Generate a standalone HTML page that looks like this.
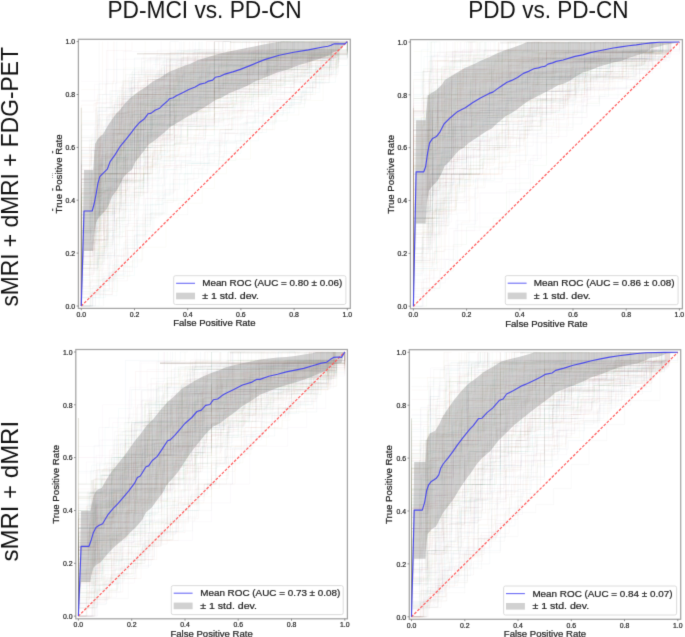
<!DOCTYPE html>
<html><head><meta charset="utf-8"><style>
html,body{margin:0;padding:0;background:#fff;width:685px;height:637px;overflow:hidden;font-family:"Liberation Sans", sans-serif;}
svg{display:block;}
</style></head><body>
<svg width="685" height="637" viewBox="0 0 685 637" font-family='"Liberation Sans", sans-serif'>
<defs><filter id="blur" x="0" y="0" width="1" height="1" filterUnits="objectBoundingBox" color-interpolation-filters="sRGB"><feConvolveMatrix order="3" kernelMatrix="0.0113 0.0838 0.0113 0.0838 0.6193 0.0838 0.0113 0.0838 0.0113" edgeMode="duplicate" preserveAlpha="false"/></filter></defs>
<g filter="url(#blur)"><rect x="0" y="0" width="685" height="637" fill="#fff"/>
<clipPath id="clipTL"><rect x="78.4" y="39.3" width="271.9" height="269.1"/></clipPath>
<g clip-path="url(#clipTL)">
<g fill="none" stroke="#3a739b" stroke-opacity="0.055" stroke-width="0.7"><path d="M81.3 137.7H98.0H114.6V101.7H131.2V77.7H147.8H164.5V65.6H181.1H197.7V53.6H214.3V41.6H230.9"/><path d="M81.3 269.9H98.0V257.9H114.6V209.9H131.2H147.8V185.8H164.5V137.7H181.1V125.7H197.7H214.3V101.7H230.9V89.7H247.6H264.2H280.8V77.7H297.4V65.6H314.1H330.7V53.6"/><path d="M81.3 239.9H90.5V213.5H99.7V200.2H108.9V173.8H118.0H127.2H136.4V134.1H145.5H154.7H163.9H173.1V120.9H182.2V107.7H191.4H200.6V94.5H209.7H218.9H228.1V81.3H237.3H246.4H255.6H264.8V68.0H273.9H283.1H292.3V54.8H301.4H310.6H319.8H329.0H338.1V41.6"/><path d="M81.3 231.6H89.4H97.5V223.4H105.5V215.1H113.6V182.1H121.6H129.7V165.5H137.8H145.8V132.5H153.9H161.9H170.0V124.2H178.1H186.1H194.2V116.0H202.2H210.3V91.2H218.4V82.9H226.4H234.5H242.5H250.6H258.6V66.4H266.7H274.8H282.8H290.9V58.1H298.9H307.0H315.1H323.1H331.2V49.9H339.2"/><path d="M81.3 306.0V217.9H92.0H102.6V140.8H113.3H123.9H134.5V129.7H145.2V107.7H155.8H166.5V85.7H177.1H187.7V74.7H198.4V63.6H209.0H219.6H230.3H240.9H251.6V52.6H262.2H272.8V41.6H283.5H294.1H304.7"/><path d="M81.3 223.9H91.6H101.8V187.5H112.0V178.4H122.3V169.2H132.5V114.5H142.7H153.0H163.2H173.4V105.4H183.6H193.9V96.3H204.1V87.2H214.3H224.6H234.8H245.0V69.0H255.2H265.5H275.7H285.9H296.2V50.7H306.4H316.6H326.8H337.1H347.3V41.6"/><path d="M81.3 180.1H98.0V154.9H114.6V104.6H131.2H147.8V79.4H164.5V54.2H181.1H197.7H214.3H230.9H247.6H264.2V41.6"/><path d="M81.3 292.8H97.0V253.1H112.6V226.7H128.3V187.0H143.9V173.8H159.6V160.6H175.2H190.9V120.9H206.5H222.1V107.7H237.8H253.4V94.5H269.1H284.7V81.3H300.4H316.0V68.0H331.7V54.8H347.3V41.6"/><path d="M81.3 306.0V214.0H90.2H99.1V191.0H107.9V168.1H116.8V145.1H125.7H134.5V122.1H143.4V110.6H152.3H161.1H170.0V99.1H178.9V76.1H187.7H196.6H205.5H214.3V64.6H223.2H232.1H240.9V53.1H249.8H258.6H267.5H276.4H285.2H294.1V41.6"/><path d="M81.3 233.1H91.6V196.6H101.8V160.1H112.0V151.0H122.3H132.5V114.5H142.7V105.4H153.0H163.2H173.4V78.1H183.6V69.0H193.9H204.1H214.3V59.8H224.6H234.8H245.0H255.2H265.5H275.7V50.7H285.9H296.2H306.4H316.6V41.6"/><path d="M81.3 306.0V214.8H89.7H98.0H106.3V178.4H114.6H122.9V169.2H131.2V141.9H139.5H147.8H156.1V123.7H164.5V114.5H172.8V105.4H181.1H189.4V96.3H197.7V59.8H206.0H214.3H222.6H230.9H239.3H247.6H255.9H264.2H272.5H280.8H289.1H297.4V50.7H305.7H314.1H322.4H330.7H339.0V41.6"/><path d="M81.3 206.9H94.6H107.9V198.6H121.2V165.5H134.5V140.8H147.8V124.2H161.1H174.4V99.4H187.7H201.0V74.7H214.3H227.6H240.9H254.2H267.5V66.4H280.8H294.1H307.4V58.1H320.7V49.9H334.0"/><path d="M81.3 152.9H89.7V139.0H98.0V111.2H106.3V69.4H114.6H122.9H131.2H139.5H147.8H156.1V55.5H164.5H172.8H181.1V41.6"/><path d="M81.3 306.0V140.8H90.2H99.1V107.7H107.9H116.8H125.7V91.2H134.5V58.1H143.4H152.3H161.1H170.0V41.6H178.9"/><path d="M81.3 306.0V194.1H89.4V173.8H97.5V163.6H105.5V153.5H113.6V133.1H121.6V112.8H129.7V102.6H137.8H145.8H153.9V92.4H161.9H170.0H178.1V82.3H186.1H194.2H202.2V72.1H210.3H218.4H226.4V61.9H234.5H242.5H250.6H258.6H266.7V41.6"/><path d="M81.3 203.2H95.3V129.7H109.3V115.0H123.3H137.3V100.4H151.3H165.3V85.7H179.3V71.0H193.3H207.3H221.3V56.3H235.3H249.3H263.3H277.3V41.6H291.3"/><path d="M81.3 264.3H89.2H97.0V208.6H104.8H112.6V180.8H120.5H128.3V166.8H136.1V152.9H143.9V139.0H151.7V125.1H159.6H167.4H175.2V111.2H183.0H190.9H198.7V97.3H206.5H214.3H222.1V83.3H230.0H237.8H245.6H253.4H261.3H269.1V69.4H276.9H284.7H292.5H300.4H308.2V55.5H316.0H323.8H331.7V41.6"/><path d="M81.3 226.7H90.2H99.1H107.9V200.2H116.8V160.6H125.7H134.5H143.4V147.4H152.3V134.1H161.1H170.0V120.9H178.9H187.7H196.6V107.7H205.5H214.3H223.2V94.5H232.1H240.9V81.3H249.8H258.6H267.5H276.4H285.2H294.1V68.0H303.0H311.8V54.8H320.7H329.6H338.4"/><path d="M81.3 208.1H92.0V188.5H102.6V149.3H113.3H123.9V129.7H134.5H145.2V119.9H155.8V80.8H166.5H177.1V71.0H187.7H198.4H209.0H219.6H230.3H240.9V61.2H251.6V51.4H262.2H272.8H283.5H294.1V41.6H304.7"/><path d="M81.3 306.0V162.8H96.1H110.9V96.7H125.7H140.4H155.2V74.7H170.0V52.6H184.8H199.6H214.3V41.6"/><path d="M81.3 306.0V125.1H90.2H99.1V83.3H107.9H116.8V41.6"/><path d="M81.3 306.0V164.4H92.4H103.5V126.6H114.6V117.1H125.7V88.8H136.8H147.8V79.4H158.9V69.9H170.0H181.1V51.0H192.2H203.2H214.3H225.4V41.6"/><path d="M81.3 268.2H98.0V255.6H114.6V205.3H131.2V192.7H147.8V154.9H164.5V142.3H181.1V129.7H197.7V104.6H214.3H230.9V92.0H247.6H264.2V79.4H280.8V66.8H297.4H314.1H330.7V54.2"/><path d="M81.3 136.0H94.0H106.7V117.1H119.3V98.3H132.0V79.4H144.7V60.5H157.3H170.0H182.7H195.3V41.6"/><path d="M81.3 264.3H89.2H97.0H104.8V236.4H112.6V208.6H120.5V180.8H128.3H136.1H143.9V152.9H151.7H159.6H167.4V125.1H175.2H183.0V97.3H190.9H198.7H206.5H214.3H222.1H230.0H237.8H245.6H253.4V83.3H261.3H269.1H276.9H284.7V69.4H292.5H300.4H308.2H316.0H323.8V55.5H331.7H339.5"/><path d="M81.3 306.0H95.3V290.4H109.3V274.9H123.3V267.1H137.3V220.5H151.3V212.7H165.3V189.4H179.3V173.8H193.3H207.3V142.7H221.3H235.3V134.9H249.3V127.1H263.3V103.8H277.3H291.3H305.3V88.3H319.3V72.7H333.3V57.2"/></g>
<g fill="none" stroke="#cc792f" stroke-opacity="0.055" stroke-width="0.7"><path d="M81.3 268.2H90.2H99.1V230.5H107.9H116.8V180.1H125.7H134.5H143.4V167.5H152.3V142.3H161.1H170.0V129.7H178.9H187.7H196.6V117.1H205.5H214.3V104.6H223.2H232.1V92.0H240.9H249.8H258.6V79.4H267.5H276.4H285.2V66.8H294.1H303.0H311.8H320.7V54.2H329.6H338.4"/><path d="M81.3 248.5H93.4H105.5V191.0H117.6V179.5H129.7V156.6H141.8H153.9V122.1H166.0V110.6H178.1H190.1H202.2V99.1H214.3V87.6H226.4H238.5H250.6H262.7V76.1H274.8V64.6H286.9H298.9H311.0V53.1H323.1H335.2"/><path d="M81.3 89.7H92.0H102.6V41.6"/><path d="M81.3 156.6H96.1V99.1H110.9H125.7H140.4V76.1H155.2H170.0V53.1H184.8V41.6"/><path d="M81.3 160.6H89.2H97.0V107.7H104.8H112.6V81.3H120.5H128.3H136.1H143.9H151.7H159.6V54.8H167.4H175.2V41.6"/><path d="M81.3 173.8H89.4V144.4H97.5V115.0H105.5H113.6H121.6V85.7H129.7H137.8H145.8V71.0H153.9H161.9H170.0V56.3H178.1H186.1H194.2H202.2H210.3H218.4V41.6"/><path d="M81.3 226.7H95.3V173.8H109.3H123.3V160.6H137.3V120.9H151.3V107.7H165.3H179.3V94.5H193.3V81.3H207.3H221.3H235.3H249.3V68.0H263.3H277.3H291.3V54.8H305.3H319.3V41.6"/><path d="M81.3 239.9H90.5V213.5H99.7V173.8H108.9H118.0V134.1H127.2H136.4H145.5V94.5H154.7H163.9H173.1V81.3H182.2H191.4H200.6H209.7H218.9H228.1V68.0H237.3H246.4H255.6V54.8H264.8H273.9H283.1H292.3V41.6"/><path d="M81.3 243.8H94.6H107.9V181.6H121.2V150.5H134.5H147.8V134.9H161.1V119.4H174.4V103.8H187.7H201.0H214.3V72.7H227.6H240.9H254.2H267.5V57.2H280.8H294.1H307.4H320.7H334.0V41.6"/><path d="M81.3 249.3H91.2H101.0V211.6H110.9V173.8H120.8H130.6H140.4H150.3V154.9H160.2V136.0H170.0H179.9V117.1H189.7V98.3H199.6H209.4H219.2V79.4H229.1H239.0H248.8H258.6V60.5H268.5H278.4H288.2H298.1H307.9H317.8H327.6V41.6H337.5"/><path d="M81.3 169.2H99.1V114.5H116.8V105.4H134.5H152.3H170.0V78.1H187.7H205.5V59.8H223.2H240.9V50.7H258.6H276.4V41.6"/><path d="M81.3 293.4H90.2H99.1V268.2H107.9H116.8V255.6H125.7V230.5H134.5V192.7H143.4H152.3V167.5H161.1H170.0V154.9H178.9V142.3H187.7H196.6V129.7H205.5H214.3H223.2H232.1V117.1H240.9V92.0H249.8H258.6H267.5H276.4H285.2H294.1V79.4H303.0H311.8H320.7H329.6V66.8H338.4V54.2"/><path d="M81.3 261.9H92.9H104.5V173.8H116.0V159.1H127.6H139.2V144.4H150.7V129.7H162.3V115.0H173.9H185.4H197.0H208.5V100.4H220.1V85.7H231.7V71.0H243.2H254.8H266.4H277.9V56.3H289.5H301.0H312.6H324.2H335.7"/><path d="M81.3 274.9H91.2V267.1H101.0V220.5H110.9H120.8H130.6V197.1H140.4V173.8H150.3V166.0H160.2H170.0V150.5H179.9V134.9H189.7H199.6V119.4H209.4H219.2H229.1V103.8H239.0H248.8V96.0H258.6H268.5V88.3H278.4V80.5H288.2H298.1V72.7H307.9H317.8V57.2H327.6H337.5V49.4"/><path d="M81.3 192.7H94.6H107.9V154.9H121.2V117.1H134.5H147.8V98.3H161.1H174.4V79.4H187.7H201.0V60.5H214.3H227.6H240.9H254.2H267.5H280.8V41.6"/><path d="M81.3 154.9H90.8H100.3V117.1H109.8H119.3H128.8V98.3H138.3H147.8V79.4H157.3H166.8H176.3V60.5H185.8H195.3H204.8H214.3V41.6"/><path d="M81.3 306.0V255.6H92.4H103.5V205.3H114.6V192.7H125.7V180.1H136.8V142.3H147.8H158.9V129.7H170.0H181.1H192.2H203.2V104.6H214.3H225.4H236.5V66.8H247.6H258.6H269.7H280.8H291.9H303.0V54.2H314.1H325.1H336.2"/><path d="M81.3 154.9H92.0H102.6V142.3H113.3V104.6H123.9V92.0H134.5V79.4H145.2H155.8H166.5V66.8H177.1H187.7V54.2H198.4H209.0H219.6H230.3V41.6"/><path d="M81.3 306.0V274.0H92.4H103.5H114.6V249.9H125.7V225.9H136.8V169.8H147.8V137.7H158.9H170.0H181.1H192.2H203.2V129.7H214.3V113.7H225.4H236.5H247.6V89.7H258.6H269.7V81.7H280.8H291.9H303.0V65.6H314.1H325.1H336.2V57.6"/><path d="M81.3 197.1H100.3V166.0H119.3V103.8H138.3V88.3H157.3H176.3V72.7H195.3V57.2H214.3H233.3H252.3H271.3V41.6"/><path d="M81.3 306.0V179.5H97.0V156.6H112.6V133.6H128.3V110.6H143.9V76.1H159.6H175.2H190.9H206.5H222.1V64.6H237.8H253.4V53.1H269.1V41.6H284.7"/><path d="M81.3 156.6H90.8H100.3V133.6H109.8H119.3V87.6H128.8H138.3H147.8V76.1H157.3H166.8V53.1H176.3H185.8H195.3H204.8H214.3H223.8V41.6"/><path d="M81.3 288.4H92.0H102.6H113.3V270.7H123.9V253.1H134.5V235.5H145.2V217.9H155.8V200.2H166.5H177.1V165.0H187.7H198.4H209.0H219.6V129.7H230.3H240.9H251.6H262.2H272.8V94.5H283.5H294.1H304.7H315.4V76.9H326.0H336.7V59.2H347.3V41.6"/><path d="M81.3 279.6H90.2H99.1V270.7H107.9V253.1H116.8V217.9H125.7V191.4H134.5H143.4V173.8H152.3V165.0H161.1V156.2H170.0H178.9V147.4H187.7V138.5H196.6H205.5V129.7H214.3H223.2H232.1V112.1H240.9H249.8H258.6V85.7H267.5H276.4V76.9H285.2H294.1H303.0H311.8H320.7V68.0H329.6H338.4V59.2"/><path d="M81.3 306.0V188.5H92.4V173.8H103.5H114.6V129.7H125.7V115.0H136.8H147.8V100.4H158.9V85.7H170.0H181.1V71.0H192.2H203.2H214.3H225.4H236.5H247.6H258.6V41.6"/><path d="M81.3 306.0V105.1H89.4H97.5V94.5H105.5V83.9H113.6V41.6"/></g>
<g fill="none" stroke="#438e43" stroke-opacity="0.055" stroke-width="0.7"><path d="M81.3 306.0V291.3H90.2V276.6H99.1V247.2H107.9V232.6H116.8V217.9H125.7V188.5H134.5H143.4V173.8H152.3V159.1H161.1V144.4H170.0H178.9H187.7V129.7H196.6H205.5V115.0H214.3H223.2H232.1V100.4H240.9H249.8V85.7H258.6H267.5H276.4H285.2V71.0H294.1H303.0H311.8H320.7H329.6V56.3H338.4"/><path d="M81.3 236.4H92.9V208.6H104.5H116.0V180.8H127.6V125.1H139.2H150.7V111.2H162.3H173.9V83.3H185.4H197.0H208.5H220.1H231.7V69.4H243.2H254.8V55.5H266.4H277.9H289.5H301.0H312.6H324.2V41.6H335.7"/><path d="M81.3 200.2H93.4H105.5V173.8H117.6V134.1H129.7H141.8H153.9V107.7H166.0V94.5H178.1V81.3H190.1H202.2H214.3V68.0H226.4H238.5H250.6H262.7H274.8V54.8H286.9H298.9H311.0H323.1V41.6"/><path d="M81.3 306.0V261.9H92.4H103.5V203.2H114.6H125.7V159.1H136.8H147.8V129.7H158.9H170.0V115.0H181.1H192.2V100.4H203.2H214.3H225.4H236.5V85.7H247.6V71.0H258.6H269.7H280.8H291.9V56.3H303.0H314.1H325.1H336.2V41.6"/><path d="M81.3 230.5H92.4V192.7H103.5V167.5H114.6H125.7H136.8V117.1H147.8H158.9H170.0V104.6H181.1H192.2H203.2V92.0H214.3H225.4V66.8H236.5H247.6H258.6H269.7V54.2H280.8H291.9H303.0H314.1H325.1H336.2V41.6"/><path d="M81.3 253.1H92.9H104.5V213.5H116.0V187.0H127.6H139.2V147.4H150.7H162.3V134.1H173.9V120.9H185.4H197.0V107.7H208.5H220.1V94.5H231.7H243.2H254.8V81.3H266.4V68.0H277.9H289.5H301.0V54.8H312.6H324.2H335.7"/><path d="M81.3 230.5H89.4V211.6H97.5V192.7H105.5V154.9H113.6H121.6H129.7H137.8V117.1H145.8H153.9V98.3H161.9H170.0H178.1H186.1V79.4H194.2H202.2H210.3H218.4H226.4V60.5H234.5H242.5H250.6H258.6H266.7H274.8H282.8H290.9H298.9H307.0H315.1H323.1H331.2V41.6"/><path d="M81.3 280.4H91.6H101.8V246.3H112.0V237.8H122.3V195.1H132.5H142.7V178.1H153.0H163.2V161.0H173.4V143.9H183.6H193.9V135.4H204.1H214.3V118.4H224.6H234.8V101.3H245.0H255.2H265.5V75.7H275.7H285.9H296.2H306.4H316.6V67.2H326.8H337.1V50.1"/><path d="M81.3 306.0V188.5H91.6V139.5H101.8V119.9H112.0V100.4H122.3V80.8H132.5V71.0H142.7H153.0H163.2V61.2H173.4H183.6V51.4H193.9H204.1H214.3H224.6H234.8V41.6"/><path d="M81.3 263.7H92.0H102.6V242.5H113.3V232.0H123.9V200.2H134.5V157.9H145.2H155.8H166.5H177.1V136.8H187.7V126.2H198.4H209.0V105.1H219.6H230.3H240.9H251.6V83.9H262.2H272.8H283.5H294.1V73.3H304.7H315.4V62.8H326.0H336.7V52.2H347.3V41.6"/><path d="M81.3 261.9H90.2H99.1V239.9H107.9V195.8H116.8H125.7H134.5H143.4V162.8H152.3V151.8H161.1H170.0V140.8H178.9H187.7V118.7H196.6H205.5H214.3V107.7H223.2H232.1V96.7H240.9H249.8H258.6H267.5H276.4V85.7H285.2V74.7H294.1H303.0V63.6H311.8H320.7H329.6H338.4V52.6H347.3V41.6"/><path d="M81.3 306.0H89.9V292.8H98.5V279.6H107.1H115.7V266.3H124.2H132.8V226.7H141.4H150.0V213.5H158.6H167.1V200.2H175.7H184.3V173.8H192.9H201.5H210.0H218.6V160.6H227.2H235.8V147.4H244.4V134.1H252.9V120.9H261.5H270.1H278.7H287.2V107.7H295.8H304.4V94.5H313.0V81.3H321.6V68.0H330.1V54.8H338.7H347.3V41.6"/><path d="M81.3 197.1H100.3V158.2H119.3V150.5H138.3V103.8H157.3H176.3V88.3H195.3V72.7H214.3V57.2H233.3H252.3H271.3V49.4H290.3H309.3V41.6"/><path d="M81.3 221.9H100.3V173.8H119.3V149.8H138.3V125.7H157.3H176.3V101.7H195.3H214.3V77.7H233.3V65.6H252.3V53.6H271.3H290.3V41.6"/><path d="M81.3 190.3H96.1V107.7H110.9V91.2H125.7V74.7H140.4H155.2H170.0V58.1H184.8H199.6V41.6"/><path d="M81.3 223.4H89.4H97.5V206.9H105.5V190.3H113.6V157.3H121.6V140.8H129.7V124.2H137.8H145.8H153.9H161.9V91.2H170.0H178.1H186.1H194.2H202.2H210.3V74.7H218.4H226.4H234.5H242.5V58.1H250.6H258.6H266.7H274.8H282.8H290.9H298.9H307.0H315.1V41.6"/><path d="M81.3 258.8H94.6H107.9V202.1H121.2V183.2H134.5V173.8H147.8V145.5H161.1H174.4V136.0H187.7V126.6H201.0V98.3H214.3V88.8H227.6H240.9H254.2V79.4H267.5V51.0H280.8H294.1H307.4H320.7H334.0H347.3V41.6"/><path d="M81.3 214.8H92.0H102.6V187.5H113.3V169.2H123.9V123.7H134.5V114.5H145.2V105.4H155.8H166.5H177.1V96.3H187.7V87.2H198.4V78.1H209.0H219.6H230.3H240.9V69.0H251.6V59.8H262.2H272.8V50.7H283.5H294.1H304.7H315.4V41.6"/><path d="M81.3 306.0V242.5H95.3V179.1H109.3H123.3V147.4H137.3H151.3V115.6H165.3V105.1H179.3V94.5H193.3H207.3V73.3H221.3V62.8H235.3H249.3H263.3H277.3V52.2H291.3H305.3H319.3H333.3"/><path d="M81.3 231.6H100.3V190.3H119.3V182.1H138.3V140.8H157.3V116.0H176.3V107.7H195.3H214.3V74.7H233.3H252.3H271.3V66.4H290.3V58.1H309.3H328.3V49.9"/><path d="M81.3 185.8H94.0V169.8H106.7H119.3V129.7H132.0V121.7H144.7V105.7H157.3H170.0V81.7H182.7H195.3H208.0V65.6H220.7H233.3H246.0H258.6V57.6H271.3H284.0V49.6H296.6H309.3H322.0V41.6H334.6"/><path d="M81.3 306.0V203.2H97.0V173.8H112.6V159.1H128.3V129.7H143.9V100.4H159.6H175.2V85.7H190.9V71.0H206.5V56.3H222.1H237.8H253.4H269.1V41.6"/><path d="M81.3 206.9H91.2H101.0V173.8H110.9H120.8V140.8H130.6H140.4V124.2H150.3H160.2V107.7H170.0H179.9H189.7H199.6V91.2H209.4H219.2V74.7H229.1H239.0H248.8H258.6V58.1H268.5H278.4H288.2H298.1V41.6"/><path d="M81.3 306.0V184.8H93.4H105.5V129.7H117.6V96.7H129.7H141.8V85.7H153.9H166.0H178.1V63.6H190.1H202.2H214.3V41.6"/><path d="M81.3 239.9H89.2H97.0V190.3H104.8H112.6H120.5V165.5H128.3H136.1V157.3H143.9V132.5H151.7H159.6H167.4V124.2H175.2V116.0H183.0H190.9V107.7H198.7H206.5V82.9H214.3H222.1H230.0H237.8H245.6H253.4H261.3H269.1V66.4H276.9V58.1H284.7H292.5H300.4H308.2H316.0H323.8H331.7V49.9H339.5H347.3V41.6"/><path d="M81.3 217.9H98.0V165.0H114.6H131.2V94.5H147.8H164.5H181.1H197.7H214.3V59.2H230.9H247.6H264.2H280.8V41.6H297.4H314.1"/></g>
<g fill="none" stroke="#b13f40" stroke-opacity="0.055" stroke-width="0.7"><path d="M81.3 112.1H94.0V103.3H106.7V50.4H119.3H132.0V41.6"/><path d="M81.3 239.9H94.0H106.7V228.9H119.3V184.8H132.0V162.8H144.7H157.3V129.7H170.0V107.7H182.7H195.3H208.0H220.7H233.3V96.7H246.0V85.7H258.6V74.7H271.3H284.0V63.6H296.6H309.3H322.0V52.6H334.6"/><path d="M81.3 206.9H94.0V190.3H106.7V157.3H119.3V124.2H132.0V91.2H144.7H157.3H170.0V41.6"/><path d="M81.3 179.5H96.1V145.1H110.9V122.1H125.7H140.4V87.6H155.2H170.0V76.1H184.8V64.6H199.6H214.3V41.6H229.1"/><path d="M81.3 256.4H92.9V239.9H104.5V190.3H116.0H127.6V157.3H139.2H150.7V140.8H162.3H173.9V124.2H185.4H197.0V107.7H208.5V91.2H220.1H231.7H243.2V74.7H254.8H266.4V58.1H277.9H289.5H301.0H312.6H324.2H335.7V41.6"/><path d="M81.3 294.5H97.0H112.6V260.0H128.3V248.5H143.9V191.0H159.6H175.2V156.6H190.9V145.1H206.5H222.1V133.6H237.8V110.6H253.4H269.1V99.1H284.7V87.6H300.4H316.0V76.1H331.7V64.6"/><path d="M81.3 306.0V204.3H93.4V184.0H105.5V153.5H117.6V143.3H129.7V123.0H141.8V112.8H153.9V102.6H166.0V92.4H178.1H190.1V72.1H202.2V51.8H214.3H226.4H238.5H250.6H262.7V41.6"/><path d="M81.3 194.1H99.1V143.3H116.8V112.8H134.5H152.3V92.4H170.0V82.3H187.7H205.5V72.1H223.2H240.9V61.9H258.6H276.4V41.6"/><path d="M81.3 306.0V268.2H90.2V230.5H99.1V192.7H107.9H116.8V167.5H125.7V154.9H134.5H143.4V117.1H152.3H161.1H170.0H178.9V92.0H187.7H196.6H205.5H214.3H223.2H232.1H240.9H249.8V79.4H258.6V66.8H267.5H276.4H285.2V54.2H294.1H303.0H311.8H320.7H329.6H338.4H347.3V41.6"/><path d="M81.3 206.9H91.6V195.8H101.8V140.8H112.0H122.3V107.7H132.5H142.7V96.7H153.0H163.2V74.7H173.4H183.6H193.9V52.6H204.1H214.3H224.6H234.8H245.0H255.2V41.6"/><path d="M81.3 178.7H98.0V139.5H114.6H131.2V119.9H147.8V90.6H164.5V71.0H181.1V61.2H197.7H214.3H230.9V51.4H247.6H264.2H280.8V41.6"/><path d="M81.3 260.0H99.1V225.5H116.8V202.5H134.5V168.1H152.3V156.6H170.0V122.1H187.7H205.5H223.2V110.6H240.9V99.1H258.6V87.6H276.4H294.1V76.1H311.8H329.6V64.6"/><path d="M81.3 306.0V165.0H90.8V147.4H100.3V129.7H109.8H119.3V94.5H128.8H138.3H147.8V59.2H157.3H166.8H176.3H185.8H195.3H204.8H214.3V41.6"/><path d="M81.3 306.0V201.8H99.1V193.8H116.8V153.8H134.5V129.7H152.3V105.7H170.0V89.7H187.7H205.5V73.6H223.2V65.6H240.9H258.6V57.6H276.4H294.1H311.8V41.6"/><path d="M81.3 253.1H92.4V235.5H103.5V191.4H114.6V182.6H125.7V173.8H136.8V147.4H147.8V112.1H158.9H170.0H181.1H192.2V85.7H203.2H214.3H225.4H236.5H247.6V68.0H258.6V59.2H269.7H280.8H291.9H303.0H314.1V41.6"/><path d="M81.3 173.8H91.6H101.8V154.9H112.0V117.1H122.3H132.5V98.3H142.7H153.0V79.4H163.2H173.4H183.6H193.9V60.5H204.1H214.3H224.6H234.8H245.0H255.2V41.6"/><path d="M81.3 210.8H91.2V200.2H101.0V157.9H110.9V147.4H120.8H130.6V126.2H140.4V94.5H150.3H160.2H170.0H179.9H189.7V83.9H199.6H209.4V73.3H219.2V62.8H229.1H239.0H248.8H258.6H268.5V52.2H278.4H288.2H298.1H307.9H317.8H327.6H337.5V41.6"/><path d="M81.3 188.5H90.8H100.3V144.4H109.8V129.7H119.3V115.0H128.8V100.4H138.3V71.0H147.8H157.3H166.8H176.3H185.8H195.3V56.3H204.8H214.3H223.8H233.3V41.6"/><path d="M81.3 274.9H93.4V228.2H105.5V197.1H117.6H129.7V181.6H141.8V166.0H153.9V150.5H166.0V134.9H178.1V119.4H190.1H202.2H214.3V88.3H226.4V72.7H238.5H250.6H262.7H274.8H286.9H298.9H311.0V57.2H323.1H335.2V41.6"/><path d="M81.3 193.8H90.5V177.8H99.7V137.7H108.9V113.7H118.0H127.2V105.7H136.4V97.7H145.5V89.7H154.7H163.9V81.7H173.1H182.2V57.6H191.4H200.6H209.7H218.9H228.1V49.6H237.3H246.4V41.6"/><path d="M81.3 137.7H97.0V125.7H112.6V113.7H128.3V77.7H143.9V53.6H159.6H175.2H190.9H206.5V41.6H222.1"/><path d="M81.3 147.4H95.3H109.3H123.3V81.3H137.3H151.3H165.3H179.3H193.3V68.0H207.3H221.3V54.8H235.3H249.3V41.6"/><path d="M81.3 221.0H90.2H99.1V173.8H107.9H116.8H125.7H134.5V145.5H143.4V107.7H152.3H161.1H170.0H178.9H187.7V98.3H196.6H205.5V88.8H214.3H223.2V79.4H232.1H240.9H249.8V60.5H258.6H267.5H276.4H285.2V51.0H294.1H303.0H311.8H320.7H329.6H338.4"/><path d="M81.3 123.0H96.1V102.6H110.9H125.7V41.6"/><path d="M81.3 306.0V249.3H94.6V211.6H107.9H121.2V192.7H134.5H147.8V145.5H161.1H174.4V117.1H187.7V107.7H201.0H214.3V98.3H227.6V88.8H240.9H254.2V79.4H267.5V69.9H280.8V60.5H294.1H307.4H320.7H334.0V51.0H347.3V41.6"/><path d="M81.3 306.0V287.1H89.4V268.2H97.5V239.9H105.5H113.6V192.7H121.6V173.8H129.7H137.8H145.8V136.0H153.9H161.9H170.0H178.1V126.6H186.1H194.2H202.2V107.7H210.3H218.4H226.4V88.8H234.5H242.5H250.6H258.6V79.4H266.7H274.8V69.9H282.8H290.9H298.9H307.0V60.5H315.1H323.1H331.2V51.0H339.2"/></g>
<g fill="none" stroke="#8669a1" stroke-opacity="0.055" stroke-width="0.7"><path d="M81.3 149.3H95.3V110.1H109.3V90.6H123.3V51.4H137.3H151.3H165.3H179.3V41.6"/><path d="M81.3 256.4H92.9V239.9H104.5V190.3H116.0H127.6V173.8H139.2V140.8H150.7H162.3V124.2H173.9V91.2H185.4H197.0H208.5H220.1V74.7H231.7H243.2H254.8H266.4H277.9V58.1H289.5H301.0H312.6H324.2H335.7V41.6"/><path d="M81.3 129.7H90.2H99.1V94.5H107.9H116.8V59.2H125.7H134.5H143.4H152.3H161.1V41.6"/><path d="M81.3 257.0H90.2V227.7H99.1V178.7H107.9H116.8H125.7H134.5V139.5H143.4V119.9H152.3H161.1V110.1H170.0V100.4H178.9H187.7H196.6H205.5V90.6H214.3H223.2V71.0H232.1H240.9H249.8H258.6H267.5H276.4H285.2V61.2H294.1H303.0H311.8V51.4H320.7H329.6H338.4"/><path d="M81.3 228.2H98.0V212.7H114.6V181.6H131.2V150.5H147.8V134.9H164.5H181.1V103.8H197.7H214.3V88.3H230.9H247.6V72.7H264.2H280.8H297.4V57.2H314.1H330.7H347.3V41.6"/><path d="M81.3 184.8H89.9H98.5V151.8H107.1V107.7H115.7H124.2V96.7H132.8V85.7H141.4H150.0H158.6V74.7H167.1H175.7V63.6H184.3H192.9V52.6H201.5H210.0H218.6H227.2H235.8H244.4H252.9H261.5H270.1V41.6H278.7"/><path d="M81.3 306.0V243.8H98.0V189.4H114.6V173.8H131.2V150.5H147.8V134.9H164.5V96.0H181.1H197.7V80.5H214.3H230.9H247.6H264.2H280.8V57.2H297.4H314.1H330.7V49.4"/><path d="M81.3 306.0V158.2H94.6V127.1H107.9V119.4H121.2V88.3H134.5V72.7H147.8H161.1V64.9H174.4H187.7V49.4H201.0V41.6"/><path d="M81.3 248.2H97.0V215.1H112.6V157.3H128.3V140.8H143.9V124.2H159.6V116.0H175.2H190.9V99.4H206.5V74.7H222.1H237.8H253.4V58.1H269.1H284.7H300.4V49.9H316.0H331.7V41.6"/><path d="M81.3 217.9H92.4V203.2H103.5H114.6H125.7V159.1H136.8V129.7H147.8H158.9V115.0H170.0V100.4H181.1H192.2H203.2H214.3V85.7H225.4H236.5H247.6V71.0H258.6H269.7H280.8H291.9V56.3H303.0V41.6"/><path d="M81.3 182.6H92.0V165.0H102.6V147.4H113.3V129.7H123.9V112.1H134.5H145.2V94.5H155.8V76.9H166.5V59.2H177.1H187.7H198.4H209.0H219.6V41.6"/><path d="M81.3 306.0V212.7H94.0H106.7H119.3V166.0H132.0H144.7V150.5H157.3H170.0V119.4H182.7H195.3V88.3H208.0H220.7H233.3V72.7H246.0H258.6H271.3H284.0H296.6H309.3V57.2H322.0H334.6"/><path d="M81.3 182.6H90.8H100.3V165.0H109.8V147.4H119.3H128.8V129.7H138.3V94.5H147.8V76.9H157.3H166.8V59.2H176.3H185.8H195.3H204.8H214.3H223.8H233.3H242.8H252.3H261.8H271.3V41.6"/><path d="M81.3 306.0V208.6H92.4H103.5V194.7H114.6H125.7V139.0H136.8H147.8H158.9V125.1H170.0V111.2H181.1V97.3H192.2H203.2V83.3H214.3H225.4V69.4H236.5H247.6H258.6H269.7H280.8V55.5H291.9H303.0H314.1H325.1H336.2"/><path d="M81.3 217.9H90.5V184.8H99.7V151.8H108.9V140.8H118.0V129.7H127.2V96.7H136.4H145.5H154.7H163.9V85.7H173.1H182.2V74.7H191.4H200.6H209.7V63.6H218.9H228.1V52.6H237.3H246.4H255.6H264.8V41.6"/><path d="M81.3 165.0H92.4H103.5V129.7H114.6H125.7H136.8V94.5H147.8H158.9H170.0V76.9H181.1H192.2H203.2V59.2H214.3H225.4H236.5H247.6H258.6H269.7V41.6"/><path d="M81.3 157.9H97.0H112.6V105.1H128.3H143.9V83.9H159.6V62.8H175.2H190.9H206.5V52.2H222.1H237.8H253.4H269.1V41.6"/><path d="M81.3 306.0V237.0H91.2V202.5H101.0V156.6H110.9H120.8V145.1H130.6V133.6H140.4V110.6H150.3V99.1H160.2V87.6H170.0H179.9H189.7H199.6V76.1H209.4V64.6H219.2H229.1H239.0V53.1H248.8H258.6H268.5H278.4H288.2H298.1V41.6"/><path d="M81.3 225.5H89.9H98.5V202.5H107.1H115.7V179.5H124.2V145.1H132.8H141.4V122.1H150.0H158.6H167.1V87.6H175.7H184.3H192.9H201.5H210.0H218.6V76.1H227.2H235.8H244.4H252.9H261.5V64.6H270.1H278.7H287.2H295.8V53.1H304.4H313.0H321.6V41.6H330.1"/><path d="M81.3 306.0V221.4H94.6V189.7H107.9H121.2V157.9H134.5V136.8H147.8H161.1V115.6H174.4H187.7V94.5H201.0H214.3V83.9H227.6H240.9H254.2V73.3H267.5V62.8H280.8V52.2H294.1H307.4H320.7H334.0V41.6"/><path d="M81.3 230.5H95.3V217.9H109.3H123.3V142.3H137.3V129.7H151.3V117.1H165.3V104.6H179.3H193.3H207.3V92.0H221.3H235.3H249.3V66.8H263.3H277.3H291.3H305.3V54.2H319.3H333.3V41.6"/><path d="M81.3 195.8H97.0H112.6V140.8H128.3H143.9V129.7H159.6V118.7H175.2V85.7H190.9H206.5H222.1H237.8V74.7H253.4V63.6H269.1H284.7V52.6H300.4H316.0H331.7V41.6"/><path d="M81.3 256.4H94.6V239.9H107.9V223.4H121.2V173.8H134.5H147.8V140.8H161.1H174.4V124.2H187.7H201.0V107.7H214.3H227.6H240.9V91.2H254.2H267.5V74.7H280.8H294.1H307.4V58.1H320.7H334.0"/><path d="M81.3 230.5H96.1V217.9H110.9V180.1H125.7V167.5H140.4V117.1H155.2H170.0V104.6H184.8V66.8H199.6H214.3H229.1H243.9H258.6V54.2H273.4V41.6"/><path d="M81.3 306.0V255.2H89.2H97.0H104.8V245.0H112.6V234.8H120.5V224.6H128.3V214.5H136.1V204.3H143.9V173.8H151.7V163.6H159.6H167.4H175.2V143.3H183.0H190.9H198.7V133.1H206.5V123.0H214.3V112.8H222.1H230.0H237.8V102.6H245.6V92.4H253.4H261.3H269.1H276.9H284.7H292.5H300.4V72.1H308.2H316.0V61.9H323.8H331.7H339.5V51.8"/><path d="M81.3 173.8H89.9H98.5H107.1H115.7V145.5H124.2V136.0H132.8V126.6H141.4H150.0V107.7H158.6H167.1V88.8H175.7H184.3H192.9H201.5V69.9H210.0H218.6H227.2H235.8H244.4H252.9H261.5H270.1V60.5H278.7H287.2H295.8V51.0H304.4H313.0H321.6H330.1V41.6H338.7"/></g>
<g fill="none" stroke="#815e57" stroke-opacity="0.055" stroke-width="0.7"><path d="M81.3 306.0H91.6V294.5H101.8H112.0V271.5H122.3H132.5V260.0H142.7V214.0H153.0H163.2V202.5H173.4V179.5H183.6H193.9V168.1H204.1V156.6H214.3H224.6V133.6H234.8H245.0V122.1H255.2H265.5H275.7V110.6H285.9V99.1H296.2H306.4V87.6H316.6V76.1H326.8V64.6H337.1"/><path d="M81.3 306.0V212.7H90.8H100.3V181.6H109.8V173.8H119.3V142.7H128.8H138.3V127.1H147.8H157.3V103.8H166.8H176.3V96.0H185.8H195.3H204.8H214.3V88.3H223.8V80.5H233.3H242.8H252.3V72.7H261.8H271.3V57.2H280.8H290.3V49.4H299.8H309.3H318.8H328.3H337.8V41.6"/><path d="M81.3 306.0H92.9V293.4H104.5V280.8H116.0H127.6V230.5H139.2H150.7V192.7H162.3H173.9V167.5H185.4V154.9H197.0H208.5H220.1V129.7H231.7V117.1H243.2H254.8V104.6H266.4H277.9H289.5H301.0V92.0H312.6V79.4H324.2V66.8H335.7V54.2H347.3V41.6"/><path d="M81.3 191.0H90.2H99.1V168.1H107.9V133.6H116.8H125.7H134.5V110.6H143.4H152.3H161.1H170.0V76.1H178.9H187.7H196.6H205.5H214.3V64.6H223.2H232.1V53.1H240.9H249.8H258.6V41.6"/><path d="M81.3 242.5H96.1V232.0H110.9V168.5H125.7H140.4V147.4H155.2V126.2H170.0V115.6H184.8V105.1H199.6H214.3V94.5H229.1V83.9H243.9H258.6V73.3H273.4H288.2V62.8H303.0V52.2H317.8H332.5"/><path d="M81.3 272.9H94.6V239.9H107.9V206.9H121.2V190.3H134.5V157.3H147.8H161.1H174.4V140.8H187.7V124.2H201.0H214.3V107.7H227.6V91.2H240.9H254.2H267.5H280.8V74.7H294.1V58.1H307.4H320.7H334.0"/><path d="M81.3 173.8H92.0H102.6V158.2H113.3V150.5H123.9V119.4H134.5H145.2H155.8V88.3H166.5H177.1V72.7H187.7H198.4H209.0H219.6H230.3H240.9V64.9H251.6H262.2V57.2H272.8V49.4H283.5H294.1H304.7H315.4H326.0V41.6"/><path d="M81.3 228.2H92.4H103.5V181.6H114.6V173.8H125.7V134.9H136.8V119.4H147.8H158.9H170.0V111.6H181.1V103.8H192.2V88.3H203.2H214.3V80.5H225.4H236.5H247.6V64.9H258.6H269.7H280.8V57.2H291.9H303.0H314.1V49.4H325.1H336.2V41.6H347.3"/><path d="M81.3 140.8H89.9H98.5H107.1V116.0H115.7V82.9H124.2H132.8V74.7H141.4V58.1H150.0H158.6H167.1H175.7H184.3H192.9V41.6"/><path d="M81.3 306.0V161.0H100.3V135.4H119.3V109.8H138.3V92.8H157.3V50.1H176.3H195.3H214.3V41.6"/><path d="M81.3 182.6H91.2H101.0V156.2H110.9V129.7H120.8V120.9H130.6H140.4V103.3H150.3H160.2V85.7H170.0V59.2H179.9H189.7H199.6H209.4H219.2H229.1H239.0H248.8V50.4H258.6H268.5H278.4V41.6"/><path d="M81.3 306.0V217.9H90.5H99.7V165.0H108.9H118.0V147.4H127.2V129.7H136.4H145.5V112.1H154.7V94.5H163.9H173.1H182.2H191.4H200.6V76.9H209.7H218.9H228.1H237.3H246.4V59.2H255.6H264.8H273.9H283.1H292.3V41.6"/><path d="M81.3 306.0V166.0H91.2V150.5H101.0V134.9H110.9H120.8V103.8H130.6V88.3H140.4H150.3V57.2H160.2H170.0H179.9H189.7V41.6"/><path d="M81.3 264.3H96.1H110.9V236.4H125.7V194.7H140.4V166.8H155.2V139.0H170.0V125.1H184.8H199.6H214.3H229.1V111.2H243.9V97.3H258.6V83.3H273.4V69.4H288.2H303.0H317.8H332.5"/><path d="M81.3 250.3H94.6H107.9V208.6H121.2V180.8H134.5H147.8V139.0H161.1H174.4V125.1H187.7V111.2H201.0V97.3H214.3V83.3H227.6H240.9H254.2H267.5V69.4H280.8H294.1H307.4V55.5H320.7H334.0"/><path d="M81.3 200.2H89.7H98.0V173.8H106.3V147.4H114.6V134.1H122.9H131.2H139.5V120.9H147.8V94.5H156.1H164.5H172.8H181.1V81.3H189.4H197.7H206.0V68.0H214.3H222.6H230.9H239.3H247.6H255.9V54.8H264.2H272.5H280.8H289.1H297.4H305.7H314.1H322.4H330.7V41.6H339.0"/><path d="M81.3 228.9H91.2H101.0V206.9H110.9V162.8H120.8H130.6H140.4V118.7H150.3H160.2V96.7H170.0H179.9H189.7H199.6H209.4H219.2V74.7H229.1H239.0H248.8H258.6H268.5V63.6H278.4H288.2H298.1H307.9V52.6H317.8H327.6H337.5H347.3V41.6"/><path d="M81.3 257.0H94.6H107.9V188.5H121.2V178.7H134.5V168.9H147.8V159.1H161.1V139.5H174.4V110.1H187.7H201.0H214.3V80.8H227.6H240.9H254.2H267.5H280.8V71.0H294.1V61.2H307.4H320.7V51.4H334.0H347.3V41.6"/><path d="M81.3 306.0V230.5H90.5H99.7V211.6H108.9V192.7H118.0V183.2H127.2V164.4H136.4V136.0H145.5H154.7H163.9V107.7H173.1H182.2H191.4H200.6H209.7H218.9V88.8H228.1V79.4H237.3H246.4H255.6H264.8V69.9H273.9H283.1V60.5H292.3V51.0H301.4H310.6H319.8H329.0H338.1"/><path d="M81.3 306.0V210.8H100.3V179.1H119.3V168.5H138.3V94.5H157.3H176.3H195.3H214.3V73.3H233.3H252.3V62.8H271.3H290.3H309.3V41.6"/><path d="M81.3 306.0H90.5V281.2H99.7H108.9V272.9H118.0V256.4H127.2V223.4H136.4H145.5V198.6H154.7H163.9V165.5H173.1H182.2H191.4H200.6V149.0H209.7V140.8H218.9H228.1V124.2H237.3H246.4V116.0H255.6H264.8H273.9V99.4H283.1H292.3H301.4H310.6V82.9H319.8H329.0V74.7H338.1V58.1H347.3V41.6"/><path d="M81.3 147.4H89.4H97.5H105.5V134.1H113.6H121.6H129.7V107.7H137.8V81.3H145.8H153.9H161.9V68.0H170.0H178.1H186.1H194.2H202.2V54.8H210.3H218.4H226.4H234.5H242.5H250.6H258.6V41.6"/><path d="M81.3 215.1H89.4V198.6H97.5V182.1H105.5V157.3H113.6H121.6H129.7V140.8H137.8V116.0H145.8H153.9H161.9V99.4H170.0H178.1H186.1V91.2H194.2H202.2H210.3V82.9H218.4V66.4H226.4H234.5H242.5H250.6H258.6H266.7V49.9H274.8H282.8H290.9H298.9H307.0H315.1H323.1V41.6"/><path d="M81.3 179.1H96.1V147.4H110.9H125.7V115.6H140.4H155.2V105.1H170.0H184.8V83.9H199.6H214.3V62.8H229.1H243.9V52.2H258.6H273.4H288.2H303.0H317.8H332.5"/><path d="M81.3 211.6H91.2V192.7H101.0H110.9V154.9H120.8V136.0H130.6V117.1H140.4H150.3H160.2H170.0V79.4H179.9H189.7H199.6V60.5H209.4H219.2H229.1H239.0H248.8H258.6H268.5H278.4V41.6"/><path d="M81.3 244.3H90.5H99.7V209.1H108.9H118.0H127.2V173.8H136.4H145.5V156.2H154.7V147.4H163.9V129.7H173.1V120.9H182.2H191.4V112.1H200.6H209.7V103.3H218.9H228.1V94.5H237.3H246.4H255.6H264.8V85.7H273.9H283.1V76.9H292.3H301.4V68.0H310.6V59.2H319.8H329.0H338.1V50.4"/></g>
<g fill="none" stroke="#ba73a4" stroke-opacity="0.055" stroke-width="0.7"><path d="M81.3 202.5H99.1V156.6H116.8V133.6H134.5V110.6H152.3V64.6H170.0H187.7H205.5H223.2H240.9H258.6V53.1H276.4H294.1H311.8V41.6"/><path d="M81.3 204.3H99.1V184.0H116.8V143.3H134.5V123.0H152.3H170.0V102.6H187.7H205.5V72.1H223.2H240.9H258.6H276.4V61.9H294.1V41.6"/><path d="M81.3 257.9H91.2H101.0V193.8H110.9V185.8H120.8V177.8H130.6H140.4V153.8H150.3H160.2V129.7H170.0H179.9V113.7H189.7H199.6V105.7H209.4H219.2H229.1V89.7H239.0V81.7H248.8H258.6H268.5V65.6H278.4H288.2H298.1V57.6H307.9H317.8H327.6H337.5V49.6"/><path d="M81.3 283.0H92.0H102.6V248.5H113.3V214.0H123.9V179.5H134.5H145.2H155.8V145.1H166.5V122.1H177.1H187.7H198.4H209.0H219.6V110.6H230.3H240.9H251.6V99.1H262.2V87.6H272.8H283.5H294.1V76.1H304.7V64.6H315.4H326.0H336.7V53.1"/><path d="M81.3 254.8H94.0V246.3H106.7V186.6H119.3H132.0V135.4H144.7H157.3H170.0V118.4H182.7H195.3H208.0H220.7V84.2H233.3H246.0H258.6H271.3H284.0V67.2H296.6H309.3V58.7H322.0H334.6V50.1"/><path d="M81.3 169.2H89.7H98.0H106.3V132.8H114.6V123.7H122.9V96.3H131.2V87.2H139.5H147.8H156.1H164.5V69.0H172.8H181.1H189.4H197.7H206.0H214.3V59.8H222.6H230.9H239.3H247.6H255.9V50.7H264.2V41.6"/><path d="M81.3 150.5H94.6H107.9H121.2V103.8H134.5H147.8H161.1V88.3H174.4H187.7V72.7H201.0V57.2H214.3H227.6H240.9H254.2H267.5V41.6"/><path d="M81.3 200.2H89.7H98.0V173.8H106.3H114.6V147.4H122.9H131.2V138.5H139.5H147.8V112.1H156.1H164.5H172.8V94.5H181.1V68.0H189.4H197.7H206.0H214.3H222.6H230.9H239.3H247.6V59.2H255.9V50.4H264.2H272.5V41.6"/><path d="M81.3 285.7H94.6H107.9V255.2H121.2H134.5V184.0H147.8H161.1V173.8H174.4V143.3H187.7H201.0V123.0H214.3H227.6V102.6H240.9H254.2H267.5H280.8V92.4H294.1V82.3H307.4V72.1H320.7V61.9H334.0"/><path d="M81.3 166.0H91.6V150.5H101.8V103.8H112.0H122.3V88.3H132.5H142.7H153.0H163.2H173.4V72.7H183.6H193.9H204.1V57.2H214.3H224.6H234.8H245.0V41.6"/><path d="M81.3 178.7H92.0H102.6V139.5H113.3V110.1H123.9V90.6H134.5H145.2V80.8H155.8H166.5H177.1V61.2H187.7H198.4H209.0V41.6"/><path d="M81.3 282.0H92.4V269.9H103.5V221.9H114.6V209.9H125.7V197.8H136.8V185.8H147.8V137.7H158.9H170.0H181.1H192.2H203.2V125.7H214.3V113.7H225.4V89.7H236.5H247.6H258.6H269.7V77.7H280.8H291.9V65.6H303.0H314.1H325.1V53.6H336.2"/><path d="M81.3 169.8H96.1H110.9V161.8H125.7V153.8H140.4V113.7H155.2V105.7H170.0H184.8V65.6H199.6H214.3H229.1H243.9V57.6H258.6H273.4V49.6H288.2V41.6"/><path d="M81.3 211.6H95.3H109.3V154.9H123.3V136.0H137.3H151.3V117.1H165.3H179.3H193.3V79.4H207.3H221.3H235.3H249.3V60.5H263.3H277.3H291.3H305.3H319.3H333.3V41.6"/><path d="M81.3 306.0H92.4V292.1H103.5V278.2H114.6V236.4H125.7H136.8H147.8V180.8H158.9V166.8H170.0H181.1V152.9H192.2H203.2V139.0H214.3H225.4V125.1H236.5H247.6V111.2H258.6H269.7V97.3H280.8H291.9H303.0V83.3H314.1H325.1V69.4H336.2"/><path d="M81.3 306.0V173.8H89.9H98.5V166.0H107.1V150.5H115.7H124.2V119.4H132.8V103.8H141.4V96.0H150.0H158.6V80.5H167.1H175.7H184.3H192.9H201.5V72.7H210.0H218.6V57.2H227.2H235.8H244.4H252.9V49.4H261.5H270.1H278.7H287.2V41.6"/><path d="M81.3 209.1H89.4V191.4H97.5V182.6H105.5V138.5H113.6V129.7H121.6H129.7V112.1H137.8H145.8V94.5H153.9H161.9H170.0V85.7H178.1V68.0H186.1H194.2H202.2H210.3V59.2H218.4V50.4H226.4H234.5H242.5H250.6H258.6V41.6H266.7H274.8"/><path d="M81.3 306.0V235.5H95.3V200.2H109.3V182.6H123.3V147.4H137.3V129.7H151.3H165.3V112.1H179.3H193.3V94.5H207.3H221.3H235.3V76.9H249.3H263.3H277.3V59.2H291.3H305.3H319.3V41.6H333.3"/><path d="M81.3 306.0H95.3V289.5H109.3V256.4H123.3V248.2H137.3V198.6H151.3H165.3V165.5H179.3V157.3H193.3H207.3V140.8H221.3V132.5H235.3V116.0H249.3H263.3V107.7H277.3V99.4H291.3V82.9H305.3V74.7H319.3H333.3V58.1"/><path d="M81.3 275.5H89.7V265.3H98.0V255.2H106.3V224.6H114.6V173.8H122.9H131.2H139.5V133.1H147.8H156.1H164.5V112.8H172.8H181.1H189.4H197.7H206.0V102.6H214.3V92.4H222.6H230.9H239.3H247.6H255.9V82.3H264.2H272.5V72.1H280.8H289.1V61.9H297.4H305.7H314.1H322.4H330.7H339.0V51.8H347.3V41.6"/><path d="M81.3 81.3H98.0H114.6V41.6"/><path d="M81.3 249.9H91.6V241.9H101.8V193.8H112.0H122.3V161.8H132.5H142.7H153.0V145.8H163.2V121.7H173.4H183.6H193.9V113.7H204.1V105.7H214.3H224.6V97.7H234.8H245.0V81.7H255.2H265.5H275.7V65.6H285.9H296.2H306.4V57.6H316.6H326.8H337.1V49.6H347.3V41.6"/><path d="M81.3 261.9H92.4V235.5H103.5V217.9H114.6V200.2H125.7V182.6H136.8V165.0H147.8V147.4H158.9V138.5H170.0V103.3H181.1H192.2H203.2H214.3H225.4H236.5V85.7H247.6H258.6H269.7V68.0H280.8H291.9V59.2H303.0H314.1V50.4H325.1H336.2"/><path d="M81.3 101.3H94.6V84.2H107.9V41.6"/><path d="M81.3 192.7H91.2H101.0V154.9H110.9H120.8V117.1H130.6H140.4V98.3H150.3H160.2H170.0V60.5H179.9H189.7H199.6H209.4H219.2H229.1H239.0H248.8V41.6"/><path d="M81.3 206.9H92.9H104.5H116.0V173.8H127.6V157.3H139.2V140.8H150.7V124.2H162.3H173.9V107.7H185.4H197.0V91.2H208.5V74.7H220.1H231.7H243.2H254.8H266.4V58.1H277.9H289.5H301.0H312.6H324.2V41.6"/></g>
<g fill="none" stroke="#797979" stroke-opacity="0.055" stroke-width="0.7"><path d="M81.3 306.0V124.2H98.0H114.6H131.2V107.7H147.8V74.7H164.5H181.1V58.1H197.7H214.3H230.9V41.6"/><path d="M81.3 228.2H92.4V212.7H103.5V197.1H114.6V166.0H125.7V150.5H136.8H147.8V119.4H158.9V103.8H170.0H181.1V88.3H192.2H203.2H214.3H225.4V72.7H236.5H247.6H258.6H269.7V41.6"/><path d="M81.3 192.7H92.4H103.5V167.5H114.6V142.3H125.7V117.1H136.8V104.6H147.8H158.9H170.0V92.0H181.1H192.2H203.2V66.8H214.3V54.2H225.4H236.5H247.6H258.6H269.7H280.8H291.9H303.0V41.6"/><path d="M81.3 306.0V286.4H99.1V276.6H116.8V217.9H134.5V188.5H152.3V159.1H170.0V139.5H187.7H205.5V119.9H223.2H240.9V110.1H258.6V90.6H276.4V80.8H294.1H311.8V71.0H329.6V61.2"/><path d="M81.3 173.8H90.2H99.1V137.7H107.9H116.8V113.7H125.7V101.7H134.5H143.4V89.7H152.3H161.1V65.6H170.0H178.9H187.7H196.6H205.5V53.6H214.3H223.2H232.1H240.9H249.8H258.6V41.6H267.5H276.4"/><path d="M81.3 268.2H89.7V243.0H98.0V230.5H106.3H114.6V180.1H122.9H131.2H139.5H147.8V142.3H156.1H164.5V129.7H172.8H181.1H189.4H197.7H206.0V92.0H214.3H222.6H230.9H239.3V79.4H247.6H255.9H264.2H272.5H280.8H289.1H297.4V66.8H305.7H314.1H322.4H330.7V54.2H339.0H347.3V41.6"/><path d="M81.3 214.5H90.5V204.3H99.7V173.8H108.9V163.6H118.0V133.1H127.2V123.0H136.4H145.5V112.8H154.7V102.6H163.9V92.4H173.1H182.2H191.4V82.3H200.6H209.7H218.9H228.1V61.9H237.3V51.8H246.4H255.6H264.8H273.9H283.1H292.3H301.4H310.6V41.6H319.8"/><path d="M81.3 179.5H91.6V168.1H101.8V156.6H112.0V122.1H122.3V99.1H132.5V87.6H142.7H153.0H163.2V76.1H173.4H183.6V41.6"/><path d="M81.3 100.4H99.1V41.6"/><path d="M81.3 296.9H92.0V287.8H102.6V278.6H113.3H123.9V242.2H134.5H145.2V214.8H155.8H166.5H177.1H187.7V178.4H198.4V169.2H209.0V160.1H219.6V141.9H230.3H240.9V132.8H251.6H262.2V114.5H272.8H283.5V105.4H294.1V96.3H304.7V87.2H315.4V69.0H326.0H336.7V59.8"/><path d="M81.3 232.6H90.2V217.9H99.1V203.2H107.9V188.5H116.8V159.1H125.7H134.5V129.7H143.4H152.3V100.4H161.1H170.0H178.9H187.7V85.7H196.6H205.5H214.3H223.2V71.0H232.1H240.9H249.8H258.6H267.5H276.4V56.3H285.2H294.1H303.0H311.8H320.7H329.6H338.4H347.3V41.6"/><path d="M81.3 157.3H89.7H98.0V132.5H106.3V107.7H114.6H122.9V99.4H131.2V82.9H139.5V74.7H147.8H156.1H164.5V66.4H172.8H181.1V58.1H189.4H197.7V49.9H206.0H214.3H222.6V41.6H230.9"/><path d="M81.3 306.0V150.5H89.4H97.5V111.6H105.5H113.6H121.6V103.8H129.7V88.3H137.8V80.5H145.8V72.7H153.9H161.9H170.0V64.9H178.1H186.1H194.2V49.4H202.2H210.3H218.4V41.6"/><path d="M81.3 306.0V179.1H89.7V157.9H98.0V147.4H106.3H114.6V105.1H122.9V83.9H131.2H139.5H147.8H156.1V73.3H164.5H172.8V62.8H181.1H189.4H197.7V52.2H206.0H214.3H222.6V41.6H230.9"/><path d="M81.3 232.6H99.1V188.5H116.8V159.1H134.5V129.7H152.3V115.0H170.0V100.4H187.7V85.7H205.5H223.2H240.9H258.6V71.0H276.4H294.1H311.8V56.3H329.6"/><path d="M81.3 306.0V182.6H99.1V165.0H116.8V112.1H134.5V94.5H152.3V76.9H170.0V59.2H187.7H205.5H223.2H240.9H258.6H276.4V41.6"/><path d="M81.3 232.6H96.1V203.2H110.9V173.8H125.7V144.4H140.4H155.2V115.0H170.0H184.8V100.4H199.6V85.7H214.3V71.0H229.1H243.9H258.6H273.4V56.3H288.2H303.0H317.8V41.6H332.5"/><path d="M81.3 203.2H99.1V115.0H116.8H134.5V85.7H152.3H170.0V71.0H187.7V56.3H205.5H223.2V41.6H240.9"/><path d="M81.3 189.4H96.1V166.0H110.9V142.7H125.7V111.6H140.4V96.0H155.2H170.0V80.5H184.8V72.7H199.6H214.3H229.1V64.9H243.9V57.2H258.6V49.4H273.4H288.2H303.0H317.8H332.5V41.6"/><path d="M81.3 194.7H89.9H98.5V180.8H107.1H115.7H124.2V125.1H132.8H141.4H150.0V111.2H158.6H167.1V97.3H175.7H184.3H192.9H201.5V83.3H210.0H218.6H227.2H235.8V69.4H244.4H252.9H261.5V41.6H270.1"/><path d="M81.3 192.7H99.1V136.0H116.8V98.3H134.5H152.3V79.4H170.0V60.5H187.7H205.5H223.2H240.9H258.6H276.4V41.6"/><path d="M81.3 217.9H91.2V203.2H101.0V159.1H110.9H120.8V144.4H130.6H140.4V129.7H150.3V115.0H160.2H170.0V100.4H179.9V85.7H189.7H199.6V71.0H209.4H219.2H229.1H239.0H248.8H258.6H268.5V56.3H278.4H288.2H298.1H307.9H317.8H327.6V41.6"/><path d="M81.3 306.0V193.8H90.5H99.7V145.8H108.9H118.0V113.7H127.2V89.7H136.4H145.5H154.7H163.9H173.1H182.2V73.6H191.4H200.6H209.7H218.9V65.6H228.1H237.3V49.6H246.4V41.6"/><path d="M81.3 178.4H97.0H112.6V141.9H128.3V114.5H143.9V87.2H159.6H175.2H190.9V78.1H206.5V59.8H222.1H237.8H253.4V50.7H269.1V41.6H284.7"/><path d="M81.3 306.0H92.4H103.5V272.9H114.6V261.9H125.7V239.9H136.8V217.9H147.8H158.9V195.8H170.0V173.8H181.1V162.8H192.2H203.2H214.3V151.8H225.4H236.5V140.8H247.6V118.7H258.6V107.7H269.7H280.8H291.9V96.7H303.0V85.7H314.1V74.7H325.1H336.2V63.6"/><path d="M81.3 150.5H98.0V119.4H114.6H131.2V72.7H147.8H164.5H181.1H197.7V64.9H214.3V49.4H230.9V41.6"/></g>
<g fill="none" stroke="#a0a13c" stroke-opacity="0.055" stroke-width="0.7"><path d="M81.3 215.1H92.4H103.5V173.8H114.6H125.7V149.0H136.8V140.8H147.8V132.5H158.9V124.2H170.0V91.2H181.1H192.2H203.2H214.3H225.4V82.9H236.5H247.6V66.4H258.6H269.7H280.8H291.9V58.1H303.0H314.1H325.1V49.9H336.2H347.3V41.6"/><path d="M81.3 264.3H90.2V250.3H99.1V208.6H107.9V194.7H116.8H125.7V180.8H134.5H143.4V166.8H152.3V152.9H161.1V139.0H170.0V111.2H178.9H187.7H196.6H205.5V97.3H214.3H223.2V83.3H232.1H240.9H249.8H258.6H267.5H276.4V69.4H285.2H294.1H303.0H311.8V55.5H320.7H329.6H338.4V41.6"/><path d="M81.3 173.8H90.2V160.6H99.1H107.9H116.8V147.4H125.7V107.7H134.5V94.5H143.4H152.3H161.1V68.0H170.0H178.9H187.7H196.6H205.5V54.8H214.3H223.2H232.1H240.9V41.6"/><path d="M81.3 182.6H92.0H102.6V165.0H113.3V129.7H123.9V112.1H134.5V94.5H145.2V76.9H155.8H166.5H177.1H187.7V59.2H198.4H209.0H219.6H230.3V41.6"/><path d="M81.3 291.3H93.4H105.5H117.6V276.6H129.7V261.9H141.8V247.2H153.9H166.0V217.9H178.1V203.2H190.1H202.2V188.5H214.3V173.8H226.4V159.1H238.5H250.6V129.7H262.7H274.8V115.0H286.9H298.9V100.4H311.0H323.1V71.0H335.2V56.3"/><path d="M81.3 200.2H91.6H101.8V165.0H112.0H122.3V129.7H132.5H142.7V112.1H153.0H163.2H173.4V76.9H183.6H193.9H204.1H214.3H224.6V59.2H234.8H245.0H255.2H265.5H275.7V41.6"/><path d="M81.3 306.0V200.2H89.4H97.5V160.6H105.5H113.6H121.6V94.5H129.7H137.8H145.8H153.9H161.9H170.0V68.0H178.1H186.1H194.2H202.2H210.3H218.4H226.4H234.5H242.5V54.8H250.6H258.6H266.7H274.8H282.8V41.6H290.9"/><path d="M81.3 208.6H94.6V180.8H107.9V139.0H121.2H134.5V111.2H147.8V97.3H161.1H174.4V83.3H187.7H201.0H214.3H227.6V69.4H240.9V55.5H254.2H267.5V41.6"/><path d="M81.3 226.7H90.8H100.3V209.1H109.8V191.4H119.3V173.8H128.8V165.0H138.3V156.2H147.8V120.9H157.3H166.8H176.3V103.3H185.8H195.3H204.8V94.5H214.3H223.8H233.3V85.7H242.8H252.3H261.8V76.9H271.3V68.0H280.8H290.3H299.8H309.3V50.4H318.8H328.3H337.8"/><path d="M81.3 211.6H89.9V202.1H98.5V154.9H107.1V145.5H115.7V126.6H124.2H132.8V107.7H141.4H150.0V79.4H158.6H167.1V69.9H175.7H184.3H192.9H201.5H210.0V60.5H218.6H227.2V51.0H235.8H244.4H252.9H261.5H270.1H278.7V41.6"/><path d="M81.3 306.0V267.1H90.5V259.3H99.7V204.9H108.9H118.0V173.8H127.2V150.5H136.4H145.5H154.7H163.9V134.9H173.1V119.4H182.2H191.4V111.6H200.6H209.7H218.9V88.3H228.1H237.3V80.5H246.4H255.6H264.8V72.7H273.9V64.9H283.1H292.3H301.4H310.6V57.2H319.8H329.0V49.4H338.1H347.3V41.6"/><path d="M81.3 306.0V298.2H89.2V282.7H97.0V251.6H104.8V228.2H112.6V204.9H120.5V189.4H128.3H136.1V173.8H143.9V150.5H151.7H159.6H167.4H175.2V142.7H183.0V111.6H190.9H198.7H206.5H214.3H222.1V103.8H230.0H237.8V96.0H245.6H253.4H261.3V88.3H269.1V80.5H276.9H284.7H292.5V72.7H300.4H308.2H316.0V57.2H323.8H331.7H339.5V49.4"/><path d="M81.3 239.9H100.3V213.5H119.3V173.8H138.3H157.3V147.4H176.3V120.9H195.3H214.3V107.7H233.3V94.5H252.3H271.3V81.3H290.3V68.0H309.3V54.8H328.3H347.3V41.6"/><path d="M81.3 270.7H90.8H100.3V244.3H109.8H119.3V209.1H128.8H138.3V182.6H147.8V165.0H157.3H166.8V156.2H176.3H185.8V147.4H195.3V129.7H204.8H214.3V120.9H223.8V112.1H233.3H242.8V94.5H252.3H261.8H271.3V85.7H280.8V76.9H290.3H299.8H309.3H318.8V68.0H328.3H337.8V50.4"/><path d="M81.3 306.0V192.7H93.4V180.1H105.5V142.3H117.6V129.7H129.7H141.8V104.6H153.9H166.0V92.0H178.1V66.8H190.1H202.2H214.3H226.4V54.2H238.5H250.6H262.7H274.8H286.9V41.6"/><path d="M81.3 230.5H92.0H102.6V211.6H113.3V192.7H123.9V154.9H134.5H145.2V136.0H155.8V117.1H166.5H177.1V98.3H187.7H198.4H209.0H219.6H230.3V79.4H240.9H251.6H262.2V60.5H272.8H283.5H294.1H304.7H315.4H326.0H336.7"/><path d="M81.3 166.0H97.0H112.6V142.7H128.3V103.8H143.9V96.0H159.6V88.3H175.2V80.5H190.9V64.9H206.5H222.1V57.2H237.8H253.4H269.1H284.7V41.6H300.4H316.0"/><path d="M81.3 306.0V198.3H99.1V178.7H116.8V139.5H134.5V129.7H152.3V100.4H170.0H187.7V90.6H205.5V80.8H223.2V61.2H240.9H258.6H276.4H294.1V51.4H311.8V41.6H329.6"/><path d="M81.3 306.0V209.9H91.2H101.0V197.8H110.9V149.8H120.8H130.6V137.7H140.4V113.7H150.3V101.7H160.2H170.0H179.9H189.7V89.7H199.6H209.4H219.2V77.7H229.1H239.0V65.6H248.8H258.6H268.5H278.4V53.6H288.2H298.1H307.9H317.8H327.6H337.5V41.6"/><path d="M81.3 197.1H89.9H98.5V150.5H107.1H115.7H124.2V134.9H132.8V103.8H141.4H150.0H158.6H167.1H175.7V72.7H184.3H192.9H201.5H210.0H218.6H227.2V57.2H235.8H244.4H252.9H261.5H270.1H278.7H287.2H295.8H304.4V41.6H313.0"/><path d="M81.3 306.0V209.9H89.9V197.8H98.5V185.8H107.1V149.8H115.7H124.2H132.8V137.7H141.4V89.7H150.0H158.6H167.1H175.7H184.3H192.9V77.7H201.5V65.6H210.0H218.6H227.2H235.8H244.4H252.9H261.5V53.6H270.1V41.6"/><path d="M81.3 306.0V193.8H95.3V177.8H109.3V161.8H123.3V137.7H137.3V105.7H151.3V97.7H165.3V89.7H179.3V73.6H193.3V65.6H207.3V57.6H221.3H235.3H249.3V49.6H263.3V41.6"/><path d="M81.3 147.4H92.0V134.1H102.6V120.9H113.3V107.7H123.9V68.0H134.5H145.2V41.6"/><path d="M81.3 264.3H94.0V236.4H106.7V180.8H119.3H132.0V125.1H144.7H157.3H170.0H182.7V111.2H195.3H208.0V97.3H220.7H233.3V83.3H246.0H258.6H271.3V69.4H284.0H296.6H309.3V55.5H322.0H334.6"/><path d="M81.3 306.0V268.2H90.2V249.3H99.1V211.6H107.9H116.8V192.7H125.7V154.9H134.5V136.0H143.4H152.3H161.1H170.0V117.1H178.9H187.7H196.6H205.5H214.3V98.3H223.2H232.1H240.9H249.8V79.4H258.6V60.5H267.5H276.4H285.2H294.1H303.0H311.8H320.7H329.6H338.4V41.6"/><path d="M81.3 220.5H94.6H107.9V181.6H121.2V134.9H134.5H147.8V127.1H161.1V119.4H174.4V103.8H187.7V96.0H201.0H214.3V72.7H227.6H240.9H254.2V57.2H267.5H280.8H294.1H307.4V49.4H320.7H334.0V41.6"/></g>
<g fill="none" stroke="#35a2ad" stroke-opacity="0.055" stroke-width="0.7"><path d="M81.3 277.7H89.9V268.2H98.5V230.5H107.1H115.7V221.0H124.2V211.6H132.8V192.7H141.4V183.2H150.0V164.4H158.6V154.9H167.1V136.0H175.7V126.6H184.3H192.9H201.5H210.0H218.6V117.1H227.2V107.7H235.8V88.8H244.4H252.9H261.5H270.1V79.4H278.7H287.2H295.8H304.4V69.9H313.0H321.6V60.5H330.1H338.7V51.0"/><path d="M81.3 225.5H89.9V214.0H98.5V191.0H107.1V179.5H115.7V168.1H124.2V156.6H132.8H141.4H150.0V122.1H158.6V99.1H167.1H175.7H184.3H192.9V87.6H201.5H210.0H218.6V76.1H227.2V64.6H235.8H244.4H252.9H261.5V41.6"/><path d="M81.3 190.3H89.4V173.8H97.5V140.8H105.5H113.6V124.2H121.6V107.7H129.7V74.7H137.8H145.8H153.9H161.9H170.0H178.1H186.1H194.2H202.2V58.1H210.3H218.4H226.4H234.5H242.5V41.6H250.6"/><path d="M81.3 197.8H91.2V173.8H101.0H110.9V161.8H120.8V125.7H130.6V113.7H140.4V101.7H150.3H160.2H170.0V89.7H179.9V77.7H189.7H199.6H209.4H219.2V65.6H229.1H239.0H248.8H258.6H268.5H278.4V41.6"/><path d="M81.3 197.1H90.2H99.1V181.6H107.9H116.8V150.5H125.7H134.5H143.4V134.9H152.3V119.4H161.1H170.0V88.3H178.9H187.7H196.6H205.5H214.3H223.2H232.1V72.7H240.9H249.8H258.6H267.5V57.2H276.4H285.2H294.1V41.6"/><path d="M81.3 153.5H93.4V143.3H105.5V123.0H117.6V92.4H129.7V82.3H141.8V61.9H153.9H166.0H178.1V51.8H190.1H202.2V41.6"/><path d="M81.3 255.6H100.3H119.3V205.3H138.3H157.3V154.9H176.3H195.3V142.3H214.3V129.7H233.3V104.6H252.3V92.0H271.3H290.3H309.3V66.8H328.3"/><path d="M81.3 120.9H92.0H102.6V94.5H113.3H123.9H134.5V68.0H145.2H155.8V59.2H166.5H177.1V50.4H187.7H198.4V41.6"/><path d="M81.3 306.0V197.1H89.9V181.6H98.5V166.0H107.1V150.5H115.7V142.7H124.2H132.8V134.9H141.4V103.8H150.0H158.6H167.1V96.0H175.7H184.3V72.7H192.9H201.5H210.0H218.6V57.2H227.2H235.8H244.4H252.9H261.5H270.1H278.7V49.4H287.2V41.6"/><path d="M81.3 221.4H90.2V200.2H99.1H107.9V189.7H116.8V157.9H125.7V147.4H134.5H143.4H152.3V136.8H161.1V126.2H170.0V115.6H178.9V105.1H187.7H196.6H205.5H214.3V94.5H223.2V83.9H232.1H240.9V73.3H249.8H258.6H267.5V62.8H276.4H285.2H294.1H303.0V52.2H311.8H320.7H329.6H338.4"/><path d="M81.3 306.0H90.5V295.8H99.7V285.7H108.9V265.3H118.0H127.2V245.0H136.4V234.8H145.5V204.3H154.7H163.9V194.1H173.1V173.8H182.2H191.4V163.6H200.6H209.7V153.5H218.9V133.1H228.1H237.3H246.4V123.0H255.6V112.8H264.8H273.9V102.6H283.1H292.3H301.4V92.4H310.6H319.8V72.1H329.0H338.1V51.8"/><path d="M81.3 288.9H89.7H98.0V246.3H106.3V220.7H114.6V203.7H122.9H131.2H139.5V178.1H147.8V169.5H156.1V161.0H164.5H172.8V143.9H181.1V118.4H189.4H197.7H206.0V109.8H214.3V101.3H222.6H230.9H239.3H247.6H255.9V92.8H264.2H272.5V84.2H280.8H289.1V75.7H297.4H305.7V67.2H314.1H322.4V58.7H330.7H339.0V50.1"/><path d="M81.3 250.3H91.2V236.4H101.0V194.7H110.9H120.8V180.8H130.6H140.4V139.0H150.3V125.1H160.2H170.0V97.3H179.9H189.7H199.6H209.4H219.2H229.1H239.0V83.3H248.8H258.6V69.4H268.5V55.5H278.4H288.2H298.1H307.9H317.8H327.6H337.5H347.3V41.6"/><path d="M81.3 306.0H99.1V295.8H116.8V275.5H134.5V234.8H152.3V194.1H170.0V184.0H187.7V163.6H205.5H223.2V153.5H240.9V123.0H258.6H276.4V112.8H294.1V82.3H311.8H329.6V61.9"/><path d="M81.3 230.5H89.2V211.6H97.0V192.7H104.8V136.0H112.6V117.1H120.5H128.3H136.1H143.9H151.7V98.3H159.6H167.4V79.4H175.2H183.0H190.9H198.7H206.5H214.3V60.5H222.1H230.0H237.8H245.6H253.4H261.3H269.1H276.9V41.6"/><path d="M81.3 306.0H92.9V285.7H104.5V275.5H116.0V245.0H127.6H139.2V224.6H150.7V204.3H162.3V184.0H173.9H185.4V163.6H197.0H208.5V143.3H220.1H231.7H243.2V123.0H254.8V112.8H266.4H277.9H289.5V102.6H301.0V92.4H312.6V82.3H324.2H335.7V61.9"/><path d="M81.3 306.0V209.9H95.3V197.8H109.3V161.8H123.3V137.7H137.3H151.3V101.7H165.3H179.3V77.7H193.3H207.3V53.6H221.3H235.3H249.3H263.3H277.3H291.3H305.3H319.3V41.6"/><path d="M81.3 306.0H92.4V298.0H103.5V290.0H114.6V274.0H125.7V257.9H136.8V225.9H147.8V209.9H158.9V169.8H170.0H181.1V161.8H192.2H203.2V153.8H214.3V145.8H225.4V129.7H236.5H247.6H258.6V113.7H269.7V105.7H280.8H291.9V97.7H303.0V73.6H314.1H325.1H336.2V65.6H347.3V41.6"/><path d="M81.3 215.1H90.5H99.7V198.6H108.9V173.8H118.0V157.3H127.2V132.5H136.4V124.2H145.5H154.7V107.7H163.9H173.1V91.2H182.2V74.7H191.4H200.6H209.7V66.4H218.9H228.1H237.3H246.4H255.6V58.1H264.8H273.9V49.9H283.1H292.3V41.6"/><path d="M81.3 306.0V197.8H98.0V173.8H114.6V161.8H131.2V137.7H147.8V89.7H164.5H181.1H197.7V77.7H214.3V65.6H230.9H247.6V53.6H264.2H280.8V41.6"/><path d="M81.3 297.5H90.8H100.3V280.4H109.8V220.7H119.3H128.8H138.3V186.6H147.8V178.1H157.3H166.8V169.5H176.3V161.0H185.8H195.3V143.9H204.8V126.9H214.3H223.8V118.4H233.3H242.8V92.8H252.3H261.8H271.3H280.8H290.3V84.2H299.8H309.3V75.7H318.8V67.2H328.3H337.8V58.7"/><path d="M81.3 253.1H94.0H106.7V235.5H119.3V182.6H132.0H144.7V147.4H157.3V112.1H170.0H182.7H195.3H208.0V94.5H220.7H233.3H246.0H258.6H271.3V76.9H284.0H296.6H309.3V59.2H322.0H334.6H347.3V41.6"/><path d="M81.3 306.0V233.1H97.0V214.8H112.6V160.1H128.3V141.9H143.9V123.7H159.6H175.2V114.5H190.9V87.2H206.5H222.1V78.1H237.8H253.4H269.1V69.0H284.7H300.4V59.8H316.0H331.7V50.7H347.3V41.6"/><path d="M81.3 232.0H90.2V221.4H99.1V210.8H107.9V157.9H116.8H125.7V147.4H134.5H143.4V136.8H152.3V115.6H161.1H170.0V105.1H178.9V94.5H187.7V83.9H196.6H205.5H214.3H223.2H232.1H240.9V73.3H249.8H258.6V52.2H267.5H276.4H285.2H294.1H303.0H311.8H320.7H329.6V41.6"/><path d="M81.3 198.6H92.9H104.5H116.0V157.3H127.6V149.0H139.2V132.5H150.7V99.4H162.3H173.9H185.4V82.9H197.0H208.5V66.4H220.1H231.7H243.2H254.8V58.1H266.4H277.9V49.9H289.5H301.0H312.6H324.2V41.6"/><path d="M81.3 297.7H89.4H97.5H105.5V281.2H113.6V264.7H121.6V248.2H129.7H137.8V239.9H145.8V231.6H153.9V215.1H161.9V198.6H170.0H178.1H186.1V190.3H194.2V182.1H202.2V165.5H210.3H218.4V157.3H226.4V140.8H234.5H242.5H250.6H258.6V132.5H266.7V124.2H274.8V116.0H282.8V107.7H290.9V99.4H298.9V91.2H307.0V82.9H315.1H323.1V74.7H331.2V58.1H339.2H347.3V41.6"/></g>
<line x1="81.3" y1="306.0" x2="81.3" y2="107.7" stroke="#8a8560" stroke-opacity="0.3" stroke-width="0.8"/>
<line x1="137" y1="53.8" x2="347" y2="53.8" stroke="#7a6a55" stroke-opacity="0.16" stroke-width="1.6"/>
<line x1="230" y1="42.3" x2="347" y2="42.3" stroke="#7a6a55" stroke-opacity="0.12" stroke-width="1.6"/>
<linearGradient id="vgTL0" x1="0" y1="0" x2="0" y2="1"><stop offset="0" stop-color="#7a6a55" stop-opacity="0.080"/><stop offset="0.2" stop-color="#7a6a55" stop-opacity="0.16"/><stop offset="0.65" stop-color="#7a6a55" stop-opacity="0.16"/><stop offset="1" stop-color="#7a6a55" stop-opacity="0"/></linearGradient>
<rect x="94.00" y="150" width="2.4" height="118" fill="url(#vgTL0)"/>
<polygon points="81.3,306.0 84.0,170.1 93.2,170.1 95.0,144.0 98.1,138.5 103.1,134.0 109.0,123.8 116.3,113.6 120.0,109.9 123.6,104.9 128.2,100.0 130.9,97.6 138.2,91.7 145.5,87.3 152.8,81.5 160.1,77.8 168.8,72.0 177.6,68.4 184.9,65.4 190.0,64.1 198.0,60.1 206.1,57.7 214.1,55.3 222.1,52.9 230.1,51.3 238.2,49.7 246.2,48.0 254.2,46.4 262.3,44.8 270.3,43.2 278.3,42.1 282.0,41.6 347.3,41.6 347.3,41.6 345.6,43.3 340.1,49.9 333.6,52.0 329.2,55.3 320.4,58.6 309.5,61.9 298.5,65.2 287.6,69.6 276.6,72.8 265.7,77.2 254.7,81.6 250.0,84.5 241.6,88.3 235.3,90.8 229.0,93.3 222.8,97.1 215.2,100.2 207.7,105.2 201.4,109.0 194.7,112.8 187.7,116.4 181.9,119.9 176.1,123.4 170.2,126.9 165.5,131.5 159.7,136.2 153.9,140.9 148.0,145.0 144.5,150.2 139.9,156.1 135.2,161.9 131.7,170.0 128.0,172.5 123.3,177.6 117.6,188.9 112.0,196.5 109.2,204.0 106.4,209.6 101.6,214.4 98.8,217.2 96.0,222.8 94.7,230.4 93.2,251.0 84.0,251.0 81.3,306.0" fill="#808080" fill-opacity="0.36" stroke="none"/>
<line x1="81.35" y1="306.0" x2="347.3" y2="41.6" stroke="#ff5a5a" stroke-width="1.2" stroke-dasharray="2.8 1.505" stroke-dashoffset="0.3"/>
<polyline points="81.3,306.0 84.0,211.0 92.2,211.0 94.1,204.0 96.0,194.6 97.9,183.3 99.8,176.7 103.5,172.9 107.3,169.2 110.1,161.6 114.8,155.1 120.0,146.7 125.8,139.7 131.7,132.1 135.2,127.4 139.9,122.2 144.5,118.7 148.0,113.8 150.9,113.4 155.0,110.3 159.7,108.2 163.2,104.7 167.9,100.6 169.6,98.7 173.2,97.8 176.3,95.8 182.6,92.7 188.8,89.5 195.1,87.0 200.2,84.1 205.2,83.0 207.7,81.4 212.7,80.1 215.2,77.3 220.3,76.3 224.0,74.4 232.8,71.9 240.4,69.4 250.0,65.6 264.6,59.6 279.2,55.3 293.8,52.3 308.4,49.9 323.0,47.0 328.0,46.3 331.1,45.3 333.0,44.2 334.5,43.8 345.0,43.8 347.3,41.6" fill="none" stroke="#4a4aea" stroke-width="1.15" stroke-linejoin="round"/>
</g>
<rect x="78.4" y="39.3" width="271.9" height="269.1" fill="none" stroke="#a4a4a4" stroke-width="1.25"/>
<line x1="81.3" y1="308.4" x2="81.3" y2="310.2" stroke="#777" stroke-width="0.8"/>
<line x1="76.6" y1="306.0" x2="78.4" y2="306.0" stroke="#777" stroke-width="0.8"/>
<text x="81.3" y="316.6" font-size="7.6" fill="#222" stroke="#222" stroke-width="0.22" text-anchor="middle" textLength="9.6" lengthAdjust="spacingAndGlyphs">0.0</text>
<text x="65.5" y="308.7" font-size="7.6" fill="#222" stroke="#222" stroke-width="0.22" textLength="9.6" lengthAdjust="spacingAndGlyphs">0.0</text>
<line x1="134.5" y1="308.4" x2="134.5" y2="310.2" stroke="#777" stroke-width="0.8"/>
<line x1="76.6" y1="253.1" x2="78.4" y2="253.1" stroke="#777" stroke-width="0.8"/>
<text x="134.5" y="316.6" font-size="7.6" fill="#222" stroke="#222" stroke-width="0.22" text-anchor="middle" textLength="9.6" lengthAdjust="spacingAndGlyphs">0.2</text>
<text x="65.5" y="255.8" font-size="7.6" fill="#222" stroke="#222" stroke-width="0.22" textLength="9.6" lengthAdjust="spacingAndGlyphs">0.2</text>
<line x1="187.7" y1="308.4" x2="187.7" y2="310.2" stroke="#777" stroke-width="0.8"/>
<line x1="76.6" y1="200.2" x2="78.4" y2="200.2" stroke="#777" stroke-width="0.8"/>
<text x="187.7" y="316.6" font-size="7.6" fill="#222" stroke="#222" stroke-width="0.22" text-anchor="middle" textLength="9.6" lengthAdjust="spacingAndGlyphs">0.4</text>
<text x="65.5" y="202.9" font-size="7.6" fill="#222" stroke="#222" stroke-width="0.22" textLength="9.6" lengthAdjust="spacingAndGlyphs">0.4</text>
<line x1="240.9" y1="308.4" x2="240.9" y2="310.2" stroke="#777" stroke-width="0.8"/>
<line x1="76.6" y1="147.4" x2="78.4" y2="147.4" stroke="#777" stroke-width="0.8"/>
<text x="240.9" y="316.6" font-size="7.6" fill="#222" stroke="#222" stroke-width="0.22" text-anchor="middle" textLength="9.6" lengthAdjust="spacingAndGlyphs">0.6</text>
<text x="65.5" y="150.1" font-size="7.6" fill="#222" stroke="#222" stroke-width="0.22" textLength="9.6" lengthAdjust="spacingAndGlyphs">0.6</text>
<line x1="294.1" y1="308.4" x2="294.1" y2="310.2" stroke="#777" stroke-width="0.8"/>
<line x1="76.6" y1="94.5" x2="78.4" y2="94.5" stroke="#777" stroke-width="0.8"/>
<text x="294.1" y="316.6" font-size="7.6" fill="#222" stroke="#222" stroke-width="0.22" text-anchor="middle" textLength="9.6" lengthAdjust="spacingAndGlyphs">0.8</text>
<text x="65.5" y="97.2" font-size="7.6" fill="#222" stroke="#222" stroke-width="0.22" textLength="9.6" lengthAdjust="spacingAndGlyphs">0.8</text>
<line x1="347.3" y1="308.4" x2="347.3" y2="310.2" stroke="#777" stroke-width="0.8"/>
<line x1="76.6" y1="41.6" x2="78.4" y2="41.6" stroke="#777" stroke-width="0.8"/>
<text x="347.3" y="316.6" font-size="7.6" fill="#222" stroke="#222" stroke-width="0.22" text-anchor="middle" textLength="9.6" lengthAdjust="spacingAndGlyphs">1.0</text>
<text x="65.5" y="44.3" font-size="7.6" fill="#222" stroke="#222" stroke-width="0.22" textLength="9.6" lengthAdjust="spacingAndGlyphs">1.0</text>
<text x="173.2" y="326.2" font-size="9.6" fill="#222" stroke="#222" stroke-width="0.22" textLength="82.4" lengthAdjust="spacingAndGlyphs">False Positive Rate</text>
<text transform="translate(61.5,213.4) rotate(-90)" x="0" y="0" font-size="9.6" fill="#222" stroke="#222" stroke-width="0.22" textLength="79" lengthAdjust="spacingAndGlyphs">True Positive Rate</text>
<rect x="173.7" y="275.7" width="172.2" height="28.8" rx="1.8" fill="#ffffff" fill-opacity="0.88" stroke="#d8d8d8" stroke-width="0.9"/>
<line x1="176.1" y1="283.3" x2="195.0" y2="283.3" stroke="#6a6af6" stroke-width="1.1"/>
<rect x="176.1" y="292.7" width="18.9" height="6.6" fill="#808080" fill-opacity="0.36"/>
<text x="202.2" y="286.4" font-size="9.8" fill="#222" stroke="#222" stroke-width="0.22" textLength="140.0" lengthAdjust="spacingAndGlyphs">Mean ROC (AUC = 0.80 ± 0.06)</text>
<text x="202.2" y="298.6" font-size="9.8" fill="#222" stroke="#222" stroke-width="0.22" textLength="56.8" lengthAdjust="spacingAndGlyphs">± 1 std. dev.</text>
<clipPath id="clipTR"><rect x="410.4" y="39.6" width="272.0" height="269.1"/></clipPath>
<g clip-path="url(#clipTR)">
<g fill="none" stroke="#3a739b" stroke-opacity="0.055" stroke-width="0.7"><path d="M413.4 75.0H431.1V42.0"/><path d="M413.4 273.2H423.6V223.6H433.9H444.1V182.4H454.3V174.1H464.6V141.1H474.8H485.0V124.6H495.2H505.5V116.3H515.7H525.9H536.2V99.8H546.4V91.5H556.6H566.9H577.1V75.0H587.3H597.6H607.8V58.5H618.0H628.2H638.5H648.7V50.3H658.9H669.2V42.0"/><path d="M413.4 98.6H428.2V79.7H443.0H457.7V60.9H472.5H487.3H502.1V42.0"/><path d="M413.4 72.5H427.4V42.0"/><path d="M413.4 306.2H422.3V288.0H431.1H440.0V278.9H448.9V260.6H457.7V224.2H466.6H475.5V178.7H484.3H493.2H502.1H510.9H519.8H528.7V160.4H537.5V133.1H546.4V124.0H555.3H564.1H573.0H581.9V105.8H590.7H599.6V96.7H608.5V87.6H617.3H626.2H635.1V69.3H643.9H652.8V60.2H661.7V51.1H670.5"/><path d="M413.4 211.1H421.7H430.0V137.1H438.3H446.6H455.0V126.5H463.3H471.6V116.0H479.9H488.2V105.4H496.5H504.8H513.1H521.5H529.8V84.3H538.1H546.4H554.7V73.7H563.0H571.3H579.6H588.0V63.1H596.3H604.6V52.6H612.9H621.2H629.5H637.8H646.1H654.5V42.0"/><path d="M413.4 153.8H426.7H440.0H453.3V113.1H466.6H479.9V92.8H493.2V82.6H506.5H519.8H533.1H546.4H559.7V52.2H573.0H586.3H599.6H612.9V42.0H626.2H639.5"/><path d="M413.4 152.8H429.0V93.1H444.7H460.3H476.0H491.6V59.0H507.3H522.9V50.5H538.6H554.2H569.9H585.5V42.0"/><path d="M413.4 103.0H430.0V52.2H446.6H463.3H479.9V42.0H496.5"/><path d="M413.4 164.7H432.4H451.4V117.5H470.4V108.1H489.4V89.2H508.4H527.4H546.4V70.3H565.4H584.4V60.9H603.4H622.4V51.4H641.4H660.4V42.0"/><path d="M413.4 306.2V218.1H426.1H438.7V165.3H451.4V147.7H464.1V130.1H476.7H489.4V94.8H502.1H514.7H527.4V77.2H540.1H552.7H565.4H578.1V59.6H590.7H603.4V42.0"/><path d="M413.4 149.6H432.4V120.3H451.4V100.7H470.4V90.9H489.4H508.4V61.6H527.4H546.4H565.4V51.8H584.4V42.0"/><path d="M413.4 94.8H422.3V81.6H431.1V55.2H440.0V42.0"/><path d="M413.4 141.1H422.9H432.4V124.6H441.9H451.4V108.1H460.9H470.4V91.5H479.9H489.4H498.9V75.0H508.4H517.9H527.4H536.9H546.4V58.5H555.9H565.4V42.0"/><path d="M413.4 208.3H423.6H433.9V179.0H444.1V169.2H454.3V159.4H464.6V110.5H474.8H485.0H495.2H505.5V100.7H515.7H525.9H536.2H546.4H556.6H566.9V71.4H577.1V61.6H587.3H597.6H607.8H618.0V51.8H628.2H638.5H648.7H658.9V42.0"/><path d="M413.4 194.4H424.0H434.7V153.8H445.3V133.5H456.0H466.6V113.1H477.2H487.9V92.8H498.5H509.2H519.8V82.6H530.4V72.5H541.1H551.7H562.4H573.0V62.3H583.6H594.3V52.2H604.9H615.6H626.2H636.8V42.0H647.5"/><path d="M413.4 197.4H432.4V127.5H451.4V111.9H470.4V104.2H489.4H508.4V88.6H527.4V73.1H546.4V65.3H565.4H584.4V57.5H603.4H622.4V49.8H641.4H660.4V42.0"/><path d="M413.4 211.8H424.5H435.6V136.4H446.6H457.7H468.8H479.9V126.9H491.0V117.5H502.1H513.1H524.2V89.2H535.3V70.3H546.4H557.5H568.6H579.6H590.7H601.8V60.9H612.9H624.0H635.1V51.4H646.1H657.2H668.3V42.0"/><path d="M413.4 306.2V211.8H422.0H430.6V174.1H439.1V164.7H447.7V136.4H456.3H464.9V126.9H473.5V117.5H482.0H490.6H499.2V108.1H507.8V98.6H516.4V89.2H524.9V79.7H533.5H542.1H550.7H559.3V60.9H567.9H576.4H585.0H593.6H602.2V51.4H610.8H619.3H627.9H636.5H645.1H653.7V42.0"/><path d="M413.4 174.1H427.4H441.4V152.1H455.4V119.1H469.4H483.4H497.4V108.1H511.4V97.0H525.4H539.4V75.0H553.4V64.0H567.4H581.4H595.4H609.4H623.4V42.0H637.4"/><path d="M413.4 169.8H422.0H430.6V101.7H439.1H447.7V84.6H456.3H464.9H473.5H482.0H490.6H499.2H507.8V76.1H516.4H524.9V67.6H533.5V59.0H542.1H550.7H559.3V42.0"/><path d="M413.4 153.8H428.2H443.0V103.0H457.7H472.5V72.5H487.3H502.1H516.8H531.6H546.4V62.3H561.2H576.0V42.0"/><path d="M413.4 130.1H422.3H431.1V56.7H440.0H448.9H457.7H466.6V42.0H475.5"/><path d="M413.4 149.3H429.0H444.7V132.8H460.3V116.3H476.0V83.3H491.6H507.3H522.9V58.5H538.6H554.2H569.9H585.5H601.2V50.3H616.8V42.0"/><path d="M413.4 218.1H426.7H440.0V185.1H453.3V163.1H466.6V108.1H479.9H493.2H506.5V97.0H519.8H533.1V75.0H546.4H559.7H573.0H586.3H599.6V64.0H612.9H626.2V53.0H639.5H652.8V42.0"/><path d="M413.4 174.1H428.2H443.0V155.2H457.7V136.4H472.5H487.3V117.5H502.1V98.6H516.8H531.6H546.4V79.7H561.2H576.0V60.9H590.7H605.5H620.3H635.1H649.8V42.0"/></g>
<g fill="none" stroke="#cc792f" stroke-opacity="0.055" stroke-width="0.7"><path d="M413.4 288.6H421.5H429.5V200.5H437.6H445.6H453.7H461.8H469.8V165.3H477.9H485.9H494.0V147.7H502.1H510.1V130.1H518.2V112.5H526.2H534.3H542.4V94.8H550.4H558.5H566.6H574.6H582.7H590.7V77.2H598.8H606.9H614.9H623.0H631.0V59.6H639.1H647.2H655.2H663.3V42.0"/><path d="M413.4 258.2H424.5H435.6V234.1H446.6V210.1H457.7H468.8V174.1H479.9H491.0H502.1V150.1H513.1H524.2V126.1H535.3H546.4H557.5H568.6V90.0H579.6H590.7H601.8H612.9V78.0H624.0H635.1V54.0H646.1H657.2H668.3V42.0"/><path d="M413.4 125.4H424.0V69.8H434.7H445.3H456.0H466.6V55.9H477.2V42.0"/><path d="M413.4 257.3H426.7V218.1H440.0V169.2H453.3V159.4H466.6V130.1H479.9H493.2H506.5V100.7H519.8H533.1V90.9H546.4H559.7H573.0V81.1H586.3V61.6H599.6H612.9H626.2H639.5V51.8H652.8V42.0"/><path d="M413.4 193.0H423.3H433.1V155.2H443.0H452.8V117.5H462.7H472.5H482.4V79.7H492.2H502.1H511.9H521.8H531.6H541.5H551.3H561.2H571.0V60.9H580.9H590.7H600.6H610.4V42.0"/><path d="M413.4 165.3H432.4V130.1H451.4V77.2H470.4H489.4H508.4V59.6H527.4H546.4H565.4H584.4H603.4V42.0"/><path d="M413.4 207.1H422.0H430.6V190.6H439.1V141.1H447.7V108.1H456.3H464.9H473.5H482.0H490.6H499.2V91.5H507.8H516.4H524.9H533.5V75.0H542.1V58.5H550.7H559.3H567.9H576.4H585.0H593.6H602.2H610.8H619.3H627.9V42.0"/><path d="M413.4 266.6H432.4V213.7H451.4V174.1H470.4H489.4V147.7H508.4V121.3H527.4H546.4V108.1H565.4V94.8H584.4V81.6H603.4H622.4V68.4H641.4H660.4V55.2"/><path d="M413.4 157.6H422.9V124.6H432.4V108.1H441.9V99.8H451.4V75.0H460.9H470.4H479.9H489.4V66.8H498.9H508.4V50.3H517.9H527.4H536.9H546.4V42.0H555.9H565.4"/><path d="M413.4 306.2V294.2H421.5V282.2H429.5V270.2H437.6V246.2H445.6H453.7H461.8V222.1H469.8V198.1H477.9V174.1H485.9H494.0H502.1V162.1H510.1V138.1H518.2H526.2H534.3H542.4H550.4H558.5V114.1H566.6H574.6V102.0H582.7H590.7H598.8V90.0H606.9H614.9V78.0H623.0H631.0H639.1H647.2V66.0H655.2V54.0H663.3H671.3V42.0"/><path d="M413.4 306.2V150.8H425.0H436.5V135.2H448.1V57.5H459.7H471.2H482.8H494.4H505.9H517.5H529.1H540.6H552.2H563.7V42.0"/><path d="M413.4 141.1H427.4V130.1H441.4H455.4H469.4V108.1H483.4V97.0H497.4H511.4H525.4H539.4V86.0H553.4V53.0H567.4H581.4H595.4H609.4H623.4V42.0"/><path d="M413.4 262.2H422.0H430.6H439.1V207.1H447.7H456.3V185.1H464.9H473.5V174.1H482.0H490.6H499.2V152.1H507.8H516.4V141.1H524.9V130.1H533.5H542.1V119.1H550.7H559.3H567.9V97.0H576.4H585.0V86.0H593.6H602.2H610.8V75.0H619.3H627.9H636.5V64.0H645.1V53.0H653.7H662.2H670.8V42.0"/><path d="M413.4 186.9H421.7H430.0V169.8H438.3H446.6H455.0V127.2H463.3H471.6V101.7H479.9H488.2H496.5H504.8V84.6H513.1H521.5H529.8H538.1V76.1H546.4H554.7H563.0H571.3V67.6H579.6H588.0V59.0H596.3H604.6H612.9V50.5H621.2H629.5H637.8H646.1V42.0"/><path d="M413.4 98.6H429.0H444.7H460.3V79.7H476.0H491.6V60.9H507.3H522.9H538.6V42.0H554.2"/><path d="M413.4 195.0H426.1V167.1H438.7V139.3H451.4V111.5H464.1V97.6H476.7H489.4H502.1V83.7H514.7H527.4H540.1V69.8H552.7H565.4H578.1H590.7V55.9H603.4H616.1V42.0H628.7"/><path d="M413.4 143.6H428.2V123.3H443.0V113.1H457.7V92.8H472.5V82.6H487.3V72.5H502.1H516.8V52.2H531.6H546.4H561.2H576.0H590.7V42.0H605.5"/><path d="M413.4 306.2V174.1H429.0V138.1H444.7V114.1H460.3V90.0H476.0V78.0H491.6H507.3H522.9V66.0H538.6V54.0H554.2V42.0"/><path d="M413.4 232.2H427.4H441.4V211.1H455.4V179.4H469.4V168.8H483.4V158.2H497.4V137.1H511.4H525.4V116.0H539.4V105.4H553.4H567.4V84.3H581.4H595.4H609.4V73.7H623.4V63.1H637.4H651.4V52.6H665.4V42.0"/><path d="M413.4 306.2V158.2H428.2H443.0V116.0H457.7V73.7H472.5H487.3H502.1V52.6H516.8V42.0"/><path d="M413.4 130.1H421.5H429.5H437.6V94.8H445.6H453.7H461.8V77.2H469.8H477.9H485.9H494.0H502.1V59.6H510.1H518.2H526.2H534.3V42.0H542.4"/><path d="M413.4 110.2H427.4H441.4V76.1H455.4H469.4V59.0H483.4H497.4V50.5H511.4H525.4V42.0H539.4"/><path d="M413.4 306.2V158.6H423.3H433.1V135.2H443.0V88.6H452.8H462.7V65.3H472.5H482.4H492.2H502.1H511.9H521.8V57.5H531.6H541.5H551.3V42.0H561.2"/><path d="M413.4 306.2V262.2H424.0H434.7V251.2H445.3V207.1H456.0V174.1H466.6H477.2H487.9H498.5V163.1H509.2V152.1H519.8V130.1H530.4H541.1V119.1H551.7V97.0H562.4H573.0H583.6H594.3V86.0H604.9V75.0H615.6H626.2V64.0H636.8H647.5H658.1V53.0H668.8V42.0"/><path d="M413.4 203.9H422.6V186.9H431.7V169.8H440.9H450.1V161.3H459.3V135.7H468.4H477.6V127.2H486.8H496.0V110.2H505.1H514.3H523.5H532.6V84.6H541.8H551.0H560.2V76.1H569.3H578.5H587.7V67.6H596.8V59.0H606.0H615.2H624.4H633.5H642.7H651.9V42.0"/><path d="M413.4 167.1H422.6V125.4H431.7V111.5H440.9H450.1V69.8H459.3H468.4H477.6H486.8V55.9H496.0H505.1H514.3H523.5H532.6H541.8H551.0H560.2H569.3H578.5V42.0"/></g>
<g fill="none" stroke="#438e43" stroke-opacity="0.055" stroke-width="0.7"><path d="M413.4 179.4H422.3V158.2H431.1V147.7H440.0V137.1H448.9V116.0H457.7H466.6H475.5H484.3H493.2V94.8H502.1H510.9H519.8V84.3H528.7H537.5V73.7H546.4H555.3V52.6H564.1H573.0H581.9H590.7H599.6H608.5H617.3H626.2H635.1H643.9H652.8V42.0H661.7"/><path d="M413.4 306.2V158.2H424.5H435.6V126.5H446.6V94.8H457.7V73.7H468.8H479.9H491.0V63.1H502.1V52.6H513.1H524.2H535.3H546.4H557.5H568.6V42.0H579.6"/><path d="M413.4 155.2H421.2H429.0V130.1H436.9V117.5H444.7V104.9H452.5H460.3H468.2V92.3H476.0H483.8V79.7H491.6V67.2H499.5H507.3H515.1H522.9H530.8H538.6V54.6H546.4H554.2H562.0V42.0"/><path d="M413.4 306.2H426.7V288.6H440.0V271.0H453.3V244.6H466.6V226.9H479.9H493.2V218.1H506.5V191.7H519.8V182.9H533.1V165.3H546.4V130.1H559.7H573.0V112.5H586.3V103.6H599.6V94.8H612.9H626.2V86.0H639.5V68.4H652.8V59.6H666.1V50.8"/><path d="M413.4 162.1H426.7V154.1H440.0V106.0H453.3H466.6H479.9V90.0H493.2H506.5V66.0H519.8H533.1H546.4V58.0H559.7H573.0V50.0H586.3H599.6H612.9V42.0"/><path d="M413.4 126.1H424.5V114.1H435.6V90.0H446.6H457.7H468.8H479.9V78.0H491.0H502.1V54.0H513.1H524.2H535.3H546.4H557.5H568.6V42.0"/><path d="M413.4 168.8H423.3H433.1V94.8H443.0H452.8H462.7H472.5H482.4H492.2H502.1V84.3H511.9H521.8V63.1H531.6V52.6H541.5V42.0"/><path d="M413.4 108.1H423.6V68.4H433.9H444.1H454.3V55.2H464.6H474.8H485.0V42.0"/><path d="M413.4 98.6H422.6H431.7V79.7H440.9H450.1V60.9H459.3H468.4V42.0H477.6"/><path d="M413.4 182.9H422.3H431.1V174.1H440.0V156.5H448.9V147.7H457.7V130.1H466.6H475.5V103.6H484.3H493.2H502.1H510.9V86.0H519.8H528.7H537.5V77.2H546.4H555.3V68.4H564.1H573.0V59.6H581.9H590.7V50.8H599.6H608.5H617.3V42.0"/><path d="M413.4 149.3H422.9H432.4V83.3H441.9V66.8H451.4H460.9V58.5H470.4H479.9H489.4H498.9H508.4V42.0"/><path d="M413.4 113.1H421.5H429.5V72.5H437.6H445.6H453.7V62.3H461.8H469.8H477.9V42.0"/><path d="M413.4 138.9H429.0H444.7V112.5H460.3H476.0H491.6V94.8H507.3V77.2H522.9H538.6V68.4H554.2H569.9V42.0"/><path d="M413.4 124.6H422.9H432.4H441.9V108.1H451.4H460.9H470.4V75.0H479.9H489.4H498.9H508.4H517.9V58.5H527.4H536.9H546.4H555.9V42.0"/><path d="M413.4 100.7H422.3V71.4H431.1V42.0H440.0"/><path d="M413.4 306.2V130.1H421.5H429.5V92.3H437.6V79.7H445.6V54.6H453.7H461.8H469.8H477.9H485.9V42.0"/><path d="M413.4 263.9H425.0H436.5V200.5H448.1V190.0H459.7V179.4H471.2V168.8H482.8V158.2H494.4V147.7H505.9V137.1H517.5V126.5H529.1H540.6V94.8H552.2H563.7H575.3V73.7H586.9H598.4H610.0H621.6H633.1V63.1H644.7V52.6H656.3H667.8V42.0"/><path d="M413.4 159.4H429.0V130.1H444.7V86.0H460.3H476.0H491.6V71.4H507.3H522.9H538.6V42.0"/><path d="M413.4 262.2H422.0V244.6H430.6V235.7H439.1V209.3H447.7H456.3V191.7H464.9V174.1H473.5V165.3H482.0V156.5H490.6H499.2H507.8V147.7H516.4V138.9H524.9V121.3H533.5H542.1V112.5H550.7H559.3V103.6H567.9V86.0H576.4H585.0V77.2H593.6H602.2H610.8H619.3V68.4H627.9H636.5H645.1V59.6H653.7V50.8H662.2V42.0"/><path d="M413.4 193.0H423.3H433.1V183.5H443.0V136.4H452.8V126.9H462.7H472.5V108.1H482.4H492.2H502.1V79.7H511.9H521.8H531.6H541.5H551.3H561.2V70.3H571.0V60.9H580.9H590.7H600.6H610.4V51.4H620.3H630.1H640.0V42.0H649.8"/><path d="M413.4 248.8H422.3V237.3H431.1V225.8H440.0H448.9V168.4H457.7H466.6V145.4H475.5H484.3H493.2H502.1V110.9H510.9H519.8H528.7H537.5V99.4H546.4H555.3V87.9H564.1H573.0H581.9H590.7V76.5H599.6H608.5V65.0H617.3H626.2H635.1H643.9V53.5H652.8H661.7V42.0"/><path d="M413.4 187.3H425.5H437.6V160.9H449.7V134.5H461.8H473.9V94.8H485.9H498.0H510.1V81.6H522.2H534.3H546.4H558.5H570.6H582.7V68.4H594.8H606.9V55.2H618.9H631.0V42.0H643.1H655.2"/><path d="M413.4 211.1H422.6H431.7V190.0H440.9V158.2H450.1H459.3V147.7H468.4H477.6V137.1H486.8H496.0V116.0H505.1H514.3H523.5V94.8H532.6H541.8V84.3H551.0H560.2H569.3H578.5V73.7H587.7V63.1H596.8H606.0H615.2H624.4H633.5H642.7V52.6H651.9V42.0"/><path d="M413.4 226.9H421.2H429.0V182.9H436.9V165.3H444.7V147.7H452.5H460.3H468.2H476.0V121.3H483.8H491.6H499.5H507.3V112.5H515.1H522.9H530.8V94.8H538.6V77.2H546.4H554.2H562.0H569.9H577.7H585.5V68.4H593.3H601.2V59.6H609.0H616.8H624.6H632.5H640.3V50.8H648.1H655.9H663.8V42.0H671.6"/><path d="M413.4 306.2V166.3H422.3H431.1V150.8H440.0V135.2H448.9V119.7H457.7H466.6H475.5H484.3V104.2H493.2V88.6H502.1H510.9V73.1H519.8H528.7H537.5H546.4H555.3H564.1H573.0H581.9H590.7V42.0"/><path d="M413.4 306.2V232.8H422.9H432.4V203.5H441.9H451.4V174.1H460.9H470.4H479.9V159.4H489.4H498.9V130.1H508.4V115.4H517.9H527.4H536.9V100.7H546.4H555.9H565.4H574.9V71.4H584.4H593.9H603.4H612.9H622.4H631.9V56.7H641.4H650.9H660.4V42.0"/></g>
<g fill="none" stroke="#b13f40" stroke-opacity="0.055" stroke-width="0.7"><path d="M413.4 306.2V105.8H423.6H433.9V96.7H444.1V69.3H454.3H464.6H474.8H485.0H495.2V60.2H505.5V51.1H515.7V42.0"/><path d="M413.4 136.4H422.9H432.4V117.5H441.9H451.4V79.7H460.9H470.4H479.9H489.4H498.9V42.0"/><path d="M413.4 200.5H422.9V179.4H432.4V168.8H441.9V158.2H451.4V94.8H460.9H470.4H479.9H489.4H498.9V84.3H508.4H517.9V73.7H527.4H536.9H546.4H555.9V63.1H565.4H574.9H584.4V52.6H593.9H603.4H612.9H622.4H631.9H641.4H650.9V42.0"/><path d="M413.4 306.2V165.3H425.5H437.6V147.7H449.7H461.8V94.8H473.9H485.9H498.0H510.1H522.2V77.2H534.3H546.4H558.5H570.6V59.6H582.7H594.8V42.0H606.9H618.9"/><path d="M413.4 110.5H423.3V71.4H433.1H443.0H452.8V51.8H462.7H472.5V42.0"/><path d="M413.4 188.8H421.5H429.5V169.2H437.6V139.9H445.6H453.7H461.8V120.3H469.8H477.9V110.5H485.9V81.1H494.0H502.1H510.1H518.2V61.6H526.2H534.3H542.4H550.4H558.5H566.6H574.6H582.7H590.7H598.8V51.8H606.9H614.9H623.0H631.0H639.1H647.2V42.0"/><path d="M413.4 306.2V151.3H421.7H430.0V124.0H438.3V105.8H446.6H455.0H463.3V69.3H471.6H479.9H488.2H496.5H504.8V60.2H513.1H521.5H529.8H538.1H546.4V51.1H554.7H563.0H571.3H579.6V42.0"/><path d="M413.4 130.1H423.3H433.1H443.0V74.0H452.8H462.7V50.0H472.5H482.4H492.2H502.1H511.9H521.8H531.6V42.0H541.5"/><path d="M413.4 143.6H425.5H437.6V103.0H449.7H461.8V82.6H473.9H485.9H498.0H510.1V72.5H522.2H534.3V62.3H546.4V52.2H558.5V42.0"/><path d="M413.4 222.1H426.7V210.1H440.0V174.1H453.3V126.1H466.6H479.9H493.2H506.5V114.1H519.8V102.0H533.1H546.4V90.0H559.7V78.0H573.0V66.0H586.3H599.6V54.0H612.9H626.2H639.5H652.8H666.1V42.0"/><path d="M413.4 150.1H421.5H429.5H437.6V114.1H445.6H453.7H461.8H469.8H477.9V102.0H485.9V90.0H494.0V78.0H502.1H510.1V66.0H518.2H526.2H534.3H542.4H550.4V54.0H558.5H566.6H574.6H582.7H590.7V42.0"/><path d="M413.4 306.2V256.7H422.0V231.9H430.6V182.4H439.1H447.7V165.8H456.3H464.9H473.5V149.3H482.0H490.6H499.2V132.8H507.8V116.3H516.4H524.9H533.5H542.1V99.8H550.7H559.3H567.9V83.3H576.4H585.0V75.0H593.6H602.2H610.8V66.8H619.3H627.9H636.5V58.5H645.1V50.3H653.7H662.2H670.8V42.0"/><path d="M413.4 212.5H424.5H435.6V178.4H446.6V161.3H457.7V144.3H468.8H479.9V110.2H491.0H502.1H513.1V101.7H524.2H535.3V84.6H546.4H557.5H568.6V76.1H579.6V67.6H590.7V59.0H601.8H612.9H624.0H635.1V50.5H646.1H657.2V42.0H668.3"/><path d="M413.4 135.2H424.0H434.7H445.3V119.7H456.0V111.9H466.6V80.9H477.2H487.9H498.5H509.2V65.3H519.8V57.5H530.4H541.1H551.7H562.4H573.0V42.0"/><path d="M413.4 116.0H427.4H441.4V73.7H455.4H469.4H483.4H497.4H511.4V63.1H525.4H539.4V52.6H553.4H567.4H581.4V42.0"/><path d="M413.4 237.7H422.9H432.4V179.0H441.9H451.4H460.9V169.2H470.4V149.6H479.9V139.9H489.4H498.9H508.4V130.1H517.9V120.3H527.4H536.9V100.7H546.4H555.9V90.9H565.4H574.9V81.1H584.4H593.9H603.4V71.4H612.9V61.6H622.4H631.9H641.4H650.9V51.8H660.4H669.9V42.0"/><path d="M413.4 306.2V136.4H421.2V117.5H429.0V60.9H436.9H444.7H452.5H460.3H468.2H476.0V42.0"/><path d="M413.4 271.0H422.9V218.1H432.4V182.9H441.9H451.4V156.5H460.9H470.4H479.9V130.1H489.4H498.9V121.3H508.4H517.9H527.4V112.5H536.9H546.4H555.9V103.6H565.4V94.8H574.9H584.4V77.2H593.9H603.4H612.9H622.4V59.6H631.9H641.4H650.9V50.8H660.4H669.9V42.0"/><path d="M413.4 136.4H421.5H429.5V117.5H437.6V60.9H445.6H453.7H461.8H469.8V42.0"/><path d="M413.4 204.6H421.5V194.4H429.5V143.6H437.6H445.6H453.7V113.1H461.8H469.8H477.9H485.9H494.0V103.0H502.1V92.8H510.1H518.2H526.2H534.3V72.5H542.4H550.4H558.5H566.6V62.3H574.6H582.7H590.7H598.8V52.2H606.9H614.9H623.0H631.0H639.1H647.2H655.2V42.0"/><path d="M413.4 113.1H421.5H429.5V82.6H437.6V52.2H445.6H453.7H461.8H469.8H477.9H485.9H494.0V42.0"/><path d="M413.4 208.3H421.7H430.0V179.0H438.3V159.4H446.6V139.9H455.0H463.3H471.6V100.7H479.9H488.2H496.5H504.8H513.1H521.5V90.9H529.8H538.1V71.4H546.4H554.7H563.0H571.3V61.6H579.6H588.0H596.3V51.8H604.6H612.9H621.2H629.5H637.8V42.0H646.1"/><path d="M413.4 184.3H422.3H431.1V174.1H440.0V133.5H448.9V123.3H457.7V113.1H466.6H475.5H484.3H493.2H502.1V72.5H510.9H519.8V62.3H528.7H537.5H546.4H555.3H564.1H573.0V52.2H581.9H590.7H599.6H608.5H617.3H626.2H635.1H643.9H652.8V42.0"/><path d="M413.4 306.2V226.9H425.0H436.5V187.3H448.1H459.7V147.7H471.2H482.8H494.4H505.9V134.5H517.5H529.1V108.1H540.6H552.2H563.7V94.8H575.3V68.4H586.9H598.4H610.0V55.2H621.6H633.1H644.7H656.3V42.0H667.8"/><path d="M413.4 203.9H428.2V135.7H443.0V101.7H457.7H472.5V93.1H487.3H502.1V84.6H516.8V59.0H531.6H546.4V50.5H561.2H576.0H590.7H605.5V42.0H620.3"/><path d="M413.4 168.4H421.2V133.9H429.0V110.9H436.9H444.7V99.4H452.5H460.3V76.5H468.2H476.0H483.8H491.6H499.5H507.3V42.0H515.1"/></g>
<g fill="none" stroke="#8669a1" stroke-opacity="0.055" stroke-width="0.7"><path d="M413.4 179.0H425.5V130.1H437.6V100.7H449.7V90.9H461.8H473.9V81.1H485.9H498.0H510.1V71.4H522.2V51.8H534.3V42.0"/><path d="M413.4 174.1H426.1V159.4H438.7V130.1H451.4H464.1V115.4H476.7H489.4V86.0H502.1H514.7V56.7H527.4V42.0"/><path d="M413.4 138.9H430.0V112.5H446.6V77.2H463.3H479.9V50.8H496.5H513.1V42.0"/><path d="M413.4 189.6H423.6H433.9V150.8H444.1H454.3V119.7H464.6V104.2H474.8H485.0H495.2V80.9H505.5H515.7H525.9H536.2V73.1H546.4H556.6V65.3H566.9V57.5H577.1H587.3H597.6V49.8H607.8H618.0H628.2H638.5H648.7H658.9V42.0H669.2"/><path d="M413.4 306.2H423.6V287.3H433.9V268.5H444.1V249.6H454.3V230.7H464.6H474.8V193.0H485.0H495.2H505.5H515.7V155.2H525.9H536.2V136.4H546.4H556.6H566.9V117.5H577.1H587.3V98.6H597.6H607.8H618.0V79.7H628.2H638.5H648.7V60.9H658.9H669.2V42.0"/><path d="M413.4 190.6H429.0V174.1H444.7V141.1H460.3H476.0H491.6V124.6H507.3V91.5H522.9H538.6H554.2H569.9V75.0H585.5V58.5H601.2H616.8V42.0"/><path d="M413.4 207.1H430.0V190.6H446.6V157.6H463.3H479.9V141.1H496.5V108.1H513.1H529.8H546.4V91.5H563.0H579.6V58.5H596.3H612.9H629.5H646.1H662.8V42.0"/><path d="M413.4 275.1H422.3H431.1V259.6H440.0H448.9V228.5H457.7V213.0H466.6V181.9H475.5H484.3H493.2H502.1V166.3H510.9H519.8V135.2H528.7H537.5H546.4V119.7H555.3H564.1V104.2H573.0H581.9V88.6H590.7H599.6H608.5H617.3H626.2V73.1H635.1H643.9H652.8V57.5H661.7H670.5V42.0"/><path d="M413.4 186.1H422.9H432.4V126.1H441.9H451.4H460.9V114.1H470.4V102.0H479.9H489.4V90.0H498.9V78.0H508.4H517.9H527.4H536.9V66.0H546.4H555.9V54.0H565.4H574.9H584.4H593.9H603.4V42.0"/><path d="M413.4 282.2H426.7V234.1H440.0V202.1H453.3V178.1H466.6H479.9V154.1H493.2V146.1H506.5H519.8H533.1V106.0H546.4H559.7H573.0V98.0H586.3V90.0H599.6V82.0H612.9V74.0H626.2H639.5V58.0H652.8V50.0H666.1H679.4V42.0"/><path d="M413.4 189.6H432.4V150.8H451.4V119.7H470.4H489.4V88.6H508.4H527.4H546.4H565.4V73.1H584.4V57.5H603.4H622.4V49.8H641.4V42.0"/><path d="M413.4 182.9H421.2H429.0H436.9V165.3H444.7V147.7H452.5H460.3H468.2H476.0V130.1H483.8V112.5H491.6H499.5V77.2H507.3H515.1H522.9H530.8H538.6H546.4H554.2H562.0H569.9H577.7H585.5V59.6H593.3H601.2H609.0H616.8H624.6H632.5H640.3H648.1V42.0H655.9"/><path d="M413.4 247.5H422.6H431.7H440.9V198.6H450.1V188.8H459.3H468.4H477.6V179.0H486.8V159.4H496.0V149.6H505.1V130.1H514.3H523.5H532.6V120.3H541.8H551.0V110.5H560.2V100.7H569.3H578.5H587.7V81.1H596.8H606.0V71.4H615.2H624.4H633.5H642.7V61.6H651.9V51.8H661.1H670.2V42.0"/><path d="M413.4 290.7H424.0H434.7V282.9H445.3V259.6H456.0V220.7H466.6H477.2V213.0H487.9H498.5H509.2V189.6H519.8H530.4V158.6H541.1V143.0H551.7V127.5H562.4H573.0V111.9H583.6V96.4H594.3H604.9V88.6H615.6H626.2H636.8V73.1H647.5V65.3H658.1V57.5H668.8V49.8H679.4V42.0"/><path d="M413.4 306.2V115.4H422.9V71.4H432.4V56.7H441.9H451.4H460.9V42.0"/><path d="M413.4 130.1H421.7H430.0V106.0H438.3V98.0H446.6V82.0H455.0V50.0H463.3H471.6H479.9V42.0"/><path d="M413.4 130.1H422.0H430.6V112.5H439.1V77.2H447.7H456.3V59.6H464.9H473.5H482.0H490.6V42.0"/><path d="M413.4 198.6H422.9V130.1H432.4V110.5H441.9V90.9H451.4V81.1H460.9V71.4H470.4H479.9H489.4H498.9H508.4V42.0"/><path d="M413.4 155.2H429.0H444.7V117.5H460.3V98.6H476.0H491.6V79.7H507.3H522.9V60.9H538.6H554.2V42.0"/><path d="M413.4 193.0H421.2V145.8H429.0V117.5H436.9H444.7V89.2H452.5V51.4H460.3H468.2H476.0H483.8H491.6H499.5H507.3H515.1H522.9H530.8H538.6V42.0"/><path d="M413.4 214.3H432.4V110.9H451.4H470.4H489.4H508.4V99.4H527.4V76.5H546.4H565.4V53.5H584.4H603.4H622.4H641.4V42.0"/><path d="M413.4 114.1H423.3V102.0H433.1V66.0H443.0H452.8V42.0"/><path d="M413.4 306.2V234.1H423.3H433.1H443.0V186.1H452.8V174.1H462.7H472.5H482.4V162.1H492.2V138.1H502.1H511.9H521.8V126.1H531.6H541.5V114.1H551.3V102.0H561.2H571.0V90.0H580.9H590.7V78.0H600.6V66.0H610.4H620.3H630.1H640.0H649.8V54.0H659.7V42.0"/><path d="M413.4 306.2H422.3V237.3H431.1H440.0V225.8H448.9V202.8H457.7H466.6V156.9H475.5H484.3H493.2H502.1V145.4H510.9H519.8V133.9H528.7H537.5V122.4H546.4H555.3V110.9H564.1H573.0H581.9V99.4H590.7V87.9H599.6H608.5V76.5H617.3H626.2H635.1V65.0H643.9V53.5H652.8H661.7H670.5V42.0"/><path d="M413.4 306.2V169.2H431.1V159.4H448.9V139.9H466.6V130.1H484.3V120.3H502.1V110.5H519.8H537.5V71.4H555.3H573.0V61.6H590.7H608.5H626.2V51.8H643.9V42.0"/><path d="M413.4 306.2V122.1H422.3H431.1V90.0H440.0H448.9V82.0H457.7H466.6V74.0H475.5V58.0H484.3V50.0H493.2H502.1V42.0"/></g>
<g fill="none" stroke="#815e57" stroke-opacity="0.055" stroke-width="0.7"><path d="M413.4 111.5H421.7V97.6H430.0V69.8H438.3H446.6V42.0"/><path d="M413.4 145.4H424.5H435.6V122.4H446.6V99.4H457.7V76.5H468.8H479.9H491.0H502.1H513.1H524.2H535.3V53.5H546.4H557.5H568.6V42.0H579.6"/><path d="M413.4 202.1H426.1V178.1H438.7H451.4V138.1H464.1H476.7V114.1H489.4V98.0H502.1H514.7V90.0H527.4V74.0H540.1H552.7V58.0H565.4H578.1H590.7H603.4H616.1H628.7H641.4V50.0H654.1H666.7V42.0"/><path d="M413.4 141.1H428.2H443.0V124.6H457.7V108.1H472.5H487.3V91.5H502.1V75.0H516.8H531.6V58.5H546.4H561.2H576.0H590.7H605.5V42.0"/><path d="M413.4 306.2V248.8H428.2V214.3H443.0V168.4H457.7H472.5H487.3V133.9H502.1V110.9H516.8V99.4H531.6H546.4V76.5H561.2H576.0H590.7H605.5V53.5H620.3H635.1H649.8V42.0H664.6"/><path d="M413.4 153.2H424.0H434.7H445.3V83.7H456.0H466.6H477.2V69.8H487.9H498.5V42.0"/><path d="M413.4 134.5H422.9H432.4V94.8H441.9H451.4H460.9H470.4H479.9V81.6H489.4H498.9V68.4H508.4H517.9H527.4H536.9V42.0"/><path d="M413.4 249.6H422.6H431.7V211.8H440.9V193.0H450.1V155.2H459.3H468.4H477.6H486.8V117.5H496.0H505.1H514.3H523.5V98.6H532.6H541.8H551.0H560.2H569.3V79.7H578.5H587.7H596.8V60.9H606.0H615.2H624.4H633.5H642.7H651.9V42.0"/><path d="M413.4 260.6H430.0V224.2H446.6V178.7H463.3V169.5H479.9V142.2H496.5H513.1V124.0H529.8H546.4V105.8H563.0V78.4H579.6H596.3V69.3H612.9H629.5H646.1V51.1H662.8"/><path d="M413.4 253.4H428.2V218.1H443.0V200.5H457.7V147.7H472.5H487.3H502.1V130.1H516.8H531.6V112.5H546.4V94.8H561.2H576.0V77.2H590.7V59.6H605.5H620.3H635.1H649.8H664.6V42.0"/><path d="M413.4 218.1H421.5H429.5V210.1H437.6V186.1H445.6V162.1H453.7V146.1H461.8V130.1H469.8H477.9H485.9H494.0V114.1H502.1H510.1H518.2V98.0H526.2H534.3V90.0H542.4H550.4H558.5H566.6H574.6V82.0H582.7H590.7V66.0H598.8H606.9H614.9V58.0H623.0H631.0H639.1V50.0H647.2H655.2H663.3V42.0H671.3"/><path d="M413.4 112.5H423.6V94.8H433.9H444.1V77.2H454.3V42.0"/><path d="M413.4 79.7H422.9H432.4V60.9H441.9H451.4H460.9H470.4V42.0"/><path d="M413.4 306.2V234.1H426.1H438.7V198.1H451.4H464.1V174.1H476.7V150.1H489.4V138.1H502.1H514.7H527.4V126.1H540.1V114.1H552.7V102.0H565.4V90.0H578.1H590.7V78.0H603.4H616.1H628.7V66.0H641.4V54.0H654.1H666.7V42.0"/><path d="M413.4 306.2V190.0H422.3H431.1V137.1H440.0V126.5H448.9H457.7H466.6V94.8H475.5V73.7H484.3H493.2H502.1H510.9H519.8V63.1H528.7H537.5H546.4H555.3H564.1V52.6H573.0H581.9H590.7H599.6H608.5H617.3H626.2V42.0"/><path d="M413.4 149.6H425.5H437.6V139.9H449.7V100.7H461.8H473.9V61.6H485.9H498.0H510.1H522.2H534.3H546.4V51.8H558.5H570.6V42.0"/><path d="M413.4 110.5H425.0H436.5H448.1V100.7H459.7V71.4H471.2H482.8H494.4V61.6H505.9H517.5H529.1V42.0"/><path d="M413.4 211.1H423.3V200.5H433.1V168.8H443.0V137.1H452.8V116.0H462.7H472.5V94.8H482.4H492.2V73.7H502.1H511.9H521.8H531.6H541.5H551.3V63.1H561.2H571.0H580.9H590.7H600.6H610.4V52.6H620.3H630.1V42.0H640.0"/><path d="M413.4 297.1H423.6V278.9H433.9V251.5H444.1V196.9H454.3H464.6H474.8V187.8H485.0V169.5H495.2H505.5H515.7V160.4H525.9V142.2H536.2H546.4V133.1H556.6V114.9H566.9H577.1V105.8H587.3V87.6H597.6H607.8V78.4H618.0H628.2V69.3H638.5H648.7V60.2H658.9V51.1H669.2"/><path d="M413.4 218.1H422.3V170.1H431.1V138.1H440.0V130.1H448.9H457.7V114.1H466.6V106.0H475.5V74.0H484.3H493.2H502.1H510.9V50.0H519.8H528.7H537.5H546.4H555.3H564.1H573.0H581.9H590.7H599.6H608.5V42.0"/><path d="M413.4 174.1H429.0V133.5H444.7H460.3V123.3H476.0V113.1H491.6H507.3V103.0H522.9V82.6H538.6H554.2V62.3H569.9H585.5H601.2V52.2H616.8H632.5V42.0"/><path d="M413.4 218.1H424.0H434.7V203.5H445.3V174.1H456.0H466.6V144.7H477.2H487.9V115.4H498.5V100.7H509.2H519.8H530.4V86.0H541.1H551.7H562.4H573.0V71.4H583.6H594.3H604.9H615.6H626.2V56.7H636.8H647.5H658.1H668.8V42.0"/><path d="M413.4 188.8H426.7H440.0V179.0H453.3V159.4H466.6V139.9H479.9V110.5H493.2V90.9H506.5H519.8H533.1H546.4V71.4H559.7H573.0V61.6H586.3H599.6H612.9V51.8H626.2H639.5H652.8H666.1V42.0"/><path d="M413.4 218.1H425.0H436.5V185.1H448.1H459.7V174.1H471.2H482.8V163.1H494.4V130.1H505.9V119.1H517.5V108.1H529.1H540.6H552.2H563.7V97.0H575.3V86.0H586.9V75.0H598.4H610.0H621.6V64.0H633.1H644.7V53.0H656.3H667.8V42.0"/><path d="M413.4 306.2V111.5H425.0V83.7H436.5V69.8H448.1V55.9H459.7H471.2V42.0"/><path d="M413.4 190.0H427.4V147.7H441.4H455.4V105.4H469.4H483.4H497.4V94.8H511.4V73.7H525.4H539.4H553.4V52.6H567.4H581.4H595.4H609.4H623.4H637.4H651.4V42.0"/></g>
<g fill="none" stroke="#ba73a4" stroke-opacity="0.055" stroke-width="0.7"><path d="M413.4 306.2V193.0H426.7H440.0V174.1H453.3V136.4H466.6H479.9V117.5H493.2V98.6H506.5H519.8H533.1V79.7H546.4H559.7H573.0V60.9H586.3H599.6H612.9H626.2H639.5V42.0"/><path d="M413.4 213.7H425.0H436.5V147.7H448.1H459.7H471.2V121.3H482.8H494.4H505.9H517.5H529.1V108.1H540.6V94.8H552.2V68.4H563.7H575.3H586.9H598.4H610.0H621.6H633.1V55.2H644.7H656.3V42.0"/><path d="M413.4 306.2V87.9H429.0V76.5H444.7V53.5H460.3V42.0"/><path d="M413.4 306.2V130.1H421.2H429.0V103.6H436.9H444.7H452.5H460.3V86.0H468.2H476.0V68.4H483.8H491.6H499.5H507.3H515.1H522.9V59.6H530.8H538.6H546.4V42.0H554.2"/><path d="M413.4 306.2V188.8H430.0V174.1H446.6V159.4H463.3V115.4H479.9H496.5H513.1V100.7H529.8V86.0H546.4V71.4H563.0V56.7H579.6H596.3H612.9H629.5H646.1H662.8V42.0"/><path d="M413.4 202.4H427.4V145.8H441.4H455.4V126.9H469.4V89.2H483.4H497.4H511.4H525.4V79.7H539.4H553.4H567.4V60.9H581.4V51.4H595.4H609.4H623.4H637.4H651.4V42.0"/><path d="M413.4 306.2V81.6H423.6H433.9V55.2H444.1H454.3H464.6V42.0H474.8"/><path d="M413.4 197.4H425.5V181.9H437.6H449.7V166.3H461.8V119.7H473.9V104.2H485.9H498.0H510.1H522.2V88.6H534.3H546.4H558.5H570.6V73.1H582.7H594.8H606.9H618.9V57.5H631.0H643.1H655.2V42.0"/><path d="M413.4 211.8H428.2V193.0H443.0V174.1H457.7V155.2H472.5V117.5H487.3H502.1V98.6H516.8H531.6H546.4H561.2H576.0V60.9H590.7H605.5H620.3H635.1H649.8V42.0"/><path d="M413.4 242.8H423.6H433.9V221.7H444.1V211.1H454.3V158.2H464.6H474.8V147.7H485.0V137.1H495.2H505.5V126.5H515.7H525.9V116.0H536.2H546.4V94.8H556.6H566.9H577.1H587.3V84.3H597.6V73.7H607.8H618.0V63.1H628.2V52.6H638.5H648.7H658.9H669.2V42.0"/><path d="M413.4 248.4H424.0V240.1H434.7V231.9H445.3V182.4H456.0V174.1H466.6V141.1H477.2H487.9V132.8H498.5H509.2H519.8V124.6H530.4V108.1H541.1H551.7V91.5H562.4V83.3H573.0H583.6V66.8H594.3H604.9H615.6H626.2V58.5H636.8H647.5V50.3H658.1H668.8V42.0"/><path d="M413.4 144.7H422.6V130.1H431.7V86.0H440.9H450.1H459.3H468.4V56.7H477.6H486.8H496.0H505.1H514.3H523.5H532.6V42.0H541.8"/><path d="M413.4 124.6H423.6V108.1H433.9V75.0H444.1V42.0"/><path d="M413.4 306.2V103.0H421.7H430.0H438.3V92.8H446.6V62.3H455.0V52.2H463.3H471.6V42.0"/><path d="M413.4 306.2V120.3H424.5H435.6H446.6H457.7V100.7H468.8H479.9V81.1H491.0H502.1V71.4H513.1H524.2H535.3H546.4V61.6H557.5H568.6V51.8H579.6H590.7H601.8H612.9V42.0"/><path d="M413.4 207.1H424.0H434.7V174.1H445.3H456.0V124.6H466.6H477.2V108.1H487.9H498.5H509.2H519.8H530.4V91.5H541.1H551.7H562.4V75.0H573.0V58.5H583.6H594.3H604.9H615.6H626.2H636.8H647.5V42.0"/><path d="M413.4 306.2V139.3H430.0V111.5H446.6H463.3H479.9V83.7H496.5H513.1H529.8V69.8H546.4H563.0H579.6V55.9H596.3H612.9V42.0"/><path d="M413.4 155.2H422.3H431.1V117.5H440.0H448.9V104.9H457.7V92.3H466.6H475.5V79.7H484.3V67.2H493.2H502.1H510.9H519.8H528.7V54.6H537.5H546.4H555.3H564.1H573.0V42.0"/><path d="M413.4 306.2V138.1H422.3H431.1V126.1H440.0H448.9V102.0H457.7V90.0H466.6H475.5H484.3H493.2V66.0H502.1H510.9V42.0"/><path d="M413.4 296.8H426.7V277.9H440.0V259.0H453.3V230.7H466.6H479.9V193.0H493.2H506.5V183.5H519.8V164.7H533.1V155.2H546.4V136.4H559.7V117.5H573.0H586.3V89.2H599.6H612.9H626.2V79.7H639.5V70.3H652.8V60.9H666.1V51.4H679.4V42.0"/><path d="M413.4 240.1H423.3H433.1V157.6H443.0H452.8H462.7V141.1H472.5H482.4V124.6H492.2H502.1H511.9H521.8V108.1H531.6H541.5H551.3V91.5H561.2H571.0V75.0H580.9H590.7H600.6H610.4V58.5H620.3H630.1H640.0H649.8V42.0H659.7"/><path d="M413.4 182.4H425.5V132.8H437.6H449.7V116.3H461.8V108.1H473.9V91.5H485.9V75.0H498.0H510.1H522.2H534.3V66.8H546.4V50.3H558.5H570.6H582.7H594.8H606.9H618.9H631.0H643.1V42.0"/><path d="M413.4 306.2V234.1H432.4V222.1H451.4V150.1H470.4H489.4H508.4V138.1H527.4V114.1H546.4H565.4V102.0H584.4V90.0H603.4V78.0H622.4V66.0H641.4V54.0H660.4H679.4V42.0"/><path d="M413.4 211.8H425.5H437.6H449.7V193.0H461.8V136.4H473.9H485.9V98.6H498.0H510.1H522.2H534.3H546.4H558.5H570.6V79.7H582.7V60.9H594.8H606.9H618.9H631.0H643.1H655.2V42.0"/><path d="M413.4 306.2V169.8H426.1V135.7H438.7V93.1H451.4V84.6H464.1H476.7H489.4H502.1H514.7V67.6H527.4V59.0H540.1H552.7H565.4H578.1V50.5H590.7V42.0"/><path d="M413.4 114.9H421.7H430.0H438.3V87.6H446.6H455.0V78.4H463.3V69.3H471.6H479.9H488.2V42.0"/></g>
<g fill="none" stroke="#797979" stroke-opacity="0.055" stroke-width="0.7"><path d="M413.4 260.3H422.6V248.8H431.7V214.3H440.9V202.8H450.1V179.8H459.3V168.4H468.4V145.4H477.6H486.8H496.0H505.1H514.3H523.5V122.4H532.6V110.9H541.8H551.0V99.4H560.2H569.3V87.9H578.5V76.5H587.7H596.8H606.0H615.2H624.4H633.5V65.0H642.7V53.5H651.9H661.1V42.0H670.2"/><path d="M413.4 306.2V174.1H432.4V160.9H451.4V108.1H470.4V81.6H489.4H508.4H527.4V68.4H546.4H565.4H584.4V42.0"/><path d="M413.4 157.6H422.0H430.6H439.1H447.7V141.1H456.3H464.9V91.5H473.5H482.0H490.6H499.2H507.8H516.4V75.0H524.9H533.5H542.1V58.5H550.7H559.3H567.9H576.4H585.0H593.6V42.0"/><path d="M413.4 154.1H425.5V146.1H437.6V82.0H449.7H461.8H473.9V50.0H485.9H498.0H510.1H522.2H534.3V42.0"/><path d="M413.4 224.9H422.6H431.7V194.4H440.9H450.1V184.3H459.3V174.1H468.4V143.6H477.6H486.8H496.0H505.1V123.3H514.3H523.5H532.6V113.1H541.8V103.0H551.0H560.2V92.8H569.3H578.5V82.6H587.7H596.8H606.0V72.5H615.2V62.3H624.4H633.5H642.7V52.2H651.9H661.1H670.2V42.0H679.4"/><path d="M413.4 127.2H421.2H429.0H436.9V101.7H444.7V93.1H452.5V76.1H460.3V59.0H468.2H476.0H483.8V50.5H491.6H499.5H507.3H515.1H522.9H530.8H538.6H546.4H554.2H562.0H569.9H577.7V42.0"/><path d="M413.4 204.6H422.0H430.6V184.3H439.1V163.9H447.7V133.5H456.3H464.9H473.5H482.0V103.0H490.6H499.2H507.8V92.8H516.4V82.6H524.9H533.5H542.1V72.5H550.7H559.3H567.9H576.4V62.3H585.0H593.6V52.2H602.2H610.8H619.3H627.9H636.5H645.1H653.7V42.0"/><path d="M413.4 111.5H431.1V97.6H448.9V83.7H466.6V69.8H484.3V42.0"/><path d="M413.4 306.2V130.1H432.4V112.5H451.4V94.8H470.4H489.4V77.2H508.4V59.6H527.4V42.0"/><path d="M413.4 111.5H429.0V97.6H444.7V83.7H460.3V55.9H476.0H491.6H507.3V42.0"/><path d="M413.4 260.3H422.0H430.6V225.8H439.1H447.7V214.3H456.3V202.8H464.9V179.8H473.5H482.0H490.6V168.4H499.2V145.4H507.8V133.9H516.4H524.9H533.5H542.1V110.9H550.7H559.3V99.4H567.9H576.4V87.9H585.0H593.6V76.5H602.2H610.8H619.3H627.9H636.5V53.5H645.1H653.7H662.2V42.0"/><path d="M413.4 195.4H425.0H436.5V152.8H448.1V127.2H459.7H471.2V101.7H482.8H494.4H505.9H517.5H529.1V67.6H540.6V59.0H552.2H563.7H575.3H586.9H598.4V50.5H610.0H621.6H633.1V42.0"/><path d="M413.4 130.1H425.0H436.5H448.1H459.7H471.2V112.5H482.8H494.4V94.8H505.9V77.2H517.5H529.1V59.6H540.6H552.2V42.0"/><path d="M413.4 306.2V195.4H423.3H433.1V152.8H443.0V127.2H452.8H462.7H472.5H482.4V110.2H492.2H502.1H511.9H521.8V76.1H531.6H541.5H551.3H561.2H571.0V67.6H580.9H590.7H600.6H610.4V59.0H620.3H630.1V50.5H640.0H649.8V42.0H659.7"/><path d="M413.4 218.1H430.0V179.0H446.6H463.3V149.6H479.9V139.9H496.5V130.1H513.1H529.8V120.3H546.4V100.7H563.0V81.1H579.6H596.3V71.4H612.9V61.6H629.5H646.1V51.8H662.8V42.0"/><path d="M413.4 183.5H424.0V155.2H434.7V126.9H445.3V98.6H456.0V89.2H466.6V70.3H477.2H487.9H498.5H509.2V60.9H519.8H530.4H541.1H551.7V51.4H562.4H573.0H583.6H594.3V42.0"/><path d="M413.4 163.1H421.7V152.1H430.0V141.1H438.3V86.0H446.6H455.0H463.3H471.6H479.9H488.2H496.5V75.0H504.8H513.1H521.5H529.8V64.0H538.1H546.4H554.7V53.0H563.0H571.3H579.6H588.0H596.3H604.6H612.9H621.2V42.0"/><path d="M413.4 166.3H425.5H437.6H449.7V119.7H461.8V104.2H473.9H485.9V88.6H498.0H510.1V73.1H522.2H534.3V57.5H546.4H558.5H570.6H582.7H594.8V42.0H606.9H618.9"/><path d="M413.4 208.9H421.5V195.0H429.5V181.1H437.6V167.1H445.6V153.2H453.7V139.3H461.8V125.4H469.8H477.9H485.9V97.6H494.0H502.1H510.1H518.2V83.7H526.2H534.3H542.4V55.9H550.4H558.5H566.6H574.6H582.7H590.7H598.8H606.9H614.9H623.0H631.0H639.1V42.0"/><path d="M413.4 121.3H425.5H437.6V94.8H449.7V81.6H461.8H473.9V55.2H485.9H498.0H510.1V42.0"/><path d="M413.4 229.5H428.2V221.0H443.0V161.3H457.7V118.7H472.5H487.3V110.2H502.1H516.8V84.6H531.6H546.4H561.2V59.0H576.0H590.7H605.5H620.3H635.1H649.8V42.0"/><path d="M413.4 223.6H422.0H430.6V190.6H439.1V174.1H447.7V157.6H456.3H464.9H473.5V141.1H482.0H490.6V124.6H499.2V108.1H507.8H516.4H524.9H533.5V91.5H542.1H550.7H559.3V75.0H567.9H576.4H585.0H593.6H602.2H610.8V58.5H619.3H627.9H636.5H645.1H653.7H662.2V42.0"/><path d="M413.4 306.2V221.3H430.0H446.6V174.1H463.3H479.9V145.8H496.5V136.4H513.1V117.5H529.8V108.1H546.4V98.6H563.0V79.7H579.6H596.3H612.9V60.9H629.5H646.1V51.4H662.8V42.0"/><path d="M413.4 260.3H424.0H434.7V214.3H445.3V168.4H456.0H466.6V156.9H477.2H487.9V145.4H498.5V133.9H509.2V122.4H519.8V110.9H530.4H541.1V99.4H551.7V76.5H562.4H573.0H583.6H594.3H604.9H615.6H626.2V65.0H636.8H647.5V53.5H658.1V42.0"/><path d="M413.4 306.2V98.6H422.9H432.4H441.9H451.4V60.9H460.9H470.4H479.9H489.4H498.9V42.0"/><path d="M413.4 200.5H423.3H433.1V147.7H443.0H452.8V130.1H462.7V112.5H472.5H482.4V94.8H492.2H502.1V77.2H511.9H521.8H531.6H541.5H551.3H561.2H571.0H580.9V59.6H590.7H600.6V42.0"/></g>
<g fill="none" stroke="#a0a13c" stroke-opacity="0.055" stroke-width="0.7"><path d="M413.4 117.5H424.5V98.6H435.6V60.9H446.6V51.4H457.7V42.0"/><path d="M413.4 122.4H421.7H430.0H438.3V87.9H446.6H455.0H463.3V65.0H471.6H479.9H488.2H496.5H504.8H513.1H521.5H529.8H538.1V53.5H546.4H554.7V42.0"/><path d="M413.4 306.2V149.6H422.6H431.7V110.5H440.9H450.1H459.3V71.4H468.4H477.6H486.8V61.6H496.0H505.1H514.3H523.5H532.6V42.0"/><path d="M413.4 155.2H429.0V89.2H444.7V79.7H460.3H476.0V70.3H491.6H507.3H522.9V51.4H538.6V42.0"/><path d="M413.4 306.2V167.8H421.7H430.0V142.6H438.3V117.5H446.6H455.0H463.3V104.9H471.6H479.9H488.2H496.5H504.8V92.3H513.1V79.7H521.5H529.8V67.2H538.1H546.4H554.7H563.0V42.0"/><path d="M413.4 165.3H421.2V112.5H429.0V94.8H436.9H444.7H452.5H460.3H468.2H476.0H483.8V59.6H491.6H499.5H507.3H515.1V42.0"/><path d="M413.4 230.7H423.3H433.1V211.8H443.0V193.0H452.8H462.7V136.4H472.5H482.4H492.2H502.1V117.5H511.9H521.8V98.6H531.6H541.5H551.3H561.2V60.9H571.0H580.9H590.7H600.6H610.4H620.3H630.1H640.0H649.8V42.0"/><path d="M413.4 306.2V234.1H422.9V210.1H432.4H441.9V186.1H451.4H460.9H470.4V162.1H479.9V150.1H489.4V138.1H498.9H508.4V102.0H517.9H527.4H536.9H546.4H555.9V90.0H565.4H574.9H584.4V78.0H593.9H603.4V66.0H612.9H622.4H631.9H641.4V54.0H650.9H660.4V42.0"/><path d="M413.4 147.7H422.9H432.4V94.8H441.9V77.2H451.4H460.9H470.4H479.9H489.4V59.6H498.9H508.4V42.0H517.9"/><path d="M413.4 253.4H423.6V232.2H433.9V211.1H444.1V158.2H454.3V147.7H464.6V137.1H474.8V116.0H485.0H495.2H505.5V105.4H515.7H525.9H536.2V84.3H546.4H556.6H566.9H577.1V73.7H587.3V63.1H597.6H607.8H618.0H628.2V52.6H638.5H648.7H658.9V42.0"/><path d="M413.4 306.2V167.1H422.3V139.3H431.1V125.4H440.0H448.9V97.6H457.7V83.7H466.6H475.5H484.3H493.2V69.8H502.1H510.9V55.9H519.8H528.7H537.5H546.4H555.3V42.0"/><path d="M413.4 306.2V142.2H424.5V114.9H435.6V105.8H446.6H457.7V96.7H468.8H479.9V87.6H491.0V78.4H502.1V60.2H513.1H524.2H535.3H546.4V51.1H557.5H568.6H579.6V42.0"/><path d="M413.4 221.7H432.4V147.7H451.4H470.4V126.5H489.4V116.0H508.4V105.4H527.4V94.8H546.4V84.3H565.4V73.7H584.4V63.1H603.4H622.4V52.6H641.4H660.4V42.0"/><path d="M413.4 306.2V186.1H426.7H440.0V138.1H453.3V114.1H466.6H479.9V98.0H493.2H506.5H519.8V90.0H533.1V82.0H546.4V74.0H559.7H573.0V66.0H586.3H599.6V58.0H612.9H626.2H639.5V50.0H652.8V42.0"/><path d="M413.4 141.1H428.2V116.3H443.0V91.5H457.7V83.3H472.5V58.5H487.3V50.3H502.1H516.8H531.6V42.0"/><path d="M413.4 237.7H424.5V218.1H435.6V208.3H446.6V179.0H457.7H468.8V169.2H479.9V159.4H491.0V149.6H502.1V120.3H513.1H524.2V100.7H535.3H546.4V90.9H557.5H568.6V81.1H579.6H590.7V71.4H601.8H612.9V61.6H624.0H635.1H646.1V51.8H657.2H668.3V42.0"/><path d="M413.4 306.2V165.3H426.1V147.7H438.7H451.4V112.5H464.1H476.7V94.8H489.4H502.1H514.7H527.4V77.2H540.1H552.7V59.6H565.4H578.1H590.7H603.4H616.1V42.0"/><path d="M413.4 306.2V79.7H427.4H441.4V67.2H455.4V42.0H469.4H483.4"/><path d="M413.4 141.1H421.5H429.5V119.1H437.6H445.6H453.7V75.0H461.8H469.8H477.9H485.9H494.0V53.0H502.1H510.1H518.2H526.2H534.3H542.4V42.0"/><path d="M413.4 166.3H421.7H430.0V104.2H438.3H446.6H455.0V88.6H463.3H471.6H479.9H488.2H496.5V73.1H504.8H513.1H521.5V42.0"/><path d="M413.4 155.2H421.7V117.5H430.0V60.9H438.3H446.6H455.0H463.3H471.6H479.9V42.0"/><path d="M413.4 136.4H421.7H430.0H438.3V117.5H446.6H455.0V98.6H463.3H471.6V79.7H479.9H488.2H496.5V60.9H504.8H513.1H521.5H529.8H538.1V42.0"/><path d="M413.4 51.4H422.3H431.1V42.0"/><path d="M413.4 270.2H427.4H441.4V210.1H455.4V186.1H469.4H483.4V162.1H497.4H511.4H525.4V126.1H539.4H553.4V102.0H567.4H581.4V90.0H595.4H609.4V78.0H623.4V66.0H637.4H651.4V54.0H665.4V42.0"/><path d="M413.4 218.1H424.0H434.7V174.1H445.3H456.0V130.1H466.6H477.2H487.9V115.4H498.5H509.2H519.8H530.4V100.7H541.1H551.7V71.4H562.4H573.0H583.6H594.3H604.9H615.6H626.2V56.7H636.8V42.0"/><path d="M413.4 135.2H425.5H437.6V127.5H449.7V88.6H461.8H473.9H485.9V73.1H498.0V42.0"/></g>
<g fill="none" stroke="#35a2ad" stroke-opacity="0.055" stroke-width="0.7"><path d="M413.4 222.1H426.7V210.1H440.0V162.1H453.3H466.6V150.1H479.9V138.1H493.2V114.1H506.5H519.8H533.1H546.4V102.0H559.7V90.0H573.0H586.3V78.0H599.6V66.0H612.9H626.2H639.5V54.0H652.8V42.0H666.1"/><path d="M413.4 206.0H432.4V151.3H451.4V124.0H470.4H489.4V87.6H508.4H527.4H546.4V78.4H565.4V69.3H584.4V60.2H603.4H622.4V51.1H641.4H660.4V42.0"/><path d="M413.4 218.1H427.4V165.3H441.4V156.5H455.4V138.9H469.4H483.4V121.3H497.4H511.4V94.8H525.4V77.2H539.4H553.4H567.4H581.4V68.4H595.4H609.4V50.8H623.4H637.4H651.4V42.0"/><path d="M413.4 118.7H425.5H437.6V110.2H449.7V67.6H461.8H473.9V59.0H485.9V42.0"/><path d="M413.4 247.5H430.0V174.1H446.6V130.1H463.3V115.4H479.9H496.5V100.7H513.1H529.8V86.0H546.4H563.0H579.6V71.4H596.3V56.7H612.9H629.5H646.1H662.8V42.0"/><path d="M413.4 86.0H424.0V56.7H434.7V42.0"/><path d="M413.4 268.5H432.4V193.0H451.4V174.1H470.4V155.2H489.4H508.4H527.4V117.5H546.4V79.7H565.4H584.4V60.9H603.4H622.4H641.4V42.0"/><path d="M413.4 253.4H422.3V235.7H431.1V218.1H440.0H448.9V200.5H457.7V182.9H466.6V165.3H475.5H484.3V147.7H493.2H502.1H510.9H519.8V130.1H528.7H537.5H546.4V112.5H555.3H564.1H573.0V94.8H581.9V77.2H590.7H599.6H608.5H617.3H626.2V59.6H635.1H643.9H652.8V42.0"/><path d="M413.4 94.8H424.0H434.7H445.3H456.0V81.6H466.6V68.4H477.2H487.9V55.2H498.5H509.2H519.8V42.0"/><path d="M413.4 306.2V218.1H425.5V208.3H437.6V169.2H449.7V130.1H461.8V120.3H473.9H485.9V110.5H498.0V100.7H510.1V90.9H522.2V81.1H534.3V71.4H546.4H558.5V61.6H570.6V51.8H582.7H594.8V42.0"/><path d="M413.4 223.6H425.5H437.6V174.1H449.7V165.8H461.8V132.8H473.9V124.6H485.9H498.0H510.1H522.2V116.3H534.3V99.8H546.4V83.3H558.5H570.6V75.0H582.7H594.8H606.9V66.8H618.9H631.0V58.5H643.1H655.2V50.3H667.3V42.0"/><path d="M413.4 155.2H422.9V145.8H432.4V108.1H441.9H451.4V98.6H460.9H470.4V79.7H479.9V60.9H489.4H498.9V51.4H508.4H517.9H527.4H536.9V42.0"/><path d="M413.4 168.4H426.7V122.4H440.0V110.9H453.3V99.4H466.6H479.9V87.9H493.2V65.0H506.5H519.8H533.1V53.5H546.4V42.0"/><path d="M413.4 275.1H421.2V251.8H429.0V213.0H436.9V205.2H444.7V197.4H452.5V181.9H460.3H468.2H476.0V150.8H483.8V135.2H491.6H499.5H507.3V127.5H515.1H522.9H530.8V111.9H538.6H546.4H554.2H562.0V96.4H569.9V88.6H577.7H585.5V73.1H593.3H601.2H609.0V65.3H616.8H624.6H632.5H640.3H648.1V49.8H655.9H663.8H671.6V42.0"/><path d="M413.4 119.1H422.0H430.6V108.1H439.1V86.0H447.7V75.0H456.3H464.9V64.0H473.5H482.0V42.0"/><path d="M413.4 306.2V210.1H427.4H441.4V174.1H455.4V162.1H469.4H483.4V150.1H497.4V114.1H511.4H525.4H539.4V102.0H553.4V90.0H567.4V78.0H581.4H595.4H609.4V54.0H623.4H637.4H651.4V42.0"/><path d="M413.4 306.2V207.1H423.3H433.1V157.6H443.0H452.8V124.6H462.7H472.5H482.4H492.2H502.1H511.9H521.8V108.1H531.6V91.5H541.5H551.3H561.2H571.0V75.0H580.9H590.7V58.5H600.6H610.4H620.3H630.1H640.0H649.8H659.7V42.0"/><path d="M413.4 174.1H423.6V136.4H433.9H444.1H454.3V98.6H464.6H474.8H485.0V79.7H495.2H505.5H515.7H525.9V60.9H536.2H546.4H556.6H566.9V42.0H577.1"/><path d="M413.4 120.3H425.5H437.6V71.4H449.7V61.6H461.8H473.9H485.9H498.0H510.1V42.0H522.2"/><path d="M413.4 119.1H426.1V97.0H438.7H451.4V75.0H464.1H476.7H489.4V64.0H502.1V53.0H514.7H527.4V42.0H540.1"/><path d="M413.4 96.4H421.2V49.8H429.0V42.0H436.9"/><path d="M413.4 279.8H425.0V253.4H436.5V209.3H448.1V182.9H459.7V174.1H471.2V138.9H482.8V121.3H494.4H505.9V103.6H517.5H529.1H540.6H552.2V77.2H563.7H575.3V68.4H586.9H598.4H610.0V59.6H621.6H633.1V50.8H644.7H656.3H667.8V42.0"/><path d="M413.4 147.7H427.4V130.1H441.4H455.4V77.2H469.4H483.4H497.4H511.4H525.4H539.4V59.6H553.4H567.4H581.4V42.0H595.4H609.4"/><path d="M413.4 127.5H423.6V111.9H433.9V88.6H444.1V80.9H454.3H464.6V65.3H474.8H485.0H495.2V42.0"/><path d="M413.4 306.2V268.5H425.0H436.5V218.1H448.1V193.0H459.7V180.4H471.2H482.8H494.4V167.8H505.9V130.1H517.5H529.1H540.6V117.5H552.2H563.7V104.9H575.3V92.3H586.9V79.7H598.4H610.0H621.6H633.1V67.2H644.7V54.6H656.3H667.8V42.0"/><path d="M413.4 218.1H422.9H432.4V165.3H441.9V130.1H451.4H460.9H470.4H479.9V112.5H489.4H498.9H508.4H517.9H527.4V94.8H536.9V77.2H546.4H555.9H565.4H574.9V59.6H584.4H593.9H603.4H612.9H622.4H631.9H641.4V42.0H650.9H660.4"/></g>
<line x1="413.4" y1="306.2" x2="413.4" y2="108.1" stroke="#8a8560" stroke-opacity="0.3" stroke-width="0.8"/>
<line x1="416" y1="174.0" x2="480" y2="174.0" stroke="#7a6a55" stroke-opacity="0.09" stroke-width="1.6"/>
<line x1="500" y1="42.6" x2="679" y2="42.6" stroke="#7a6a55" stroke-opacity="0.1" stroke-width="1.6"/>
<linearGradient id="vgTR0" x1="0" y1="0" x2="0" y2="1"><stop offset="0" stop-color="#7a6a55" stop-opacity="0.080"/><stop offset="0.2" stop-color="#7a6a55" stop-opacity="0.16"/><stop offset="0.65" stop-color="#7a6a55" stop-opacity="0.16"/><stop offset="1" stop-color="#7a6a55" stop-opacity="0"/></linearGradient>
<rect x="426.60" y="95" width="2.4" height="155" fill="url(#vgTR0)"/>
<polygon points="413.4,306.2 416.1,120.3 425.6,120.3 427.8,95.4 431.4,93.0 436.2,90.2 441.1,85.4 445.1,79.8 450.7,76.5 457.1,72.5 465.1,67.7 473.2,64.5 481.2,60.5 489.2,57.3 497.3,53.3 505.3,50.0 513.3,47.6 521.4,44.4 525.4,42.8 527.5,42.0 679.4,42.0 679.4,42.0 677.7,42.3 670.0,44.1 663.9,44.9 659.3,46.4 651.6,48.0 648.6,50.3 644.0,53.3 636.3,55.6 628.6,57.9 621.0,61.0 613.3,62.5 605.7,64.8 598.0,67.1 590.3,70.2 582.7,72.5 575.9,76.4 570.1,80.4 564.2,83.4 558.4,85.1 552.6,88.6 546.7,91.5 540.9,94.5 535.0,97.4 529.2,100.3 523.4,104.4 517.5,109.0 511.7,113.1 505.8,116.1 500.0,121.0 496.5,123.8 491.8,128.5 487.1,130.8 482.4,134.1 477.7,137.0 473.0,140.2 468.2,143.5 463.5,147.8 458.8,150.6 454.1,155.8 449.4,161.4 444.7,166.1 441.9,172.7 437.7,180.6 432.6,185.7 428.9,190.7 427.1,200.8 425.6,223.5 416.1,223.5 413.4,306.2" fill="#808080" fill-opacity="0.36" stroke="none"/>
<line x1="413.4" y1="306.2" x2="679.4" y2="42.0" stroke="#ff5a5a" stroke-width="1.2" stroke-dasharray="2.8 1.505" stroke-dashoffset="0.3"/>
<polyline points="413.4,306.2 416.1,171.8 423.8,171.8 425.6,166.8 427.6,153.0 429.6,142.9 432.6,138.4 436.4,136.6 440.2,131.6 444.0,124.0 450.3,117.7 457.8,111.4 465.3,107.7 472.9,102.6 480.4,98.1 489.2,93.4 492.9,92.1 500.0,86.9 507.0,82.2 511.7,80.4 517.5,77.5 523.4,73.4 529.2,71.1 533.9,68.8 538.5,67.9 542.0,66.8 545.0,66.4 547.9,64.1 552.6,62.9 556.1,61.4 563.1,60.0 575.0,56.4 582.7,54.9 590.3,52.6 598.0,51.0 605.7,49.5 613.3,48.0 621.0,46.9 628.6,45.7 636.3,44.9 644.0,43.8 651.6,42.9 659.3,42.3 679.4,42.0" fill="none" stroke="#4a4aea" stroke-width="1.15" stroke-linejoin="round"/>
</g>
<rect x="410.4" y="39.6" width="272.0" height="269.1" fill="none" stroke="#a4a4a4" stroke-width="1.25"/>
<line x1="413.4" y1="308.7" x2="413.4" y2="310.5" stroke="#777" stroke-width="0.8"/>
<line x1="408.6" y1="306.2" x2="410.4" y2="306.2" stroke="#777" stroke-width="0.8"/>
<text x="413.4" y="316.9" font-size="7.6" fill="#222" stroke="#222" stroke-width="0.22" text-anchor="middle" textLength="9.6" lengthAdjust="spacingAndGlyphs">0.0</text>
<text x="397.5" y="308.9" font-size="7.6" fill="#222" stroke="#222" stroke-width="0.22" textLength="9.6" lengthAdjust="spacingAndGlyphs">0.0</text>
<line x1="466.6" y1="308.7" x2="466.6" y2="310.5" stroke="#777" stroke-width="0.8"/>
<line x1="408.6" y1="253.4" x2="410.4" y2="253.4" stroke="#777" stroke-width="0.8"/>
<text x="466.6" y="316.9" font-size="7.6" fill="#222" stroke="#222" stroke-width="0.22" text-anchor="middle" textLength="9.6" lengthAdjust="spacingAndGlyphs">0.2</text>
<text x="397.5" y="256.1" font-size="7.6" fill="#222" stroke="#222" stroke-width="0.22" textLength="9.6" lengthAdjust="spacingAndGlyphs">0.2</text>
<line x1="519.8" y1="308.7" x2="519.8" y2="310.5" stroke="#777" stroke-width="0.8"/>
<line x1="408.6" y1="200.5" x2="410.4" y2="200.5" stroke="#777" stroke-width="0.8"/>
<text x="519.8" y="316.9" font-size="7.6" fill="#222" stroke="#222" stroke-width="0.22" text-anchor="middle" textLength="9.6" lengthAdjust="spacingAndGlyphs">0.4</text>
<text x="397.5" y="203.2" font-size="7.6" fill="#222" stroke="#222" stroke-width="0.22" textLength="9.6" lengthAdjust="spacingAndGlyphs">0.4</text>
<line x1="573.0" y1="308.7" x2="573.0" y2="310.5" stroke="#777" stroke-width="0.8"/>
<line x1="408.6" y1="147.7" x2="410.4" y2="147.7" stroke="#777" stroke-width="0.8"/>
<text x="573.0" y="316.9" font-size="7.6" fill="#222" stroke="#222" stroke-width="0.22" text-anchor="middle" textLength="9.6" lengthAdjust="spacingAndGlyphs">0.6</text>
<text x="397.5" y="150.4" font-size="7.6" fill="#222" stroke="#222" stroke-width="0.22" textLength="9.6" lengthAdjust="spacingAndGlyphs">0.6</text>
<line x1="626.2" y1="308.7" x2="626.2" y2="310.5" stroke="#777" stroke-width="0.8"/>
<line x1="408.6" y1="94.8" x2="410.4" y2="94.8" stroke="#777" stroke-width="0.8"/>
<text x="626.2" y="316.9" font-size="7.6" fill="#222" stroke="#222" stroke-width="0.22" text-anchor="middle" textLength="9.6" lengthAdjust="spacingAndGlyphs">0.8</text>
<text x="397.5" y="97.5" font-size="7.6" fill="#222" stroke="#222" stroke-width="0.22" textLength="9.6" lengthAdjust="spacingAndGlyphs">0.8</text>
<line x1="679.4" y1="308.7" x2="679.4" y2="310.5" stroke="#777" stroke-width="0.8"/>
<line x1="408.6" y1="42.0" x2="410.4" y2="42.0" stroke="#777" stroke-width="0.8"/>
<text x="679.4" y="316.9" font-size="7.6" fill="#222" stroke="#222" stroke-width="0.22" text-anchor="middle" textLength="9.6" lengthAdjust="spacingAndGlyphs">1.0</text>
<text x="397.5" y="44.7" font-size="7.6" fill="#222" stroke="#222" stroke-width="0.22" textLength="9.6" lengthAdjust="spacingAndGlyphs">1.0</text>
<text x="505.2" y="326.5" font-size="9.6" fill="#222" stroke="#222" stroke-width="0.22" textLength="82.4" lengthAdjust="spacingAndGlyphs">False Positive Rate</text>
<text transform="translate(393.5,213.8) rotate(-90)" x="0" y="0" font-size="9.6" fill="#222" stroke="#222" stroke-width="0.22" textLength="79" lengthAdjust="spacingAndGlyphs">True Positive Rate</text>
<rect x="505.3" y="275.6" width="172.8" height="29.1" rx="1.8" fill="#ffffff" fill-opacity="0.88" stroke="#d8d8d8" stroke-width="0.9"/>
<line x1="507.7" y1="283.2" x2="526.6" y2="283.2" stroke="#6a6af6" stroke-width="1.1"/>
<rect x="507.7" y="292.6" width="18.9" height="6.6" fill="#808080" fill-opacity="0.36"/>
<text x="533.8" y="286.3" font-size="9.8" fill="#222" stroke="#222" stroke-width="0.22" textLength="140.7" lengthAdjust="spacingAndGlyphs">Mean ROC (AUC = 0.86 ± 0.08)</text>
<text x="533.8" y="298.5" font-size="9.8" fill="#222" stroke="#222" stroke-width="0.22" textLength="56.8" lengthAdjust="spacingAndGlyphs">± 1 std. dev.</text>
<clipPath id="clipBL"><rect x="75.8" y="349.5" width="271.6" height="269.3"/></clipPath>
<g clip-path="url(#clipBL)">
<g fill="none" stroke="#3a739b" stroke-opacity="0.055" stroke-width="0.7"><path d="M78.4 528.1H89.1H99.7H110.4V504.1H121.0V472.0H131.7H142.3V448.0H153.0V440.0H163.6H174.3V416.0H185.0V392.0H195.6H206.3H216.9H227.6V376.0H238.2H248.9H259.6V368.0H270.2H280.9H291.5H302.2H312.8H323.5H334.1V352.0"/><path d="M78.4 574.4H86.7V560.5H95.1V532.7H103.4V518.8H111.7H120.0H128.3H136.7H145.0V477.1H153.3V463.2H161.7V449.3H170.0H178.3V435.4H186.6H194.9V421.5H203.3V407.6H211.6H219.9V393.7H228.2H236.6H244.9H253.2V379.8H261.5H269.9H278.2V365.9H286.5H294.9H303.2H311.5H319.8H328.1H336.5"/><path d="M78.4 528.1H91.7H105.0V513.4H118.4H131.7H145.0H158.3V498.7H171.6V469.4H185.0V454.7H198.3V425.4H211.6H224.9V396.0H238.2H251.6H264.9H278.2V381.3H291.5H304.8V366.7H318.2H331.5"/><path d="M78.4 559.5H87.0H95.6V540.6H104.2V521.8H112.8V502.9H121.4H130.0V484.1H138.6H147.1H155.7V446.3H164.3H172.9H181.5V427.5H190.1H198.7V408.6H207.3H215.9V389.7H224.5H233.1H241.7H250.3H258.9H267.5H276.1H284.6H293.2V370.9H301.8H310.4H319.0H327.6H336.2"/><path d="M78.4 616.1H86.5H94.5V585.6H102.6H110.7V575.5H118.8H126.8V565.3H134.9H143.0H151.1V534.8H159.1H167.2H175.3V514.5H183.3V504.4H191.4V494.2H199.5H207.6V484.1H215.6V463.7H223.7H231.8H239.9V453.6H247.9V443.4H256.0V433.3H264.1V423.1H272.1V412.9H280.2H288.3H296.4V402.8H304.4V392.6H312.5V382.5H320.6H328.7V372.3H336.7H344.8V352.0"/><path d="M78.4 514.5H92.4H106.4V484.1H120.5V443.4H134.5V423.1H148.5V402.8H162.5H176.5V392.6H190.6V372.3H204.6H218.6H232.6V352.0"/><path d="M78.4 616.1V535.7H94.1V501.3H109.7H125.4H141.1V489.8H156.8V443.9H172.4V432.4H188.1V409.4H203.8V397.9H219.4H235.1H250.8V375.0H266.4V363.5H282.1H297.8H313.5H329.1"/><path d="M78.4 616.1H92.4V604.1H106.4V592.1H120.5V568.1H134.5H148.5V532.1H162.5H176.5V508.1H190.6V496.1H204.6V484.1H218.6H232.6V448.0H246.7V436.0H260.7H274.7V412.0H288.7H302.7H316.8V388.0H330.8V376.0"/><path d="M78.4 616.1V557.4H87.6H96.8H106.0V542.7H115.1H124.3H133.5V513.4H142.7H151.9V498.7H161.1V454.7H170.3H179.4V440.0H188.6H197.8H207.0V425.4H216.2H225.4V410.7H234.6H243.8V381.3H252.9H262.1H271.3H280.5H289.7H298.9H308.1H317.2V366.7H326.4H335.6"/><path d="M78.4 510.5H89.5V492.9H100.6V475.2H111.7V457.6H122.8H133.9V422.4H145.0V404.8H156.1H167.2V387.2H178.3H189.4V369.6H200.5V352.0"/><path d="M78.4 518.8H86.7H95.1H103.4H111.7V491.0H120.0V477.1H128.3V463.2H136.7H145.0V435.4H153.3H161.7V421.5H170.0H178.3V407.6H186.6V379.8H194.9H203.3H211.6H219.9H228.2H236.6H244.9H253.2V365.9H261.5H269.9H278.2H286.5H294.9H303.2H311.5H319.8H328.1V352.0"/><path d="M78.4 616.1V504.1H89.1H99.7V464.0H110.4H121.0V432.0H131.7V424.0H142.3V400.0H153.0H163.6V392.0H174.3V368.0H185.0H195.6V360.0H206.3H216.9H227.6H238.2H248.9H259.6H270.2H280.9V352.0"/><path d="M78.4 616.1V542.7H89.1H99.7V528.1H110.4V498.7H121.0V484.1H131.7H142.3V454.7H153.0V440.0H163.6H174.3H185.0V425.4H195.6V410.7H206.3V381.3H216.9H227.6H238.2H248.9H259.6H270.2V366.7H280.9H291.5H302.2H312.8H323.5H334.1V352.0"/><path d="M78.4 553.2H94.1V540.6H109.7V490.3H125.4H141.1V465.2H156.8V440.0H172.4V427.5H188.1H203.8H219.4V402.3H235.1V389.7H250.8H266.4V377.2H282.1V364.6H297.8H313.5H329.1"/><path d="M78.4 528.1H89.5H100.6H111.7H122.8H133.9V512.1H145.0V488.1H156.1V472.0H167.2H178.3V464.0H189.4V456.0H200.5V448.0H211.6V424.0H222.7H233.8V408.0H244.9V400.0H256.0V392.0H267.1H278.2H289.3V384.0H300.4H311.5V368.0H322.6H333.7V360.0"/><path d="M78.4 544.1H89.1H99.7V520.1H110.4H121.0V484.1H131.7V472.0H142.3H153.0V436.0H163.6H174.3H185.0H195.6V400.0H206.3H216.9V388.0H227.6H238.2H248.9H259.6V364.0H270.2H280.9H291.5H302.2H312.8H323.5H334.1"/><path d="M78.4 616.1H86.2V597.2H94.1V578.4H101.9V559.5H109.7H117.6H125.4H133.2H141.1V521.8H148.9H156.8H164.6V502.9H172.4V484.1H180.3H188.1H195.9V446.3H203.8H211.6H219.4H227.3V427.5H235.1H242.9V408.6H250.8H258.6H266.4H274.3H282.1H290.0H297.8V389.7H305.6H313.5H321.3V370.9H329.1H337.0"/><path d="M78.4 547.9H87.6V505.3H96.8H106.0V488.3H115.1H124.3V454.2H133.5H142.7V445.7H151.9V428.7H161.1H170.3V403.1H179.4H188.6H197.8V369.0H207.0H216.2H225.4H234.6H243.8H252.9H262.1H271.3V360.5H280.5H289.7H298.9H308.1H317.2H326.4H335.6"/><path d="M78.4 517.1H87.0H95.6V500.6H104.2H112.8H121.4V467.5H130.0H138.6H147.1V418.0H155.7V401.5H164.3H172.9H181.5V385.0H190.1H198.7H207.3H215.9H224.5H233.1V352.0"/><path d="M78.4 515.5H89.5H100.6V502.9H111.7V490.3H122.8V477.8H133.9H145.0V427.5H156.1H167.2V414.9H178.3V402.3H189.4H200.5V377.2H211.6V364.6H222.7H233.8H244.9H256.0H267.1H278.2H289.3V352.0H300.4"/><path d="M78.4 471.3H94.1V445.7H109.7H125.4V360.5H141.1H156.8H172.4V352.0"/><path d="M78.4 504.9H97.4H116.5V435.4H135.5V421.5H154.5H173.5H192.6V365.9H211.6H230.6H249.7H268.7V352.0"/><path d="M78.4 570.6H94.1V506.8H109.7H125.4V497.7H141.1V488.6H156.8V452.2H172.4H188.1V424.9H203.8V397.5H219.4H235.1V388.4H250.8V370.2H266.4H282.1H297.8H313.5V361.1H329.1"/><path d="M78.4 535.7H92.4H106.4H120.5V478.3H134.5H148.5H162.5V455.3H176.5V432.4H190.6V420.9H204.6V409.4H218.6V386.4H232.6H246.7H260.7H274.7V375.0H288.7H302.7H316.8V363.5H330.8"/><path d="M78.4 508.5H86.2H94.1V488.9H101.9V479.2H109.7V469.4H117.6V440.0H125.4H133.2V430.3H141.1H148.9V420.5H156.8V381.3H164.6V361.8H172.4H180.3V352.0H188.1"/><path d="M78.4 557.4H89.5V528.1H100.6H111.7H122.8V498.7H133.9V469.4H145.0V454.7H156.1H167.2H178.3H189.4V440.0H200.5V410.7H211.6V396.0H222.7H233.8H244.9V381.3H256.0H267.1V366.7H278.2H289.3H300.4H311.5H322.6H333.7V352.0"/></g>
<g fill="none" stroke="#cc792f" stroke-opacity="0.055" stroke-width="0.7"><path d="M78.4 590.5H89.5V573.5H100.6V556.5H111.7V539.4H122.8V522.4H133.9V488.3H145.0H156.1H167.2V445.7H178.3H189.4H200.5V411.6H211.6H222.7H233.8V403.1H244.9V394.6H256.0V386.1H267.1V377.6H278.2H289.3H300.4H311.5H322.6H333.7V360.5"/><path d="M78.4 597.2H87.6V559.5H96.8H106.0H115.1V540.6H124.3V502.9H133.5H142.7H151.9H161.1V484.1H170.3H179.4V465.2H188.6V446.3H197.8H207.0V408.6H216.2H225.4H234.6H243.8H252.9V389.7H262.1H271.3H280.5H289.7V370.9H298.9H308.1H317.2H326.4H335.6"/><path d="M78.4 616.1V577.0H95.1V528.1H111.7H128.3V469.4H145.0H161.7H178.3V440.0H194.9V430.3H211.6V410.7H228.2V391.1H244.9H261.5V381.3H278.2H294.9V371.6H311.5H328.1V361.8H344.8V352.0"/><path d="M78.4 525.0H92.4H106.4V515.9H120.5H134.5V497.7H148.5H162.5V470.4H176.5V443.1H190.6V424.9H204.6V397.5H218.6H232.6V379.3H246.7H260.7H274.7V370.2H288.7H302.7H316.8H330.8V361.1"/><path d="M78.4 578.4H88.6H98.9V540.6H109.1V521.8H119.4H129.6V502.9H139.9H150.1H160.4V418.0H170.6H180.9H191.1H201.4H211.6V399.2H221.8H232.1V389.7H242.3V380.3H252.6H262.8H273.1H283.3H293.6V370.9H303.8H314.1H324.3H334.6V352.0"/><path d="M78.4 616.1H86.7V597.2H95.1H103.4H111.7V578.4H120.0H128.3H136.7V559.5H145.0H153.3V540.6H161.7H170.0V521.8H178.3V502.9H186.6H194.9H203.3H211.6V465.2H219.9V446.3H228.2H236.6H244.9V427.5H253.2H261.5H269.9H278.2V408.6H286.5H294.9V389.7H303.2H311.5H319.8H328.1V370.9H336.5H344.8V352.0"/><path d="M78.4 546.6H97.4V504.9H116.5V491.0H135.5V449.3H154.5H173.5V435.4H192.6V407.6H211.6V393.7H230.6H249.7V379.8H268.7V365.9H287.7H306.7H325.8"/><path d="M78.4 616.1V583.1H86.2V572.1H94.1V561.1H101.9H109.7H117.6V539.1H125.4V528.1H133.2V506.1H141.1H148.9V484.1H156.8H164.6H172.4V473.0H180.3H188.1V440.0H195.9H203.8H211.6V418.0H219.4H227.3H235.1H242.9V407.0H250.8V396.0H258.6H266.4V385.0H274.3H282.1H290.0H297.8H305.6V374.0H313.5H321.3H329.1V363.0H337.0"/><path d="M78.4 600.1H89.5V584.1H100.6H111.7V568.1H122.8V552.1H133.9V544.1H145.0H156.1V528.1H167.2V480.0H178.3V472.0H189.4H200.5V456.0H211.6V424.0H222.7H233.8H244.9V400.0H256.0H267.1H278.2H289.3V392.0H300.4V384.0H311.5H322.6H333.7V368.0"/><path d="M78.4 508.1H94.1H109.7V496.1H125.4V436.0H141.1H156.8V424.0H172.4V400.0H188.1H203.8V376.0H219.4H235.1H250.8V364.0H266.4H282.1V352.0H297.8"/><path d="M78.4 524.7H90.5H102.6V494.2H114.7V463.7H126.8H138.9V433.3H151.1V412.9H163.2H175.3H187.4V372.3H199.5H211.6H223.7H235.8H247.9H260.0H272.1H284.3V362.2H296.4H308.5H320.6V352.0H332.7"/><path d="M78.4 608.3H88.6V592.8H98.9V554.0H109.1H119.4H129.6H139.9H150.1V546.2H160.4V530.7H170.6V507.4H180.9V499.6H191.1V484.1H201.4H211.6V460.7H221.8V429.7H232.1H242.3V421.9H252.6V414.1H262.8H273.1V406.4H283.3V390.8H293.6V383.1H303.8H314.1H324.3V375.3H334.6V367.5"/><path d="M78.4 616.1V536.9H88.3H98.1H108.0H117.9H127.7V510.5H137.6H147.5V484.1H157.3H167.2V457.6H177.1H186.9V418.0H196.8H206.7H216.5V404.8H226.4H236.3V391.6H246.1H256.0H265.9V378.4H275.7H285.6H295.5H305.3H315.2V365.2H325.1H334.9"/><path d="M78.4 616.1H94.1V597.2H109.7V578.4H125.4H141.1V559.5H156.8V540.6H172.4V521.8H188.1V502.9H203.8V484.1H219.4H235.1V446.3H250.8V427.5H266.4H282.1V408.6H297.8H313.5V389.7H329.1V370.9"/><path d="M78.4 544.1H89.5V520.1H100.6V496.1H111.7H122.8V472.0H133.9H145.0V460.0H156.1H167.2V424.0H178.3H189.4V400.0H200.5H211.6V388.0H222.7H233.8V364.0H244.9H256.0H267.1H278.2H289.3H300.4H311.5V352.0H322.6"/><path d="M78.4 616.1V528.1H86.2V506.1H94.1V495.1H101.9H109.7V473.0H117.6H125.4V451.0H133.2H141.1V440.0H148.9V418.0H156.8H164.6V385.0H172.4H180.3H188.1H195.9H203.8V374.0H211.6H219.4H227.3H235.1H242.9H250.8H258.6V363.0H266.4H274.3H282.1H290.0H297.8H305.6H313.5H321.3V352.0"/><path d="M78.4 539.1H89.5V528.1H100.6H111.7V506.1H122.8V473.0H133.9V462.0H145.0V451.0H156.1V429.0H167.2H178.3H189.4H200.5V407.0H211.6V385.0H222.7H233.8H244.9V374.0H256.0H267.1H278.2V363.0H289.3H300.4H311.5H322.6H333.7V352.0"/><path d="M78.4 521.8H97.4H116.5V493.5H135.5V455.8H154.5H173.5V446.3H192.6V427.5H211.6V408.6H230.6V389.7H249.7H268.7V361.4H287.7H306.7H325.8"/><path d="M78.4 534.1H96.2V506.8H113.9V479.5H131.7H149.4H167.2V406.6H185.0H202.7V388.4H220.5H238.2V379.3H256.0H273.8V361.1H291.5H309.3V352.0"/><path d="M78.4 572.1H88.3H98.1V545.7H108.0H117.9V536.9H127.7V484.1H137.6H147.5H157.3H167.2V466.4H177.1V457.6H186.9V431.2H196.8V422.4H206.7H216.5H226.4H236.3V413.6H246.1H256.0V387.2H265.9H275.7H285.6V378.4H295.5H305.3V369.6H315.2H325.1H334.9H344.8V352.0"/><path d="M78.4 542.7H87.9H97.4H106.9V498.7H116.5H126.0H135.5H145.0V484.1H154.5H164.0V440.0H173.5V425.4H183.1V410.7H192.6H202.1V396.0H211.6V381.3H221.1H230.6H240.1H249.7H259.2V366.7H268.7H278.2H287.7V352.0"/><path d="M78.4 550.1H87.3V525.3H96.2H105.0V517.1H113.9V484.1H122.8V467.5H131.7H140.6V451.0H149.4H158.3V442.8H167.2H176.1V434.5H185.0V393.3H193.8H202.7H211.6H220.5H229.4V385.0H238.2H247.1V368.5H256.0H264.9H273.8H282.6H291.5H300.4H309.3H318.2V360.3H327.0H335.9V352.0"/><path d="M78.4 603.5H95.1V578.4H111.7V565.8H128.3V553.2H145.0V540.6H161.7H178.3V502.9H194.9V452.6H211.6V440.0H228.2H244.9V427.5H261.5V402.3H278.2H294.9V389.7H311.5H328.1V377.2"/><path d="M78.4 616.1V545.7H89.5H100.6H111.7V492.9H122.8H133.9H145.0H156.1V466.4H167.2V448.8H178.3V431.2H189.4V422.4H200.5V404.8H211.6H222.7V396.0H233.8H244.9H256.0V387.2H267.1H278.2V378.4H289.3H300.4V369.6H311.5H322.6H333.7V360.8"/><path d="M78.4 515.5H92.4H106.4V465.2H120.5H134.5H148.5V427.5H162.5H176.5V389.7H190.6H204.6H218.6V377.2H232.6V364.6H246.7H260.7V352.0H274.7"/><path d="M78.4 539.1H87.6H96.8V528.1H106.0V517.1H115.1V473.0H124.3H133.5V462.0H142.7H151.9V440.0H161.1V418.0H170.3H179.4V374.0H188.6H197.8H207.0H216.2H225.4H234.6H243.8H252.9H262.1V363.0H271.3H280.5H289.7H298.9H308.1H317.2V352.0H326.4H335.6"/></g>
<g fill="none" stroke="#438e43" stroke-opacity="0.055" stroke-width="0.7"><path d="M78.4 616.1V558.7H87.3H96.2H105.0H113.9H122.8H131.7V547.2H140.6V524.2H149.4V512.8H158.3V501.3H167.2V478.3H176.1H185.0V455.3H193.8H202.7V432.4H211.6H220.5H229.4V420.9H238.2H247.1V409.4H256.0H264.9V397.9H273.8H282.6H291.5V386.4H300.4H309.3V375.0H318.2H327.0H335.9V363.5"/><path d="M78.4 595.8H86.5V585.6H94.5H102.6V565.3H110.7H118.8V545.0H126.8V534.8H134.9V524.7H143.0H151.1V514.5H159.1H167.2V484.1H175.3H183.3V463.7H191.4H199.5H207.6V443.4H215.6H223.7V423.1H231.8H239.9V412.9H247.9H256.0H264.1H272.1V392.6H280.2H288.3V382.5H296.4H304.4H312.5H320.6V372.3H328.7H336.7V362.2"/><path d="M78.4 561.1H87.9H97.4V539.1H106.9H116.5V528.1H126.0V517.1H135.5V473.0H145.0H154.5H164.0V451.0H173.5H183.1H192.6V440.0H202.1V429.0H211.6V407.0H221.1H230.6H240.1V385.0H249.7H259.2H268.7H278.2H287.7V374.0H297.2H306.7H316.3V363.0H325.8H335.3V352.0"/><path d="M78.4 484.1H95.1H111.7V457.6H128.3V418.0H145.0V404.8H161.7H178.3H194.9V378.4H211.6V365.2H228.2V352.0H244.9"/><path d="M78.4 592.8H89.1H99.7V585.0H110.4V577.3H121.0V546.2H131.7H142.3H153.0V522.9H163.6H174.3V491.8H185.0V468.5H195.6H206.3H216.9V437.4H227.6H238.2V421.9H248.9V414.1H259.6H270.2V398.6H280.9V390.8H291.5H302.2H312.8V383.1H323.5V375.3H334.1V367.5"/><path d="M78.4 540.6H93.2V502.9H108.0H122.8H137.6V465.2H152.4V446.3H167.2V408.6H182.0H196.8H211.6H226.4V389.7H241.2V370.9H256.0H270.8H285.6H300.4H315.2V352.0"/><path d="M78.4 616.1V573.5H90.5V522.4H102.6V505.3H114.7H126.8V496.8H138.9V454.2H151.1H163.2H175.3V445.7H187.4V411.6H199.5H211.6V403.1H223.7V394.6H235.8H247.9V377.6H260.0H272.1H284.3V360.5H296.4H308.5H320.6H332.7"/><path d="M78.4 496.8H89.5H100.6V471.3H111.7H122.8V445.7H133.9H145.0V403.1H156.1V386.1H167.2V377.6H178.3V369.0H189.4H200.5H211.6H222.7H233.8V360.5H244.9H256.0V352.0"/><path d="M78.4 597.9H88.3H98.1V579.7H108.0V552.4H117.9V534.1H127.7H137.6V515.9H147.5V497.7H157.3V470.4H167.2H177.1H186.9H196.8V443.1H206.7V415.7H216.5H226.4H236.3H246.1H256.0V388.4H265.9H275.7H285.6H295.5V379.3H305.3H315.2H325.1V370.2H334.9"/><path d="M78.4 510.5H88.3V492.9H98.1H108.0H117.9V457.6H127.7H137.6H147.5V440.0H157.3V422.4H167.2H177.1H186.9V387.2H196.8H206.7H216.5V369.6H226.4H236.3H246.1H256.0H265.9H275.7H285.6H295.5H305.3V352.0"/><path d="M78.4 616.1V580.9H90.0H101.6V545.7H113.1V492.9H124.7H136.3H147.9V475.2H159.5V422.4H171.1H182.6H194.2V404.8H205.8H217.4H229.0H240.6V387.2H252.1H263.7H275.3H286.9H298.5H310.1V369.6H321.6H333.2"/><path d="M78.4 616.1V512.3H87.9H97.4H106.9V502.9H116.5H126.0V455.8H135.5H145.0H154.5H164.0V408.6H173.5H183.1H192.6H202.1V399.2H211.6H221.1V380.3H230.6H240.1H249.7V370.9H259.2H268.7H278.2H287.7H297.2V361.4H306.7H316.3H325.8H335.3V352.0"/><path d="M78.4 522.4H95.1V505.3H111.7V471.3H128.3V437.2H145.0H161.7V428.7H178.3V394.6H194.9H211.6V377.6H228.2V360.5H244.9H261.5V352.0"/><path d="M78.4 498.7H86.7H95.1V484.1H103.4H111.7V469.4H120.0V454.7H128.3H136.7V425.4H145.0H153.3H161.7V396.0H170.0H178.3V366.7H186.6H194.9H203.3H211.6V352.0"/><path d="M78.4 492.9H96.2V475.2H113.9V440.0H131.7H149.4V404.8H167.2V352.0"/><path d="M78.4 559.5H86.5H94.5V550.1H102.6V512.3H110.7H118.8H126.8H134.9V502.9H143.0H151.1V465.2H159.1V446.3H167.2H175.3H183.3V418.0H191.4H199.5V408.6H207.6H215.6H223.7V399.2H231.8H239.9V389.7H247.9V380.3H256.0H264.1H272.1H280.2H288.3V370.9H296.4H304.4H312.5H320.6H328.7V361.4H336.7"/><path d="M78.4 573.5H86.5H94.5H102.6V547.9H110.7V539.4H118.8H126.8V505.3H134.9H143.0H151.1V488.3H159.1H167.2V479.8H175.3H183.3V454.2H191.4V437.2H199.5H207.6V428.7H215.6V420.2H223.7H231.8V411.6H239.9V403.1H247.9H256.0V386.1H264.1H272.1H280.2H288.3H296.4V377.6H304.4H312.5V369.0H320.6H328.7H336.7V360.5H344.8V352.0"/><path d="M78.4 616.1V518.8H90.5V504.9H102.6V491.0H114.7H126.8V463.2H138.9V421.5H151.1V407.6H163.2V393.7H175.3H187.4H199.5V379.8H211.6H223.7V365.9H235.8H247.9V352.0"/><path d="M78.4 602.9H86.2H94.1V589.7H101.9H109.7H117.6V576.5H125.4H133.2V563.3H141.1V550.1H148.9V536.9H156.8H164.6V523.7H172.4V510.5H180.3H188.1V484.1H195.9V457.6H203.8H211.6H219.4H227.3V431.2H235.1H242.9H250.8H258.6H266.4V404.8H274.3H282.1V391.6H290.0H297.8H305.6H313.5V378.4H321.3H329.1H337.0V365.2"/><path d="M78.4 528.1H93.2V512.1H108.0H122.8V472.0H137.6V440.0H152.4V416.0H167.2V400.0H182.0H196.8H211.6V384.0H226.4H241.2V368.0H256.0H270.8H285.6V360.0H300.4H315.2H330.0H344.8V352.0"/><path d="M78.4 542.7H96.2V513.4H113.9H131.7V498.7H149.4V454.7H167.2V425.4H185.0H202.7V410.7H220.5V381.3H238.2H256.0V366.7H273.8H291.5H309.3H327.0V352.0H344.8"/><path d="M78.4 545.7H90.0V528.1H101.6V492.9H113.1H124.7H136.3V457.6H147.9V440.0H159.5V404.8H171.1H182.6V387.2H194.2V369.6H205.8H217.4H229.0H240.6H252.1H263.7H275.3H286.9H298.5H310.1V352.0"/><path d="M78.4 583.1H95.1V550.1H111.7V517.1H128.3V508.8H145.0V492.3H161.7V484.1H178.3V418.0H194.9V401.5H211.6H228.2H244.9H261.5V385.0H278.2V376.8H294.9H311.5V368.5H328.1"/><path d="M78.4 616.1V510.5H90.0V492.9H101.6V475.2H113.1H124.7V422.4H136.3H147.9H159.5H171.1V404.8H182.6V387.2H194.2H205.8H217.4V369.6H229.0H240.6V352.0"/><path d="M78.4 588.3H93.2V560.5H108.0H122.8V546.6H137.6V532.7H152.4H167.2V477.1H182.0H196.8V463.2H211.6V435.4H226.4H241.2V421.5H256.0V407.6H270.8V393.7H285.6H300.4H315.2V379.8H330.0V365.9"/><path d="M78.4 550.1H90.0V533.6H101.6V517.1H113.1V500.6H124.7V484.1H136.3H147.9V467.5H159.5V451.0H171.1H182.6V418.0H194.2V401.5H205.8H217.4V385.0H229.0H240.6H252.1V368.5H263.7H275.3H286.9H298.5H310.1V352.0"/></g>
<g fill="none" stroke="#b13f40" stroke-opacity="0.055" stroke-width="0.7"><path d="M78.4 550.1H90.5H102.6V540.6H114.7V502.9H126.8H138.9H151.1V474.6H163.2H175.3H187.4V446.3H199.5V418.0H211.6H223.7H235.8V389.7H247.9H260.0V380.3H272.1H284.3H296.4V370.9H308.5H320.6V361.4H332.7"/><path d="M78.4 574.4H88.6H98.9V546.6H109.1H119.4H129.6H139.9V491.0H150.1H160.4H170.6V463.2H180.9V449.3H191.1H201.4H211.6V435.4H221.8V421.5H232.1H242.3V407.6H252.6V393.7H262.8H273.1H283.3V379.8H293.6H303.8H314.1V365.9H324.3H334.6H344.8V352.0"/><path d="M78.4 550.1H93.2H108.0V533.6H122.8H137.6H152.4V500.6H167.2V467.5H182.0V442.8H196.8H211.6V434.5H226.4V409.8H241.2H256.0V393.3H270.8V385.0H285.6H300.4H315.2V368.5H330.0"/><path d="M78.4 608.1H93.2V600.1H108.0V592.1H122.8V568.1H137.6V560.1H152.4V544.1H167.2V528.1H182.0V504.1H196.8V488.1H211.6V464.0H226.4V456.0H241.2V432.0H256.0V416.0H270.8H285.6V408.0H300.4V400.0H315.2V384.0H330.0V376.0"/><path d="M78.4 512.1H90.0V496.1H101.6V480.0H113.1V464.0H124.7V456.0H136.3V408.0H147.9V384.0H159.5H171.1H182.6H194.2H205.8V376.0H217.4H229.0V368.0H240.6V360.0H252.1H263.7V352.0"/><path d="M78.4 544.1H87.3V536.1H96.2V504.1H105.0H113.9H122.8V480.0H131.7V448.0H140.6H149.4H158.3V432.0H167.2H176.1V408.0H185.0H193.8H202.7V392.0H211.6V384.0H220.5H229.4H238.2H247.1V368.0H256.0H264.9H273.8H282.6H291.5H300.4H309.3H318.2V360.0H327.0H335.9V352.0"/><path d="M78.4 573.8H91.1H103.8V563.3H116.5V531.6H129.1V499.9H141.8H154.5H167.2H179.9V478.8H192.6V457.6H205.3V447.1H217.9V425.9H230.6H243.3V415.4H256.0V404.8H268.7V394.3H281.4H294.1V383.7H306.7H319.4H332.1V362.6"/><path d="M78.4 498.7H94.1V479.2H109.7V449.8H125.4V430.3H141.1V400.9H156.8V361.8H172.4H188.1H203.8H219.4V352.0"/><path d="M78.4 559.5H89.1H99.7H110.4V521.8H121.0H131.7H142.3V484.1H153.0H163.6H174.3V465.2H185.0H195.6V446.3H206.3V427.5H216.9V408.6H227.6H238.2V389.7H248.9H259.6H270.2H280.9H291.5H302.2V370.9H312.8H323.5H334.1"/><path d="M78.4 563.3H87.0H95.6V542.2H104.2H112.8H121.4V531.6H130.0H138.6V499.9H147.1H155.7V468.2H164.3H172.9H181.5V447.1H190.1V425.9H198.7H207.3V415.4H215.9H224.5V404.8H233.1H241.7H250.3V383.7H258.9H267.5H276.1H284.6H293.2V373.1H301.8H310.4H319.0H327.6V362.6H336.2"/><path d="M78.4 573.5H88.6V530.9H98.9V522.4H109.1H119.4V496.8H129.6V479.8H139.9H150.1V462.8H160.4V454.2H170.6V428.7H180.9V386.1H191.1H201.4H211.6H221.8H232.1H242.3H252.6H262.8V377.6H273.1H283.3H293.6H303.8V360.5H314.1H324.3H334.6"/><path d="M78.4 616.1V488.9H97.4V469.4H116.5H135.5V371.6H154.5H173.5H192.6V361.8H211.6H230.6V352.0H249.7"/><path d="M78.4 528.1H96.2V517.1H113.9V495.1H131.7V462.0H149.4V418.0H167.2H185.0V407.0H202.7V385.0H220.5V374.0H238.2H256.0H273.8V363.0H291.5H309.3V352.0H327.0"/><path d="M78.4 542.2H91.7H105.0V531.6H118.4V510.5H131.7H145.0V478.8H158.3V447.1H171.6H185.0V415.4H198.3V394.3H211.6H224.9H238.2H251.6V383.7H264.9V373.1H278.2H291.5H304.8H318.2V362.6H331.5V352.0"/><path d="M78.4 616.1V547.2H90.0H101.6V524.2H113.1V501.3H124.7H136.3V489.8H147.9V466.8H159.5V455.3H171.1V432.4H182.6H194.2V420.9H205.8V397.9H217.4H229.0H240.6H252.1V375.0H263.7H275.3H286.9H298.5H310.1V363.5H321.6H333.2V352.0"/><path d="M78.4 558.7H88.6V547.2H98.9V524.2H109.1V489.8H119.4H129.6H139.9H150.1H160.4V455.3H170.6V432.4H180.9H191.1V420.9H201.4V409.4H211.6H221.8V386.4H232.1V375.0H242.3H252.6H262.8H273.1H283.3V363.5H293.6H303.8H314.1H324.3H334.6V352.0"/><path d="M78.4 616.1V563.3H86.5H94.5V536.9H102.6H110.7H118.8H126.8V510.5H134.9V484.1H143.0H151.1H159.1H167.2V457.6H175.3H183.3V431.2H191.4H199.5V418.0H207.6H215.6H223.7V404.8H231.8V391.6H239.9H247.9H256.0H264.1H272.1V378.4H280.2H288.3H296.4H304.4H312.5V365.2H320.6H328.7H336.7H344.8V352.0"/><path d="M78.4 616.1V585.0H96.2V577.3H113.9V554.0H131.7H149.4V538.4H167.2V515.1H185.0V468.5H202.7V453.0H220.5V429.7H238.2V414.1H256.0V406.4H273.8V398.6H291.5V390.8H309.3V383.1H327.0V367.5H344.8V352.0"/><path d="M78.4 530.9H95.1H111.7V505.3H128.3V496.8H145.0H161.7V454.2H178.3V445.7H194.9V411.6H211.6H228.2V394.6H244.9V377.6H261.5H278.2H294.9V369.0H311.5H328.1V360.5H344.8V352.0"/><path d="M78.4 565.3H91.1V545.0H103.8V514.5H116.5H129.1V484.1H141.8V463.7H154.5H167.2H179.9V433.3H192.6V423.1H205.3H217.9V402.8H230.6V392.6H243.3V372.3H256.0H268.7H281.4H294.1H306.7H319.4H332.1V362.2"/><path d="M78.4 616.1H91.7V602.2H105.0V574.4H118.4H131.7V560.5H145.0V546.6H158.3V532.7H171.6H185.0V518.8H198.3V463.2H211.6H224.9V449.3H238.2H251.6V421.5H264.9H278.2V407.6H291.5V393.7H304.8H318.2V379.8H331.5V365.9"/><path d="M78.4 536.9H87.0V492.9H95.6H104.2V475.2H112.8H121.4H130.0V457.6H138.6V440.0H147.1V413.6H155.7H164.3H172.9H181.5V387.2H190.1V378.4H198.7H207.3V369.6H215.9H224.5H233.1H241.7H250.3H258.9V360.8H267.5V352.0"/><path d="M78.4 616.1V583.1H97.4V539.1H116.5V528.1H135.5V484.1H154.5H173.5V473.0H192.6V440.0H211.6V418.0H230.6H249.7V396.0H268.7H287.7V374.0H306.7H325.8H344.8V352.0"/><path d="M78.4 540.6H90.5H102.6V521.8H114.7H126.8V484.1H138.9V465.2H151.1H163.2H175.3V446.3H187.4V408.6H199.5H211.6H223.7H235.8V389.7H247.9H260.0V370.9H272.1H284.3H296.4H308.5H320.6V352.0"/><path d="M78.4 616.1V528.1H91.7V498.7H105.0V484.1H118.4H131.7V454.7H145.0V425.4H158.3H171.6V396.0H185.0V366.7H198.3H211.6V352.0"/><path d="M78.4 581.7H87.0H95.6V547.2H104.2H112.8V535.7H121.4V512.8H130.0H138.6V501.3H147.1V489.8H155.7H164.3H172.9V466.8H181.5H190.1V455.3H198.7V432.4H207.3H215.9V386.4H224.5H233.1H241.7H250.3H258.9H267.5H276.1H284.6V375.0H293.2H301.8H310.4H319.0H327.6V363.5H336.2"/></g>
<g fill="none" stroke="#8669a1" stroke-opacity="0.055" stroke-width="0.7"><path d="M78.4 518.8H94.1H109.7V504.9H125.4V491.0H141.1V463.2H156.8V449.3H172.4V435.4H188.1V393.7H203.8H219.4V379.8H235.1H250.8H266.4V365.9H282.1H297.8H313.5V352.0H329.1"/><path d="M78.4 616.1V518.8H87.9V491.0H97.4H106.9V463.2H116.5H126.0V435.4H135.5H145.0V421.5H154.5H164.0V393.7H173.5H183.1V379.8H192.6V365.9H202.1H211.6H221.1V352.0"/><path d="M78.4 568.1H89.1H99.7V536.1H110.4V528.1H121.0V496.1H131.7H142.3V488.1H153.0H163.6V448.0H174.3H185.0V432.0H195.6V416.0H206.3V408.0H216.9H227.6V392.0H238.2H248.9H259.6V376.0H270.2H280.9H291.5H302.2H312.8H323.5V360.0H334.1"/><path d="M78.4 552.4H95.1V506.8H111.7V479.5H128.3V470.4H145.0H161.7V452.2H178.3V434.0H194.9V415.7H211.6V388.4H228.2H244.9V379.3H261.5H278.2H294.9V370.2H311.5V361.1H328.1"/><path d="M78.4 536.9H89.5V523.7H100.6V510.5H111.7H122.8H133.9V457.6H145.0V444.4H156.1V431.2H167.2V418.0H178.3H189.4V391.6H200.5H211.6H222.7H233.8H244.9H256.0V365.2H267.1H278.2H289.3H300.4H311.5H322.6V352.0"/><path d="M78.4 603.5H91.1V565.8H103.8V553.2H116.5H129.1V515.5H141.8V502.9H154.5V477.8H167.2H179.9V465.2H192.6V452.6H205.3V427.5H217.9H230.6V402.3H243.3H256.0V389.7H268.7H281.4H294.1H306.7V377.2H319.4H332.1V364.6H344.8V352.0"/><path d="M78.4 521.8H91.1V502.9H103.8V484.1H116.5V465.2H129.1V446.3H141.8V389.7H154.5H167.2H179.9H192.6H205.3V370.9H217.9H230.6V352.0"/><path d="M78.4 512.8H96.2V455.3H113.9V443.9H131.7V420.9H149.4V397.9H167.2V363.5H185.0V352.0"/><path d="M78.4 519.3H90.0V492.9H101.6V475.2H113.1H124.7V457.6H136.3V440.0H147.9V413.6H159.5H171.1V396.0H182.6H194.2V369.6H205.8H217.4H229.0H240.6V352.0"/><path d="M78.4 578.4H94.1V559.5H109.7V540.6H125.4V521.8H141.1V484.1H156.8V465.2H172.4V446.3H188.1H203.8V427.5H219.4V408.6H235.1H250.8H266.4V389.7H282.1H297.8H313.5V370.9H329.1"/><path d="M78.4 554.0H86.7H95.1V507.4H103.4H111.7V491.8H120.0V476.3H128.3V460.7H136.7H145.0V445.2H153.3H161.7V429.7H170.0V414.1H178.3H186.6H194.9H203.3V398.6H211.6V383.1H219.9H228.2H236.6H244.9V367.5H253.2H261.5H269.9H278.2H286.5H294.9H303.2H311.5V352.0"/><path d="M78.4 616.1H87.6H96.8V604.1H106.0V580.1H115.1V568.1H124.3H133.5V556.1H142.7V544.1H151.9H161.1V532.1H170.3V520.1H179.4V508.1H188.6V472.0H197.8H207.0H216.2V460.0H225.4V448.0H234.6H243.8V436.0H252.9H262.1V412.0H271.3H280.5H289.7V400.0H298.9V388.0H308.1H317.2H326.4V376.0H335.6H344.8V352.0"/><path d="M78.4 542.2H90.0V521.0H101.6V510.5H113.1V499.9H124.7H136.3V457.6H147.9H159.5V447.1H171.1V425.9H182.6V404.8H194.2H205.8V373.1H217.4H229.0H240.6H252.1H263.7H275.3H286.9V362.6H298.5H310.1H321.6H333.2V352.0"/><path d="M78.4 616.1V528.1H87.6V508.5H96.8H106.0V488.9H115.1H124.3V479.2H133.5V440.0H142.7H151.9H161.1V430.3H170.3V400.9H179.4H188.6V381.3H197.8H207.0V371.6H216.2H225.4H234.6H243.8V361.8H252.9H262.1H271.3H280.5H289.7H298.9H308.1V352.0"/><path d="M78.4 556.5H87.9H97.4V547.9H106.9H116.5V522.4H126.0V488.3H135.5H145.0V479.8H154.5H164.0V454.2H173.5V437.2H183.1H192.6V428.7H202.1H211.6V394.6H221.1H230.6H240.1H249.7V377.6H259.2H268.7H278.2H287.7V369.0H297.2H306.7H316.3H325.8H335.3V360.5H344.8V352.0"/><path d="M78.4 547.2H94.1V489.8H109.7H125.4V466.8H141.1V443.9H156.8H172.4V420.9H188.1V386.4H203.8H219.4V363.5H235.1H250.8H266.4H282.1H297.8H313.5V352.0"/><path d="M78.4 616.1V545.0H89.5V524.7H100.6H111.7V514.5H122.8V463.7H133.9H145.0V443.4H156.1H167.2H178.3V412.9H189.4H200.5V392.6H211.6H222.7V382.5H233.8H244.9V372.3H256.0H267.1H278.2H289.3V362.2H300.4H311.5H322.6V352.0"/><path d="M78.4 506.8H94.1H109.7V470.4H125.4V443.1H141.1V415.7H156.8V388.4H172.4H188.1V379.3H203.8H219.4V370.2H235.1H250.8V361.1H266.4H282.1H297.8H313.5V352.0"/><path d="M78.4 446.3H88.6H98.9V427.5H109.1V418.0H119.4H129.6V389.7H139.9V361.4H150.1H160.4H170.6V352.0"/><path d="M78.4 583.1H88.6H98.9H109.1H119.4V533.6H129.6H139.9V492.3H150.1H160.4H170.6V484.1H180.9V467.5H191.1V451.0H201.4H211.6H221.8V442.8H232.1V418.0H242.3H252.6H262.8V409.8H273.1V393.3H283.3H293.6H303.8H314.1V376.8H324.3H334.6V368.5"/><path d="M78.4 616.1H97.4V597.2H116.5V578.4H135.5V559.5H154.5V540.6H173.5H192.6V521.8H211.6V502.9H230.6V484.1H249.7V446.3H268.7H287.7V427.5H306.7V408.6H325.8V389.7"/><path d="M78.4 577.0H87.6H96.8V567.2H106.0H115.1V547.6H124.3V537.8H133.5V528.1H142.7H151.9V508.5H161.1V488.9H170.3V479.2H179.4V449.8H188.6H197.8V440.0H207.0V420.5H216.2H225.4V410.7H234.6H243.8V391.1H252.9H262.1H271.3H280.5V381.3H289.7H298.9V371.6H308.1H317.2H326.4V361.8H335.6"/><path d="M78.4 597.2H87.3H96.2V578.4H105.0H113.9V559.5H122.8H131.7V540.6H140.6H149.4V521.8H158.3H167.2H176.1V502.9H185.0V484.1H193.8V465.2H202.7V446.3H211.6H220.5H229.4V427.5H238.2H247.1H256.0V408.6H264.9H273.8H282.6H291.5V389.7H300.4H309.3H318.2V370.9H327.0H335.9"/><path d="M78.4 550.1H96.2H113.9V540.6H131.7V502.9H149.4V474.6H167.2V455.8H185.0V436.9H202.7V418.0H220.5V408.6H238.2V389.7H256.0V380.3H273.8H291.5V370.9H309.3V361.4H327.0"/><path d="M78.4 563.3H88.6V536.9H98.9V501.7H109.1V492.9H119.4H129.6V484.1H139.9V475.2H150.1V457.6H160.4V448.8H170.6V440.0H180.9V413.6H191.1V404.8H201.4H211.6H221.8H232.1V369.6H242.3H252.6H262.8H273.1H283.3V360.8H293.6H303.8H314.1H324.3H334.6V352.0"/><path d="M78.4 473.0H89.1H99.7V440.0H110.4H121.0H131.7V429.0H142.3V407.0H153.0H163.6H174.3V374.0H185.0H195.6H206.3H216.9V363.0H227.6V352.0"/></g>
<g fill="none" stroke="#815e57" stroke-opacity="0.055" stroke-width="0.7"><path d="M78.4 560.1H87.9H97.4V544.1H106.9H116.5V536.1H126.0V512.1H135.5V496.1H145.0H154.5V488.1H164.0V448.0H173.5H183.1V432.0H192.6H202.1V424.0H211.6H221.1V400.0H230.6V392.0H240.1H249.7H259.2H268.7V384.0H278.2V376.0H287.7H297.2V368.0H306.7H316.3H325.8H335.3V360.0"/><path d="M78.4 616.1V592.1H95.1V568.1H111.7V560.1H128.3V528.1H145.0V512.1H161.7V480.0H178.3H194.9V440.0H211.6V424.0H228.2V408.0H244.9V400.0H261.5H278.2V392.0H294.9V384.0H311.5V376.0H328.1V368.0"/><path d="M78.4 578.4H92.4V553.2H106.4V528.1H120.5V502.9H134.5H148.5V490.3H162.5H176.5H190.6V452.6H204.6V440.0H218.6V427.5H232.6V402.3H246.7H260.7V389.7H274.7H288.7V377.2H302.7H316.8V364.6H330.8"/><path d="M78.4 616.1V546.6H87.6H96.8V504.9H106.0H115.1V491.0H124.3H133.5V449.3H142.7H151.9H161.1H170.3V435.4H179.4V393.7H188.6H197.8H207.0H216.2V379.8H225.4H234.6H243.8H252.9H262.1V365.9H271.3H280.5H289.7H298.9H308.1H317.2H326.4V352.0"/><path d="M78.4 616.1V513.4H87.3H96.2V498.7H105.0V484.1H113.9H122.8H131.7V454.7H140.6V440.0H149.4H158.3V410.7H167.2H176.1H185.0V381.3H193.8V366.7H202.7H211.6H220.5H229.4H238.2H247.1H256.0H264.9H273.8V352.0"/><path d="M78.4 550.1H90.0V517.1H101.6H113.1V495.1H124.7H136.3V462.0H147.9H159.5H171.1V451.0H182.6V396.0H194.2H205.8H217.4V385.0H229.0V374.0H240.6H252.1H263.7H275.3H286.9H298.5V363.0H310.1H321.6H333.2V352.0"/><path d="M78.4 616.1V492.9H88.3H98.1H108.0H117.9V475.2H127.7V457.6H137.6H147.5V440.0H157.3V422.4H167.2H177.1V404.8H186.9H196.8V387.2H206.7V369.6H216.5H226.4H236.3H246.1H256.0H265.9H275.7V352.0"/><path d="M78.4 520.1H89.5H100.6V512.1H111.7H122.8V480.0H133.9H145.0V456.0H156.1V432.0H167.2H178.3V416.0H189.4H200.5V392.0H211.6H222.7V384.0H233.8H244.9V376.0H256.0H267.1V360.0H278.2H289.3H300.4H311.5H322.6H333.7V352.0"/><path d="M78.4 563.3H92.4H106.4V552.7H120.5V542.2H134.5V499.9H148.5V489.3H162.5V468.2H176.5V447.1H190.6H204.6V415.4H218.6V404.8H232.6H246.7H260.7V383.7H274.7H288.7H302.7H316.8V362.6H330.8"/><path d="M78.4 592.1H86.7H95.1V580.1H103.4H111.7V556.1H120.0H128.3V544.1H136.7H145.0V520.1H153.3H161.7H170.0V484.1H178.3H186.6V436.0H194.9H203.3H211.6H219.9H228.2V400.0H236.6H244.9H253.2H261.5H269.9H278.2H286.5V388.0H294.9H303.2V376.0H311.5H319.8H328.1H336.5V364.0"/><path d="M78.4 547.2H88.3V535.7H98.1V489.8H108.0H117.9V478.3H127.7H137.6V466.8H147.5V443.9H157.3V420.9H167.2V409.4H177.1H186.9V375.0H196.8H206.7H216.5H226.4H236.3H246.1H256.0V363.5H265.9H275.7H285.6H295.5V352.0"/><path d="M78.4 524.7H91.1H103.8V514.5H116.5V473.9H129.1H141.8V453.6H154.5V443.4H167.2V412.9H179.9H192.6H205.3V382.5H217.9H230.6H243.3V372.3H256.0V362.2H268.7H281.4H294.1H306.7H319.4H332.1V352.0"/><path d="M78.4 616.1V576.1H86.2V568.1H94.1V528.1H101.9H109.7H117.6H125.4V512.1H133.2H141.1V504.1H148.9H156.8V464.0H164.6H172.4V456.0H180.3V448.0H188.1H195.9V432.0H203.8H211.6V424.0H219.4H227.3V400.0H235.1H242.9H250.8H258.6V384.0H266.4H274.3V376.0H282.1H290.0H297.8H305.6H313.5H321.3H329.1V368.0H337.0V360.0"/><path d="M78.4 536.9H96.2V523.7H113.9V497.3H131.7V470.8H149.4V431.2H167.2H185.0H202.7V391.6H220.5H238.2H256.0V378.4H273.8V365.2H291.5H309.3H327.0H344.8V352.0"/><path d="M78.4 547.6H87.6H96.8V537.8H106.0V528.1H115.1V508.5H124.3V498.7H133.5V488.9H142.7V459.6H151.9H161.1V449.8H170.3H179.4H188.6V420.5H197.8V410.7H207.0H216.2V400.9H225.4H234.6V381.3H243.8H252.9H262.1H271.3V361.8H280.5H289.7H298.9H308.1H317.2H326.4H335.6H344.8V352.0"/><path d="M78.4 524.7H95.1V494.2H111.7V453.6H128.3H145.0V433.3H161.7H178.3V423.1H194.9V362.2H211.6H228.2H244.9H261.5H278.2H294.9V352.0"/><path d="M78.4 547.9H91.7V539.4H105.0H118.4V513.9H131.7V505.3H145.0V488.3H158.3V462.8H171.6H185.0V428.7H198.3V411.6H211.6V403.1H224.9H238.2V394.6H251.6H264.9V386.1H278.2V377.6H291.5H304.8H318.2V369.0H331.5V360.5"/><path d="M78.4 616.1H95.1V584.4H111.7V573.8H128.3V563.3H145.0V542.2H161.7V531.6H178.3V521.0H194.9V489.3H211.6V478.8H228.2V425.9H244.9V415.4H261.5H278.2V394.3H294.9H311.5V383.7H328.1V373.1"/><path d="M78.4 616.1H87.0V593.1H95.6H104.2V581.7H112.8V570.2H121.4V558.7H130.0H138.6H147.1V535.7H155.7H164.3V524.2H172.9V501.3H181.5V489.8H190.1H198.7V466.8H207.3V455.3H215.9V432.4H224.5H233.1V420.9H241.7H250.3H258.9V409.4H267.5H276.1H284.6H293.2V397.9H301.8H310.4V386.4H319.0H327.6H336.2V363.5"/><path d="M78.4 496.1H92.4H106.4V480.0H120.5V464.0H134.5V424.0H148.5V408.0H162.5V384.0H176.5H190.6V360.0H204.6V352.0H218.6"/><path d="M78.4 616.1V532.7H89.5H100.6V491.0H111.7V477.1H122.8H133.9V463.2H145.0V421.5H156.1H167.2H178.3V407.6H189.4V393.7H200.5H211.6H222.7V379.8H233.8H244.9V365.9H256.0H267.1H278.2H289.3H300.4H311.5H322.6H333.7V352.0"/><path d="M78.4 558.3H87.9V541.8H97.4V533.6H106.9V517.1H116.5V484.1H126.0H135.5V451.0H145.0H154.5V442.8H164.0V426.3H173.5H183.1V418.0H192.6V409.8H202.1H211.6V401.5H221.1V376.8H230.6H240.1H249.7H259.2V368.5H268.7H278.2H287.7V360.3H297.2H306.7H316.3H325.8H335.3"/><path d="M78.4 547.2H94.1V535.7H109.7V501.3H125.4V489.8H141.1V455.3H156.8H172.4H188.1V420.9H203.8V397.9H219.4V386.4H235.1H250.8V375.0H266.4H282.1V363.5H297.8H313.5H329.1"/><path d="M78.4 528.1H87.6V515.5H96.8H106.0V502.9H115.1V490.3H124.3V465.2H133.5H142.7V452.6H151.9V440.0H161.1V414.9H170.3V402.3H179.4H188.6H197.8V389.7H207.0H216.2V377.2H225.4H234.6V364.6H243.8H252.9H262.1V352.0"/><path d="M78.4 554.0H86.5H94.5H102.6H110.7V538.4H118.8H126.8V522.9H134.9H143.0V507.4H151.1V476.3H159.1H167.2H175.3V460.7H183.3H191.4V445.2H199.5V429.7H207.6H215.6H223.7V414.1H231.8H239.9V398.6H247.9H256.0H264.1V383.1H272.1H280.2H288.3H296.4H304.4V367.5H312.5H320.6H328.7H336.7H344.8V352.0"/><path d="M78.4 546.2H95.1V538.4H111.7V522.9H128.3V499.6H145.0V445.2H161.7H178.3V421.9H194.9V414.1H211.6V390.8H228.2H244.9V383.1H261.5H278.2V375.3H294.9V367.5H311.5H328.1V352.0"/></g>
<g fill="none" stroke="#ba73a4" stroke-opacity="0.055" stroke-width="0.7"><path d="M78.4 616.1H92.4V599.6H106.4V583.1H120.5H134.5V566.6H148.5V533.6H162.5H176.5V517.1H190.6V500.6H204.6V484.1H218.6H232.6V451.0H246.7V434.5H260.7V418.0H274.7H288.7V401.5H302.7H316.8V385.0H330.8V368.5H344.8V352.0"/><path d="M78.4 523.7H87.9H97.4V497.3H106.9V484.1H116.5V444.4H126.0H135.5H145.0V431.2H154.5H164.0V418.0H173.5H183.1V391.6H192.6H202.1V365.2H211.6H221.1H230.6H240.1H249.7H259.2H268.7H278.2H287.7H297.2H306.7V352.0H316.3"/><path d="M78.4 550.1H93.2V533.6H108.0H122.8V517.1H137.6V500.6H152.4V451.0H167.2H182.0H196.8V418.0H211.6H226.4V401.5H241.2H256.0V385.0H270.8V368.5H285.6H300.4H315.2H330.0"/><path d="M78.4 515.9H92.4V506.8H106.4H120.5V470.4H134.5V452.2H148.5H162.5V424.9H176.5V406.6H190.6V379.3H204.6H218.6H232.6V352.0"/><path d="M78.4 585.0H86.5V569.5H94.5V554.0H102.6H110.7V538.4H118.8H126.8H134.9H143.0V491.8H151.1H159.1H167.2H175.3V460.7H183.3H191.4V445.2H199.5H207.6H215.6V429.7H223.7V414.1H231.8H239.9H247.9H256.0V398.6H264.1H272.1V383.1H280.2H288.3H296.4H304.4H312.5H320.6H328.7V367.5H336.7"/><path d="M78.4 484.1H86.7H95.1V472.0H103.4H111.7H120.0V424.0H128.3V400.0H136.7H145.0H153.3V388.0H161.7H170.0V364.0H178.3H186.6H194.9V352.0"/><path d="M78.4 616.1V517.1H94.1V500.6H109.7V467.5H125.4H141.1V426.3H156.8H172.4V393.3H188.1H203.8V368.5H219.4H235.1H250.8H266.4V352.0"/><path d="M78.4 531.6H86.5H94.5V489.3H102.6H110.7V478.8H118.8H126.8V447.1H134.9H143.0V436.5H151.1V425.9H159.1V415.4H167.2V404.8H175.3V394.3H183.3V383.7H191.4H199.5V373.1H207.6H215.6H223.7H231.8V362.6H239.9H247.9H256.0H264.1H272.1H280.2H288.3H296.4H304.4V352.0"/><path d="M78.4 457.6H87.0H95.6H104.2H112.8V422.4H121.4H130.0V387.2H138.6H147.1V369.6H155.7H164.3V352.0"/><path d="M78.4 532.1H87.3H96.2V508.1H105.0V496.1H113.9V460.0H122.8H131.7V424.0H140.6H149.4H158.3H167.2V412.0H176.1V376.0H185.0H193.8H202.7H211.6H220.5H229.4V364.0H238.2H247.1H256.0H264.9H273.8H282.6H291.5H300.4H309.3V352.0"/><path d="M78.4 457.6H90.5H102.6V404.8H114.7H126.8H138.9H151.1V383.7H163.2V352.0"/><path d="M78.4 532.7H97.4V491.0H116.5H135.5V477.1H154.5V449.3H173.5V421.5H192.6V393.7H211.6H230.6H249.7V379.8H268.7H287.7V365.9H306.7H325.8"/><path d="M78.4 545.7H87.9V528.1H97.4V510.5H106.9H116.5V492.9H126.0V475.2H135.5V457.6H145.0H154.5H164.0V404.8H173.5H183.1H192.6H202.1H211.6V387.2H221.1V369.6H230.6H240.1H249.7H259.2H268.7H278.2H287.7H297.2H306.7H316.3V352.0"/><path d="M78.4 566.6H87.3V550.1H96.2V500.6H105.0H113.9H122.8H131.7V484.1H140.6H149.4V451.0H158.3H167.2H176.1V418.0H185.0H193.8H202.7V401.5H211.6H220.5V385.0H229.4H238.2H247.1V368.5H256.0H264.9H273.8H282.6H291.5H300.4H309.3H318.2H327.0V352.0H335.9"/><path d="M78.4 616.1V542.7H91.1V528.1H103.8H116.5H129.1V469.4H141.8V425.4H154.5H167.2H179.9V410.7H192.6V396.0H205.3H217.9V366.7H230.6H243.3V352.0"/><path d="M78.4 616.1V524.2H95.1V478.3H111.7H128.3V455.3H145.0V432.4H161.7V397.9H178.3H194.9V386.4H211.6V375.0H228.2V363.5H244.9H261.5H278.2V352.0"/><path d="M78.4 540.6H91.1V528.1H103.8V515.5H116.5V502.9H129.1V465.2H141.8H154.5V452.6H167.2V427.5H179.9V414.9H192.6V402.3H205.3H217.9V377.2H230.6H243.3H256.0V364.6H268.7H281.4H294.1H306.7H319.4H332.1V352.0"/><path d="M78.4 574.8H87.3H96.2V558.3H105.0H113.9V550.1H122.8V541.8H131.7H140.6V533.6H149.4V492.3H158.3H167.2V484.1H176.1V459.3H185.0V434.5H193.8H202.7H211.6H220.5V426.3H229.4V409.8H238.2V401.5H247.1H256.0V393.3H264.9H273.8V385.0H282.6H291.5H300.4V376.8H309.3H318.2H327.0H335.9V360.3H344.8V352.0"/><path d="M78.4 579.7H86.7H95.1V570.6H103.4H111.7V552.4H120.0H128.3H136.7H145.0V515.9H153.3H161.7V488.6H170.0H178.3V452.2H186.6H194.9V443.1H203.3H211.6V434.0H219.9H228.2V424.9H236.6H244.9V415.7H253.2V406.6H261.5V397.5H269.9H278.2H286.5V379.3H294.9H303.2H311.5H319.8H328.1V370.2H336.5V361.1H344.8V352.0"/><path d="M78.4 604.1H89.5V568.1H100.6H111.7H122.8V544.1H133.9H145.0V520.1H156.1H167.2V508.1H178.3V496.1H189.4V472.0H200.5V448.0H211.6H222.7V436.0H233.8V424.0H244.9V412.0H256.0V400.0H267.1H278.2H289.3V388.0H300.4H311.5H322.6H333.7V364.0"/><path d="M78.4 565.0H92.4V556.5H106.4V539.4H120.5V522.4H134.5V471.3H148.5V454.2H162.5V445.7H176.5V403.1H190.6H204.6H218.6H232.6V394.6H246.7V377.6H260.7H274.7H288.7H302.7V369.0H316.8H330.8V360.5H344.8V352.0"/><path d="M78.4 586.8H89.5V572.1H100.6V557.4H111.7H122.8V542.7H133.9V513.4H145.0V484.1H156.1H167.2H178.3H189.4V454.7H200.5V425.4H211.6H222.7V410.7H233.8H244.9H256.0H267.1V381.3H278.2H289.3H300.4H311.5H322.6V366.7H333.7"/><path d="M78.4 484.1H86.2V462.0H94.1H101.9V440.0H109.7H117.6V418.0H125.4H133.2V407.0H141.1V363.0H148.9H156.8H164.6V352.0"/><path d="M78.4 573.5H97.4V496.8H116.5H135.5V471.3H154.5H173.5V445.7H192.6V437.2H211.6V394.6H230.6H249.7V377.6H268.7H287.7V369.0H306.7H325.8"/><path d="M78.4 532.7H87.0H95.6V518.8H104.2H112.8H121.4V504.9H130.0V477.1H138.6H147.1H155.7H164.3V449.3H172.9H181.5H190.1V421.5H198.7V393.7H207.3V379.8H215.9H224.5H233.1H241.7H250.3H258.9V365.9H267.5H276.1H284.6H293.2H301.8H310.4H319.0H327.6H336.2"/><path d="M78.4 602.9H89.1H99.7V550.1H110.4H121.0H131.7H142.3V536.9H153.0H163.6V523.7H174.3V497.3H185.0H195.6V457.6H206.3H216.9H227.6V431.2H238.2H248.9V418.0H259.6V404.8H270.2H280.9V391.6H291.5V378.4H302.2H312.8H323.5H334.1V365.2"/></g>
<g fill="none" stroke="#797979" stroke-opacity="0.055" stroke-width="0.7"><path d="M78.4 497.3H90.5V470.8H102.6H114.7V431.2H126.8H138.9H151.1V378.4H163.2H175.3V352.0"/><path d="M78.4 603.5H86.7V590.9H95.1H103.4V565.8H111.7H120.0V528.1H128.3H136.7H145.0H153.3H161.7V490.3H170.0V477.8H178.3V465.2H186.6H194.9V452.6H203.3H211.6V440.0H219.9H228.2V427.5H236.6V414.9H244.9V402.3H253.2H261.5H269.9H278.2V389.7H286.5H294.9H303.2H311.5V377.2H319.8H328.1H336.5V364.6"/><path d="M78.4 550.1H87.0H95.6V528.1H104.2V517.1H112.8V506.1H121.4H130.0V484.1H138.6H147.1V440.0H155.7H164.3H172.9H181.5V396.0H190.1H198.7H207.3H215.9H224.5H233.1V385.0H241.7H250.3V374.0H258.9H267.5H276.1H284.6V363.0H293.2H301.8H310.4H319.0H327.6H336.2H344.8V352.0"/><path d="M78.4 554.5H89.1H99.7V501.7H110.4H121.0V475.2H131.7H142.3H153.0V457.6H163.6V431.2H174.3H185.0H195.6V404.8H206.3H216.9V387.2H227.6H238.2H248.9V369.6H259.6H270.2V360.8H280.9H291.5H302.2H312.8H323.5V352.0"/><path d="M78.4 599.6H89.1V591.3H99.7V550.1H110.4H121.0H131.7V541.8H142.3V508.8H153.0H163.6H174.3V484.1H185.0V451.0H195.6V442.8H206.3V418.0H216.9H227.6H238.2H248.9V393.3H259.6H270.2H280.9V385.0H291.5H302.2V376.8H312.8H323.5H334.1V360.3H344.8V352.0"/><path d="M78.4 582.0H96.2V565.0H113.9V530.9H131.7H149.4V522.4H167.2V505.3H185.0V471.3H202.7V445.7H220.5V420.2H238.2V403.1H256.0H273.8V386.1H291.5H309.3V360.5H327.0"/><path d="M78.4 616.1H95.1V598.5H111.7H128.3V563.3H145.0V545.7H161.7V528.1H178.3V510.5H194.9H211.6V475.2H228.2V457.6H244.9V440.0H261.5V422.4H278.2V404.8H294.9H311.5V387.2H328.1"/><path d="M78.4 510.5H91.7H105.0V499.9H118.4V447.1H131.7H145.0H158.3V425.9H171.6V404.8H185.0H198.3V394.3H211.6V373.1H224.9H238.2H251.6V352.0H264.9"/><path d="M78.4 616.1V519.3H96.2V492.9H113.9V484.1H131.7V422.4H149.4V413.6H167.2V387.2H185.0H202.7V360.8H220.5V352.0"/><path d="M78.4 616.1V533.6H93.2V517.1H108.0V467.5H122.8H137.6H152.4V434.5H167.2V401.5H182.0H196.8H211.6H226.4V385.0H241.2H256.0H270.8V368.5H285.6H300.4H315.2H330.0V352.0"/><path d="M78.4 539.4H93.2V479.8H108.0H122.8V462.8H137.6V445.7H152.4V420.2H167.2H182.0V394.6H196.8V386.1H211.6H226.4V360.5H241.2H256.0H270.8V352.0H285.6H300.4H315.2"/><path d="M78.4 513.4H86.5H94.5V498.7H102.6V469.4H110.7H118.8H126.8V454.7H134.9H143.0V425.4H151.1V410.7H159.1V396.0H167.2H175.3H183.3H191.4V381.3H199.5H207.6V366.7H215.6H223.7H231.8V352.0H239.9"/><path d="M78.4 616.1V510.5H91.7V492.9H105.0V457.6H118.4H131.7V422.4H145.0H158.3V387.2H171.6V369.6H185.0H198.3H211.6H224.9H238.2V352.0"/><path d="M78.4 616.1V544.1H87.9H97.4H106.9V512.1H116.5V496.1H126.0V472.0H135.5H145.0V456.0H154.5V448.0H164.0V424.0H173.5H183.1H192.6H202.1V416.0H211.6V400.0H221.1V376.0H230.6H240.1H249.7H259.2H268.7V368.0H278.2H287.7V360.0H297.2H306.7H316.3H325.8H335.3"/><path d="M78.4 521.8H87.0H95.6V502.9H104.2H112.8V465.2H121.4H130.0V446.3H138.6H147.1H155.7H164.3V427.5H172.9V408.6H181.5H190.1V389.7H198.7H207.3H215.9H224.5H233.1V370.9H241.7H250.3H258.9V352.0"/><path d="M78.4 616.1H93.2V599.6H108.0V583.1H122.8V566.6H137.6V550.1H152.4V533.6H167.2V517.1H182.0H196.8V484.1H211.6H226.4V434.5H241.2H256.0V418.0H270.8H285.6V401.5H300.4H315.2V385.0H330.0V368.5"/><path d="M78.4 550.1H87.9H97.4V517.1H106.9H116.5H126.0V492.3H135.5V451.0H145.0H154.5V442.8H164.0H173.5V426.3H183.1H192.6V393.3H202.1H211.6H221.1V385.0H230.6H240.1H249.7V376.8H259.2V368.5H268.7H278.2H287.7H297.2V360.3H306.7H316.3H325.8H335.3V352.0"/><path d="M78.4 546.6H87.6V532.7H96.8V463.2H106.0H115.1H124.3H133.5H142.7V449.3H151.9V421.5H161.1H170.3V407.6H179.4H188.6H197.8V393.7H207.0V379.8H216.2H225.4H234.6H243.8V365.9H252.9H262.1H271.3H280.5H289.7H298.9V352.0"/><path d="M78.4 550.1H87.0H95.6V540.6H104.2H112.8V512.3H121.4H130.0V484.1H138.6H147.1V474.6H155.7H164.3V455.8H172.9V446.3H181.5H190.1V427.5H198.7V418.0H207.3H215.9V408.6H224.5H233.1V399.2H241.7H250.3V389.7H258.9H267.5H276.1V380.3H284.6H293.2H301.8H310.4V370.9H319.0H327.6H336.2V361.4"/><path d="M78.4 570.2H96.2V535.7H113.9V512.8H131.7V489.8H149.4V455.3H167.2H185.0V432.4H202.7V397.9H220.5H238.2H256.0V386.4H273.8H291.5V363.5H309.3H327.0"/><path d="M78.4 616.1V537.8H88.6H98.9V508.5H109.1V498.7H119.4V459.6H129.6H139.9V440.0H150.1H160.4V420.5H170.6H180.9V410.7H191.1H201.4V391.1H211.6H221.8V381.3H232.1H242.3V371.6H252.6H262.8H273.1V361.8H283.3H293.6H303.8H314.1H324.3V352.0"/><path d="M78.4 608.3H87.6H96.8V585.0H106.0H115.1V569.5H124.3V561.7H133.5V554.0H142.7V546.2H151.9H161.1V522.9H170.3H179.4H188.6V499.6H197.8V484.1H207.0H216.2V445.2H225.4V437.4H234.6H243.8V414.1H252.9H262.1H271.3H280.5H289.7V406.4H298.9V398.6H308.1H317.2V383.1H326.4V375.3H335.6"/><path d="M78.4 607.6H97.4V590.5H116.5V573.5H135.5V556.5H154.5V539.4H173.5V530.9H192.6V479.8H211.6V462.8H230.6V445.7H249.7V437.2H268.7V428.7H287.7V403.1H306.7V386.1H325.8"/><path d="M78.4 497.3H93.2V470.8H108.0H122.8V431.2H137.6V404.8H152.4H167.2H182.0V391.6H196.8V352.0"/><path d="M78.4 616.1V513.4H95.1V484.1H111.7V469.4H128.3H145.0V410.7H161.7H178.3V396.0H194.9V366.7H211.6H228.2V352.0H244.9H261.5"/><path d="M78.4 491.8H91.1H103.8V468.5H116.5H129.1V414.1H141.8V390.8H154.5H167.2V383.1H179.9V367.5H192.6H205.3V352.0"/></g>
<g fill="none" stroke="#a0a13c" stroke-opacity="0.055" stroke-width="0.7"><path d="M78.4 484.1H96.2H113.9V465.2H131.7V427.5H149.4V408.6H167.2V380.3H185.0H202.7H220.5V352.0"/><path d="M78.4 616.1V517.1H91.7H105.0V484.1H118.4V434.5H131.7H145.0V401.5H158.3H171.6H185.0V368.5H198.3H211.6H224.9H238.2H251.6H264.9V352.0"/><path d="M78.4 572.1H89.1H99.7V554.5H110.4H121.0V519.3H131.7H142.3V492.9H153.0H163.6H174.3V466.4H185.0V431.2H195.6H206.3H216.9V422.4H227.6V413.6H238.2H248.9V404.8H259.6H270.2V387.2H280.9H291.5H302.2H312.8V378.4H323.5H334.1V360.8"/><path d="M78.4 554.0H88.3H98.1V538.4H108.0V522.9H117.9V507.4H127.7V476.3H137.6H147.5H157.3V460.7H167.2H177.1H186.9V398.6H196.8H206.7H216.5H226.4V383.1H236.3H246.1H256.0H265.9H275.7H285.6H295.5V367.5H305.3H315.2H325.1H334.9V352.0"/><path d="M78.4 554.5H93.2V536.9H108.0V501.7H122.8H137.6V466.4H152.4V457.6H167.2V431.2H182.0V404.8H196.8H211.6V387.2H226.4V378.4H241.2H256.0V369.6H270.8H285.6H300.4H315.2H330.0V352.0"/><path d="M78.4 534.8H93.2V524.7H108.0V504.4H122.8V494.2H137.6V473.9H152.4V443.4H167.2H182.0V423.1H196.8V402.8H211.6H226.4V392.6H241.2H256.0V382.5H270.8V362.2H285.6H300.4H315.2H330.0"/><path d="M78.4 581.7H91.7V558.7H105.0V535.7H118.4V512.8H131.7H145.0V501.3H158.3V455.3H171.6H185.0H198.3V420.9H211.6V409.4H224.9V397.9H238.2H251.6V386.4H264.9H278.2H291.5V375.0H304.8H318.2H331.5V363.5H344.8V352.0"/><path d="M78.4 597.2H87.0H95.6H104.2V559.5H112.8H121.4H130.0H138.6V540.6H147.1H155.7V521.8H164.3H172.9V502.9H181.5H190.1H198.7V484.1H207.3H215.9V446.3H224.5H233.1H241.7V408.6H250.3H258.9H267.5H276.1H284.6H293.2V389.7H301.8H310.4H319.0H327.6V370.9H336.2"/><path d="M78.4 520.1H94.1V508.1H109.7V496.1H125.4V484.1H141.1V436.0H156.8H172.4V412.0H188.1H203.8V400.0H219.4V388.0H235.1V376.0H250.8H266.4H282.1V364.0H297.8H313.5H329.1V352.0"/><path d="M78.4 550.1H90.0V521.8H101.6V502.9H113.1V493.5H124.7V446.3H136.3H147.9V436.9H159.5V427.5H171.1V408.6H182.6V389.7H194.2H205.8H217.4V380.3H229.0H240.6V361.4H252.1H263.7H275.3H286.9H298.5H310.1H321.6H333.2V352.0"/><path d="M78.4 515.9H86.2V506.8H94.1V488.6H101.9V470.4H109.7H117.6H125.4V443.1H133.2H141.1H148.9V424.9H156.8H164.6V406.6H172.4H180.3V370.2H188.1H195.9V361.1H203.8H211.6H219.4H227.3H235.1H242.9H250.8H258.6H266.4H274.3H282.1H290.0H297.8V352.0"/><path d="M78.4 554.0H88.6V538.4H98.9V507.4H109.1H119.4V476.3H129.6H139.9H150.1H160.4V460.7H170.6V445.2H180.9V429.7H191.1V414.1H201.4H211.6V383.1H221.8H232.1H242.3H252.6H262.8V367.5H273.1H283.3H293.6H303.8H314.1H324.3H334.6V352.0"/><path d="M78.4 616.1V532.1H86.5H94.5V508.1H102.6V496.1H110.7V484.1H118.8H126.8V460.0H134.9H143.0H151.1V412.0H159.1H167.2H175.3H183.3V400.0H191.4H199.5V388.0H207.6V376.0H215.6H223.7H231.8V364.0H239.9H247.9H256.0H264.1H272.1V352.0"/><path d="M78.4 496.8H91.7V479.8H105.0V462.8H118.4V428.7H131.7V420.2H145.0V403.1H158.3V386.1H171.6V360.5H185.0V352.0"/><path d="M78.4 565.8H86.7H95.1H103.4H111.7V540.6H120.0V528.1H128.3H136.7V490.3H145.0H153.3H161.7V465.2H170.0H178.3H186.6H194.9V452.6H203.3V414.9H211.6H219.9H228.2H236.6V402.3H244.9H253.2V389.7H261.5H269.9V377.2H278.2H286.5H294.9H303.2H311.5H319.8H328.1V364.6H336.5"/><path d="M78.4 565.3H88.6H98.9V534.8H109.1H119.4V504.4H129.6V484.1H139.9V473.9H150.1V453.6H160.4H170.6V423.1H180.9H191.1H201.4V392.6H211.6H221.8V382.5H232.1H242.3H252.6H262.8V372.3H273.1H283.3H293.6V362.2H303.8H314.1H324.3H334.6V352.0"/><path d="M78.4 616.1H86.2V607.6H94.1V599.1H101.9H109.7V590.5H117.6V573.5H125.4H133.2V565.0H141.1V547.9H148.9V539.4H156.8H164.6H172.4V522.4H180.3V513.9H188.1V496.8H195.9H203.8H211.6V488.3H219.4V479.8H227.3V471.3H235.1V462.8H242.9V454.2H250.8V445.7H258.6H266.4V428.7H274.3H282.1V420.2H290.0V411.6H297.8H305.6V394.6H313.5H321.3V386.1H329.1H337.0V369.0H344.8V352.0"/><path d="M78.4 542.2H93.2H108.0V510.5H122.8H137.6V499.9H152.4V478.8H167.2V457.6H182.0H196.8V415.4H211.6H226.4H241.2V404.8H256.0V373.1H270.8H285.6H300.4H315.2H330.0V352.0"/><path d="M78.4 593.1H95.1V581.7H111.7V570.2H128.3V535.7H145.0V524.2H161.7V501.3H178.3V478.3H194.9V455.3H211.6V443.9H228.2V409.4H244.9H261.5V397.9H278.2V386.4H294.9H311.5H328.1V363.5"/><path d="M78.4 580.1H86.2V568.1H94.1V544.1H101.9H109.7V508.1H117.6H125.4H133.2H141.1V484.1H148.9H156.8V472.0H164.6V460.0H172.4H180.3H188.1V436.0H195.9H203.8H211.6V424.0H219.4V412.0H227.3H235.1H242.9V400.0H250.8H258.6V376.0H266.4H274.3H282.1H290.0H297.8H305.6H313.5V364.0H321.3H329.1H337.0H344.8V352.0"/><path d="M78.4 521.0H87.0H95.6V478.8H104.2H112.8V468.2H121.4V457.6H130.0V425.9H138.6H147.1V415.4H155.7H164.3V383.7H172.9H181.5H190.1V362.6H198.7H207.3V352.0"/><path d="M78.4 581.7H90.5V558.7H102.6H114.7V535.7H126.8H138.9H151.1V524.2H163.2V501.3H175.3V489.8H187.4V466.8H199.5H211.6V432.4H223.7V420.9H235.8H247.9V409.4H260.0V397.9H272.1H284.3H296.4V386.4H308.5H320.6V375.0H332.7V363.5"/><path d="M78.4 616.1V547.6H90.0V528.1H101.6V518.3H113.1V488.9H124.7H136.3H147.9V469.4H159.5V440.0H171.1V430.3H182.6V420.5H194.2V381.3H205.8H217.4H229.0H240.6H252.1V371.6H263.7H275.3H286.9H298.5V361.8H310.1H321.6H333.2V352.0H344.8"/><path d="M78.4 498.7H96.2V469.4H113.9H131.7V449.8H149.4V410.7H167.2V400.9H185.0V381.3H202.7H220.5V371.6H238.2V352.0"/><path d="M78.4 552.7H87.0H95.6H104.2V542.2H112.8V531.6H121.4H130.0H138.6H147.1V499.9H155.7V468.2H164.3H172.9V457.6H181.5H190.1V436.5H198.7H207.3H215.9V415.4H224.5V404.8H233.1H241.7H250.3V383.7H258.9H267.5H276.1H284.6H293.2V373.1H301.8H310.4H319.0H327.6H336.2V362.6"/><path d="M78.4 533.6H87.0H95.6V484.1H104.2H112.8V467.5H121.4H130.0H138.6V459.3H147.1V426.3H155.7H164.3H172.9H181.5V376.8H190.1H198.7H207.3H215.9H224.5H233.1H241.7H250.3V360.3H258.9H267.5H276.1H284.6H293.2H301.8H310.4H319.0V352.0"/></g>
<g fill="none" stroke="#35a2ad" stroke-opacity="0.055" stroke-width="0.7"><path d="M78.4 616.1V528.1H90.0V492.9H101.6H113.1V457.6H124.7V440.0H136.3H147.9V422.4H159.5V387.2H171.1H182.6H194.2H205.8H217.4H229.0H240.6V352.0H252.1"/><path d="M78.4 528.1H94.1V518.3H109.7V488.9H125.4H141.1V430.3H156.8V391.1H172.4H188.1H203.8V371.6H219.4H235.1H250.8H266.4H282.1H297.8V361.8H313.5H329.1"/><path d="M78.4 576.5H87.6H96.8H106.0V536.9H115.1V497.3H124.3H133.5V484.1H142.7H151.9V444.4H161.1H170.3V431.2H179.4V418.0H188.6V404.8H197.8H207.0H216.2H225.4V391.6H234.6H243.8H252.9V378.4H262.1H271.3V365.2H280.5H289.7H298.9H308.1H317.2H326.4H335.6V352.0"/><path d="M78.4 546.2H95.1V507.4H111.7V491.8H128.3V453.0H145.0H161.7V437.4H178.3V429.7H194.9V390.8H211.6V383.1H228.2V367.5H244.9H261.5H278.2V352.0H294.9"/><path d="M78.4 592.8H87.0V585.0H95.6V561.7H104.2H112.8H121.4V530.7H130.0V522.9H138.6V515.1H147.1H155.7V507.4H164.3V484.1H172.9V460.7H181.5V453.0H190.1V429.7H198.7H207.3H215.9H224.5V421.9H233.1H241.7V406.4H250.3H258.9H267.5V383.1H276.1H284.6H293.2H301.8H310.4V375.3H319.0H327.6V367.5H336.2"/><path d="M78.4 616.1V607.3H87.6H96.8V589.7H106.0V580.9H115.1H124.3V563.3H133.5H142.7V545.7H151.9V536.9H161.1H170.3V519.3H179.4H188.6V510.5H197.8V492.9H207.0V484.1H216.2V466.4H225.4V457.6H234.6V448.8H243.8H252.9V431.2H262.1V413.6H271.3H280.5H289.7H298.9V404.8H308.1V387.2H317.2H326.4V378.4H335.6V369.6"/><path d="M78.4 616.1V528.1H87.6H96.8V501.7H106.0V492.9H115.1V466.4H124.3H133.5H142.7V448.8H151.9H161.1V413.6H170.3H179.4H188.6V404.8H197.8V396.0H207.0H216.2H225.4V387.2H234.6H243.8V378.4H252.9H262.1H271.3V369.6H280.5H289.7V360.8H298.9H308.1H317.2H326.4H335.6H344.8V352.0"/><path d="M78.4 585.6H86.2H94.1V575.5H101.9V545.0H109.7V534.8H117.6H125.4H133.2H141.1V524.7H148.9V494.2H156.8H164.6V484.1H172.4V463.7H180.3H188.1H195.9V453.6H203.8V433.3H211.6V423.1H219.4V412.9H227.3H235.1H242.9H250.8V392.6H258.6H266.4H274.3H282.1V382.5H290.0V372.3H297.8H305.6H313.5H321.3H329.1H337.0V362.2H344.8V352.0"/><path d="M78.4 492.9H90.5H102.6V475.2H114.7V457.6H126.8V422.4H138.9H151.1V404.8H163.2H175.3H187.4V369.6H199.5H211.6V352.0"/><path d="M78.4 540.6H91.1H103.8V521.8H116.5V502.9H129.1V465.2H141.8H154.5H167.2V446.3H179.9H192.6V427.5H205.3H217.9V408.6H230.6H243.3V389.7H256.0H268.7H281.4V370.9H294.1H306.7H319.4H332.1V352.0"/><path d="M78.4 605.5H86.5H94.5V595.0H102.6V584.4H110.7H118.8V573.8H126.8V552.7H134.9H143.0V542.2H151.1H159.1V531.6H167.2H175.3H183.3V510.5H191.4H199.5V489.3H207.6V447.1H215.6H223.7H231.8V436.5H239.9H247.9H256.0H264.1V425.9H272.1V415.4H280.2H288.3V404.8H296.4H304.4H312.5V394.3H320.6V383.7H328.7V373.1H336.7"/><path d="M78.4 500.6H88.6H98.9V475.8H109.1V459.3H119.4H129.6H139.9V426.3H150.1H160.4H170.6V418.0H180.9V385.0H191.1H201.4H211.6V352.0H221.8H232.1"/><path d="M78.4 578.4H96.2V553.2H113.9V540.6H131.7V528.1H149.4V490.3H167.2V465.2H185.0V452.6H202.7V402.3H220.5H238.2H256.0H273.8V389.7H291.5V377.2H309.3H327.0V364.6"/><path d="M78.4 484.1H91.7V465.2H105.0V427.5H118.4V408.6H131.7V389.7H145.0H158.3V352.0"/><path d="M78.4 565.3H90.0V555.2H101.6V524.7H113.1H124.7V514.5H136.3V484.1H147.9H159.5H171.1V443.4H182.6H194.2V412.9H205.8H217.4V402.8H229.0H240.6V382.5H252.1H263.7H275.3V372.3H286.9V362.2H298.5H310.1H321.6H333.2"/><path d="M78.4 570.2H97.4H116.5V535.7H135.5V501.3H154.5V478.3H173.5V443.9H192.6V432.4H211.6H230.6V420.9H249.7V386.4H268.7H287.7H306.7V375.0H325.8V363.5"/><path d="M78.4 588.8H86.5V579.7H94.5V570.6H102.6V552.4H110.7V534.1H118.8H126.8V525.0H134.9H143.0V515.9H151.1V506.8H159.1H167.2V497.7H175.3H183.3V461.3H191.4V452.2H199.5V434.0H207.6V424.9H215.6H223.7V406.6H231.8H239.9H247.9H256.0V388.4H264.1H272.1H280.2H288.3V379.3H296.4H304.4H312.5H320.6V370.2H328.7H336.7V361.1"/><path d="M78.4 616.1V532.7H95.1V504.9H111.7V477.1H128.3H145.0V449.3H161.7V407.6H178.3H194.9V393.7H211.6V379.8H228.2H244.9H261.5V365.9H278.2V352.0H294.9"/><path d="M78.4 513.4H87.9H97.4H106.9H116.5V498.7H126.0V454.7H135.5H145.0H154.5V410.7H164.0H173.5H183.1H192.6H202.1V396.0H211.6H221.1H230.6V366.7H240.1H249.7H259.2H268.7H278.2H287.7H297.2H306.7V352.0"/><path d="M78.4 559.5H90.5V540.6H102.6H114.7V521.8H126.8H138.9H151.1V484.1H163.2V465.2H175.3H187.4V446.3H199.5V427.5H211.6H223.7V408.6H235.8H247.9V389.7H260.0H272.1H284.3V370.9H296.4H308.5H320.6H332.7"/><path d="M78.4 573.5H95.1V556.5H111.7H128.3H145.0V505.3H161.7H178.3V479.8H194.9V454.2H211.6V428.7H228.2V411.6H244.9H261.5V394.6H278.2V386.1H294.9V377.6H311.5V369.0H328.1"/><path d="M78.4 616.1V569.5H86.2H94.1V554.0H101.9H109.7V538.4H117.6V507.4H125.4H133.2H141.1V491.8H148.9H156.8H164.6V460.7H172.4H180.3H188.1V445.2H195.9V429.7H203.8H211.6H219.4V414.1H227.3H235.1V398.6H242.9H250.8H258.6H266.4V383.1H274.3H282.1H290.0H297.8H305.6H313.5V367.5H321.3H329.1H337.0"/><path d="M78.4 602.2H91.7V588.3H105.0H118.4V560.5H131.7H145.0V532.7H158.3V518.8H171.6V504.9H185.0H198.3V463.2H211.6H224.9V435.4H238.2V421.5H251.6H264.9V407.6H278.2H291.5V393.7H304.8H318.2V379.8H331.5V365.9"/><path d="M78.4 554.0H90.0V522.9H101.6V507.4H113.1H124.7V468.5H136.3V429.7H147.9H159.5H171.1H182.6V375.3H194.2V367.5H205.8H217.4H229.0H240.6H252.1H263.7H275.3V359.8H286.9H298.5H310.1H321.6V352.0H333.2"/><path d="M78.4 595.0H87.9H97.4V563.3H106.9H116.5H126.0H135.5V531.6H145.0V521.0H154.5V499.9H164.0V489.3H173.5V478.8H183.1V457.6H192.6H202.1V447.1H211.6H221.1V425.9H230.6H240.1H249.7V404.8H259.2H268.7V394.3H278.2H287.7H297.2V383.7H306.7H316.3H325.8V373.1H335.3V362.6"/><path d="M78.4 534.1H93.2H108.0V497.7H122.8V461.3H137.6H152.4H167.2V424.9H182.0H196.8V388.4H211.6H226.4V379.3H241.2H256.0H270.8V370.2H285.6H300.4V361.1H315.2H330.0"/></g>
<line x1="78.4" y1="616.1" x2="78.4" y2="418.0" stroke="#8a8560" stroke-opacity="0.3" stroke-width="0.8"/>
<line x1="160" y1="363.2" x2="345" y2="363.2" stroke="#7a6a55" stroke-opacity="0.26" stroke-width="1.6"/>
<line x1="230" y1="352.6" x2="345" y2="352.6" stroke="#7a6a55" stroke-opacity="0.1" stroke-width="1.6"/>
<linearGradient id="vgBL0" x1="0" y1="0" x2="0" y2="1"><stop offset="0" stop-color="#7a6a55" stop-opacity="0.070"/><stop offset="0.2" stop-color="#7a6a55" stop-opacity="0.14"/><stop offset="0.65" stop-color="#7a6a55" stop-opacity="0.14"/><stop offset="1" stop-color="#7a6a55" stop-opacity="0"/></linearGradient>
<rect x="91.40" y="480" width="2.4" height="120" fill="url(#vgBL0)"/>
<polygon points="78.4,616.1 81.1,511.1 90.4,511.1 92.2,502.0 94.1,494.5 97.0,489.8 101.7,487.9 105.4,481.3 110.1,473.8 113.0,470.0 124.9,454.9 135.9,439.5 140.0,434.8 146.9,425.3 153.8,418.4 160.7,409.7 167.6,402.0 174.5,395.9 181.5,389.0 188.4,384.7 195.3,380.4 203.9,376.0 212.5,372.6 221.2,369.5 225.0,367.5 233.8,365.3 242.5,363.3 251.3,361.4 260.0,359.6 268.8,358.4 277.6,357.4 286.3,357.0 295.1,356.1 303.8,354.4 312.6,353.2 316.1,352.0 344.8,352.0 344.8,352.0 341.5,363.1 335.4,364.0 330.1,365.8 326.6,370.1 321.4,372.8 312.6,376.3 303.8,379.8 295.1,382.4 286.3,385.0 277.6,387.7 268.8,391.2 260.0,394.7 251.3,400.8 242.5,406.1 233.8,413.1 225.0,419.2 221.2,422.5 212.5,427.0 205.6,433.9 198.7,442.5 191.8,451.2 184.9,461.5 178.0,471.9 171.1,480.0 166.6,485.1 162.9,492.6 157.2,500.1 151.6,507.7 145.9,512.4 142.1,519.9 136.5,526.5 130.8,532.1 125.2,537.8 119.5,542.5 113.9,547.2 109.2,551.9 104.5,557.6 100.7,562.3 96.0,565.1 93.2,567.9 91.3,575.5 90.4,582.0 81.1,582.0 78.4,616.1" fill="#808080" fill-opacity="0.36" stroke="none"/>
<line x1="78.4" y1="616.1" x2="344.8" y2="352.0" stroke="#ff5a5a" stroke-width="1.2" stroke-dasharray="2.8 1.505" stroke-dashoffset="0.3"/>
<polyline points="78.4,616.1 81.1,546.3 89.0,546.3 91.3,539.7 93.2,533.1 96.0,527.4 98.8,525.6 102.6,523.7 105.4,519.0 108.2,514.3 113.0,508.6 117.7,503.9 123.3,497.3 129.0,490.7 134.6,483.2 137.4,477.5 140.3,476.0 146.0,466.7 148.6,465.9 152.1,460.7 157.3,456.4 162.5,448.6 167.6,440.8 170.2,439.9 174.5,435.6 179.7,429.6 184.9,423.5 191.8,417.5 197.0,411.5 201.3,410.1 205.6,405.4 209.9,404.5 213.4,399.7 217.7,399.0 222.0,395.6 225.0,393.8 233.8,389.4 242.5,385.0 251.3,382.4 256.5,379.4 260.0,379.4 268.8,376.3 277.6,374.2 286.3,371.9 295.1,370.1 303.8,368.4 312.6,365.8 321.4,363.1 326.6,362.3 330.1,359.6 333.6,357.4 338.9,357.0 341.5,357.4 344.8,352.0" fill="none" stroke="#4a4aea" stroke-width="1.15" stroke-linejoin="round"/>
</g>
<rect x="75.8" y="349.5" width="271.6" height="269.3" fill="none" stroke="#a4a4a4" stroke-width="1.25"/>
<line x1="78.4" y1="618.8" x2="78.4" y2="620.6" stroke="#777" stroke-width="0.8"/>
<line x1="74.0" y1="616.1" x2="75.8" y2="616.1" stroke="#777" stroke-width="0.8"/>
<text x="78.4" y="627.0" font-size="7.6" fill="#222" stroke="#222" stroke-width="0.22" text-anchor="middle" textLength="9.6" lengthAdjust="spacingAndGlyphs">0.0</text>
<text x="62.9" y="618.8" font-size="7.6" fill="#222" stroke="#222" stroke-width="0.22" textLength="9.6" lengthAdjust="spacingAndGlyphs">0.0</text>
<line x1="131.7" y1="618.8" x2="131.7" y2="620.6" stroke="#777" stroke-width="0.8"/>
<line x1="74.0" y1="563.3" x2="75.8" y2="563.3" stroke="#777" stroke-width="0.8"/>
<text x="131.7" y="627.0" font-size="7.6" fill="#222" stroke="#222" stroke-width="0.22" text-anchor="middle" textLength="9.6" lengthAdjust="spacingAndGlyphs">0.2</text>
<text x="62.9" y="566.0" font-size="7.6" fill="#222" stroke="#222" stroke-width="0.22" textLength="9.6" lengthAdjust="spacingAndGlyphs">0.2</text>
<line x1="185.0" y1="618.8" x2="185.0" y2="620.6" stroke="#777" stroke-width="0.8"/>
<line x1="74.0" y1="510.5" x2="75.8" y2="510.5" stroke="#777" stroke-width="0.8"/>
<text x="185.0" y="627.0" font-size="7.6" fill="#222" stroke="#222" stroke-width="0.22" text-anchor="middle" textLength="9.6" lengthAdjust="spacingAndGlyphs">0.4</text>
<text x="62.9" y="513.2" font-size="7.6" fill="#222" stroke="#222" stroke-width="0.22" textLength="9.6" lengthAdjust="spacingAndGlyphs">0.4</text>
<line x1="238.2" y1="618.8" x2="238.2" y2="620.6" stroke="#777" stroke-width="0.8"/>
<line x1="74.0" y1="457.6" x2="75.8" y2="457.6" stroke="#777" stroke-width="0.8"/>
<text x="238.2" y="627.0" font-size="7.6" fill="#222" stroke="#222" stroke-width="0.22" text-anchor="middle" textLength="9.6" lengthAdjust="spacingAndGlyphs">0.6</text>
<text x="62.9" y="460.3" font-size="7.6" fill="#222" stroke="#222" stroke-width="0.22" textLength="9.6" lengthAdjust="spacingAndGlyphs">0.6</text>
<line x1="291.5" y1="618.8" x2="291.5" y2="620.6" stroke="#777" stroke-width="0.8"/>
<line x1="74.0" y1="404.8" x2="75.8" y2="404.8" stroke="#777" stroke-width="0.8"/>
<text x="291.5" y="627.0" font-size="7.6" fill="#222" stroke="#222" stroke-width="0.22" text-anchor="middle" textLength="9.6" lengthAdjust="spacingAndGlyphs">0.8</text>
<text x="62.9" y="407.5" font-size="7.6" fill="#222" stroke="#222" stroke-width="0.22" textLength="9.6" lengthAdjust="spacingAndGlyphs">0.8</text>
<line x1="344.8" y1="618.8" x2="344.8" y2="620.6" stroke="#777" stroke-width="0.8"/>
<line x1="74.0" y1="352.0" x2="75.8" y2="352.0" stroke="#777" stroke-width="0.8"/>
<text x="344.8" y="627.0" font-size="7.6" fill="#222" stroke="#222" stroke-width="0.22" text-anchor="middle" textLength="9.6" lengthAdjust="spacingAndGlyphs">1.0</text>
<text x="62.9" y="354.7" font-size="7.6" fill="#222" stroke="#222" stroke-width="0.22" textLength="9.6" lengthAdjust="spacingAndGlyphs">1.0</text>
<text x="170.4" y="636.6" font-size="9.6" fill="#222" stroke="#222" stroke-width="0.22" textLength="82.4" lengthAdjust="spacingAndGlyphs">False Positive Rate</text>
<text transform="translate(58.9,523.8) rotate(-90)" x="0" y="0" font-size="9.6" fill="#222" stroke="#222" stroke-width="0.22" textLength="79" lengthAdjust="spacingAndGlyphs">True Positive Rate</text>
<rect x="171.3" y="585.6" width="171.9" height="29.0" rx="1.8" fill="#ffffff" fill-opacity="0.88" stroke="#d8d8d8" stroke-width="0.9"/>
<line x1="173.7" y1="593.2" x2="192.6" y2="593.2" stroke="#6a6af6" stroke-width="1.1"/>
<rect x="173.7" y="602.6" width="18.9" height="6.6" fill="#808080" fill-opacity="0.36"/>
<text x="200.2" y="596.3" font-size="9.8" fill="#222" stroke="#222" stroke-width="0.22" textLength="140.1" lengthAdjust="spacingAndGlyphs">Mean ROC (AUC = 0.73 ± 0.08)</text>
<text x="200.2" y="608.5" font-size="9.8" fill="#222" stroke="#222" stroke-width="0.22" textLength="56.8" lengthAdjust="spacingAndGlyphs">± 1 std. dev.</text>
<clipPath id="clipBR"><rect x="409.3" y="349.7" width="271.4" height="269.6"/></clipPath>
<g clip-path="url(#clipBR)">
<g fill="none" stroke="#3a739b" stroke-opacity="0.055" stroke-width="0.7"><path d="M411.5 616.8V498.2H421.7H432.0V452.6H442.2H452.5V425.3H462.7H473.0V416.1H483.2V407.0H493.4H503.7H513.9H524.2V370.5H534.4H544.6H554.9V361.4H565.1H575.4H585.6H595.9H606.1H616.3V352.3"/><path d="M411.5 511.0H419.8H428.1V497.8H436.5H444.8V484.5H453.1V444.9H461.4H469.8H478.1V418.4H486.4H494.7H503.0H511.4H519.7V405.2H528.0H536.3V392.0H544.6V378.8H553.0H561.3V365.5H569.6H577.9H586.3H594.6H602.9H611.2H619.5V352.3"/><path d="M411.5 475.1H426.3V465.7H441.1V418.4H455.9V399.5H470.7H485.5V380.6H500.3V371.2H515.1V352.3"/><path d="M411.5 473.5H420.7V407.4H429.9V396.4H439.0V385.4H448.2H457.4V363.3H466.6H475.8H485.0V352.3"/><path d="M411.5 449.3H421.0V440.5H430.5V396.4H440.0V369.9H449.5H459.1V361.1H468.6H478.1H487.6H497.1H506.6V352.3"/><path d="M411.5 616.8V579.0H422.6H433.7H444.8V541.2H455.9V522.3H467.0H478.1V503.4H489.2H500.3V465.7H511.4H522.5H533.6V446.8H544.6V427.9H555.7V409.0H566.8H577.9V390.1H589.0H600.1H611.2H622.3V371.2H633.4H644.5H655.6V352.3"/><path d="M411.5 550.7H423.1V534.1H434.7V517.6H446.2V484.5H457.8H469.4V451.5H481.0V435.0H492.5H504.1H515.7V401.9H527.3H538.9H550.4V385.4H562.0H573.6H585.2V368.8H596.8H608.3H619.9H631.5H643.1V352.3H654.6H666.2"/><path d="M411.5 415.3H420.1H428.7H437.3H445.9V402.7H454.5V390.1H463.0V364.9H471.6H480.2H488.8V352.3"/><path d="M411.5 616.8V431.6H422.6H433.7V378.8H444.8V365.5H455.9H467.0H478.1H489.2H500.3V352.3"/><path d="M411.5 616.8V540.0H424.8V531.5H438.1V505.9H451.4H464.8V454.7H478.1H491.4V403.5H504.7H518.0V395.0H531.3H544.6V377.9H558.0V369.4H571.3V360.8H584.6H597.9H611.2H624.5H637.9H651.2V352.3"/><path d="M411.5 528.6H419.8H428.1V465.7H436.5H444.8V453.1H453.1H461.4V440.5H469.8V415.3H478.1H486.4H494.7H503.0V402.7H511.4H519.7V377.5H528.0H536.3H544.6H553.0H561.3H569.6V364.9H577.9V352.3"/><path d="M411.5 608.0H427.2V599.2H442.8V581.5H458.5V563.9H474.2H489.8V537.4H505.5V511.0H521.2V493.4H536.8V466.9H552.5V449.3H568.1V440.5H583.8V422.8H599.5V405.2H615.1H630.8V387.6H646.5V369.9H662.1V361.1"/><path d="M411.5 579.0H427.2V528.6H442.8V465.7H458.5H474.2H489.8V440.5H505.5H521.2V402.7H536.8V390.1H552.5H568.1H583.8H599.5V377.5H615.1V364.9H630.8V352.3"/><path d="M411.5 616.8H426.3V592.0H441.1V583.7H455.9V575.5H470.7V550.7H485.5H500.3V525.9H515.1V501.1H529.9V476.3H544.6V451.5H559.4V418.4H574.2H589.0H603.8V401.9H618.6V385.4H633.4V368.8H648.2H663.0V360.6H677.8V352.3"/><path d="M411.5 495.6H428.1V451.5H444.8H461.4V429.4H478.1V407.4H494.7V363.3H511.4H528.0H544.6H561.3H577.9V352.3"/><path d="M411.5 450.3H424.2H436.9V401.3H449.5H462.2V391.5H474.9V362.1H487.6V352.3"/><path d="M411.5 528.6H421.4V473.5H431.2V462.5H441.1H451.0V440.5H460.8H470.7V407.4H480.5H490.4V385.4H500.3H510.1H520.0H529.9V374.3H539.7H549.6V363.3H559.4H569.3H579.2H589.0V352.3"/><path d="M411.5 495.6H421.0H430.5H440.0V484.5H449.5V462.5H459.1V451.5H468.6H478.1H487.6V440.5H497.1V429.4H506.6V396.4H516.1H525.6V385.4H535.1H544.6H554.2V374.3H563.7V363.3H573.2H582.7H592.2H601.7V352.3"/><path d="M411.5 572.7H425.5H439.5V495.6H453.5H467.6V484.5H481.6V462.5H495.6V407.4H509.6H523.6H537.6H551.7V396.4H565.7V385.4H579.7V374.3H593.7V363.3H607.7H621.7H635.8H649.8H663.8V352.3"/><path d="M411.5 570.1H421.4V546.8H431.2H441.1H451.0V523.4H460.8V515.7H470.7V469.0H480.5H490.4H500.3V437.9H510.1H520.0V422.3H529.9H539.7H549.6V414.5H559.4V399.0H569.3H579.2V391.2H589.0V383.4H598.9V375.6H608.8V367.9H618.6H628.5H638.3H648.2V360.1H658.1H667.9V352.3"/><path d="M411.5 563.9H424.8V550.7H438.1V511.0H451.4H464.8V458.1H478.1H491.4V431.6H504.7V405.2H518.0V392.0H531.3H544.6H558.0H571.3V365.5H584.6H597.9H611.2H624.5H637.9H651.2V352.3"/><path d="M411.5 478.8H423.6V444.3H435.7H447.8H459.9V432.8H472.0V398.3H484.1H496.2V363.8H508.3H520.4V352.3"/><path d="M411.5 616.8V515.1H425.5V464.2H439.5V443.9H453.5V403.2H467.6V372.6H481.6H495.6H509.6V362.5H523.6H537.6H551.7H565.7V352.3"/><path d="M411.5 607.0H424.8H438.1V587.4H451.4H464.8V567.8H478.1V538.4H491.4V509.0H504.7H518.0V489.4H531.3V479.7H544.6V460.1H558.0V430.7H571.3H584.6V420.9H597.9V411.1H611.2V391.5H624.5H637.9H651.2V371.9H664.5V362.1"/><path d="M411.5 585.1H427.2V553.3H442.8H458.5V532.2H474.2V500.4H489.8V479.3H505.5V426.4H521.2V415.8H536.8H552.5V405.2H568.1V384.0H583.8V373.5H599.5H615.1H630.8V362.9H646.5H662.1V352.3"/><path d="M411.5 604.2H424.8V591.6H438.1V579.0H451.4V553.8H464.8H478.1V528.6H491.4V490.8H504.7H518.0V478.3H531.3V453.1H544.6V427.9H558.0V415.3H571.3V402.7H584.6H597.9V390.1H611.2H624.5V377.5H637.9H651.2V364.9H664.5V352.3"/></g>
<g fill="none" stroke="#cc792f" stroke-opacity="0.055" stroke-width="0.7"><path d="M411.5 512.9H429.3V494.0H447.0V456.2H464.8V427.9H482.5V399.5H500.3H518.0V371.2H535.8H553.5H571.3V361.7H589.0V352.3"/><path d="M411.5 515.1H419.6V504.9H427.6H435.7H443.8H451.8V474.4H459.9V454.0H468.0H476.1V413.3H484.1H492.2H500.3H508.3H516.4V393.0H524.5H532.5V382.8H540.6H548.7V372.6H556.8H564.8H572.9H581.0H589.0V362.5H597.1H605.2H613.2H621.3H629.4H637.5H645.5V352.3"/><path d="M411.5 616.8H423.1V601.2H434.7H446.2V585.7H457.8V570.1H469.4V539.0H481.0H492.5V492.3H504.1H515.7V476.8H527.3V445.7H538.9H550.4H562.0V414.5H573.6H585.2H596.8V399.0H608.3V383.4H619.9V367.9H631.5H643.1H654.6H666.2V352.3"/><path d="M411.5 444.9H428.1V405.2H444.8V365.5H461.4V352.3"/><path d="M411.5 489.4H419.6H427.6V469.9H435.7V460.1H443.8V450.3H451.8H459.9V420.9H468.0V411.1H476.1V401.3H484.1V391.5H492.2H500.3V371.9H508.3H516.4H524.5V362.1H532.5H540.6H548.7H556.8H564.8H572.9V352.3"/><path d="M411.5 390.1H419.6H427.6V377.5H435.7H443.8V352.3H451.8"/><path d="M411.5 616.8H420.7V590.3H429.9H439.0V563.9H448.2V550.7H457.4V511.0H466.6V497.8H475.8V484.5H485.0V471.3H494.1H503.3H512.5V431.6H521.7H530.9V418.4H540.1H549.2V405.2H558.4H567.6H576.8H586.0V392.0H595.2H604.3H613.5V378.8H622.7H631.9H641.1H650.3V365.5H659.4H668.6V352.3"/><path d="M411.5 577.1H429.3V524.2H447.0H464.8V511.0H482.5V497.8H500.3V471.3H518.0V431.6H535.8V405.2H553.5H571.3V378.8H589.0H606.8V365.5H624.5H642.3H660.0V352.3"/><path d="M411.5 450.3H421.0H430.5H440.0V430.7H449.5V381.7H459.1V362.1H468.6H478.1H487.6H497.1H506.6V352.3"/><path d="M411.5 469.0H419.8H428.1V414.5H436.5V406.8H444.8V391.2H453.1V383.4H461.4V375.6H469.8H478.1H486.4H494.7V360.1H503.0H511.4V352.3"/><path d="M411.5 616.8V523.4H421.7H432.0V507.9H442.2V445.7H452.5H462.7H473.0V430.1H483.2V414.5H493.4H503.7V399.0H513.9V383.4H524.2H534.4H544.6H554.9H565.1V367.9H575.4H585.6H595.9V352.3H606.1"/><path d="M411.5 558.0H420.7V548.2H429.9V518.8H439.0H448.2H457.4V509.0H466.6V479.7H475.8V430.7H485.0H494.1H503.3H512.5V420.9H521.7V391.5H530.9V371.9H540.1H549.2H558.4H567.6H576.8H586.0H595.2H604.3H613.5H622.7V362.1H631.9H641.1H650.3H659.4V352.3"/><path d="M411.5 605.3H421.0H430.5V593.8H440.0V570.8H449.5V559.3H459.1V547.8H468.6V536.3H478.1V524.8H487.6V501.8H497.1H506.6V467.3H516.1H525.6V455.8H535.1H544.6H554.2V421.3H563.7V409.8H573.2H582.7H592.2V398.3H601.7H611.2V386.8H620.7V375.3H630.2H639.8H649.3V363.8H658.8H668.3V352.3"/><path d="M411.5 453.4H430.5V430.1H449.5V399.0H468.6V391.2H487.6V352.3"/><path d="M411.5 616.8V456.2H422.2H432.8V399.5H443.5V390.1H454.1H464.8H475.4H486.1H496.7V352.3"/><path d="M411.5 471.8H419.3H427.2H435.0H442.8V420.6H450.7H458.5H466.3H474.2H482.0V412.0H489.8V395.0H497.7V369.4H505.5H513.3H521.2H529.0H536.8H544.6H552.5H560.3V360.8H568.1H576.0H583.8H591.6H599.5H607.3V352.3"/><path d="M411.5 616.8V468.7H419.8H428.1V447.5H436.5V415.8H444.8H453.1H461.4V384.0H469.8H478.1H486.4H494.7H503.0V373.5H511.4V352.3H519.7"/><path d="M411.5 477.6H425.5H439.5H453.5V435.8H467.6V421.9H481.6V408.0H495.6V380.1H509.6H523.6V366.2H537.6H551.7H565.7V352.3"/><path d="M411.5 609.0H420.4H429.3V593.5H438.1V585.7H447.0V577.9H455.9V570.1H464.8V554.6H473.6V539.0H482.5H491.4V515.7H500.3H509.1H518.0V500.1H526.9V476.8H535.8V453.4H544.6V437.9H553.5V422.3H562.4H571.3V414.5H580.2H589.0V399.0H597.9H606.8H615.7V391.2H624.5V383.4H633.4H642.3H651.2V367.9H660.0H668.9V352.3"/><path d="M411.5 520.6H429.3V472.5H447.0V436.5H464.8H482.5V424.4H500.3V400.4H518.0H535.8V376.3H553.5V364.3H571.3V352.3"/><path d="M411.5 471.3H424.8V444.9H438.1V418.4H451.4V392.0H464.8V352.3"/><path d="M411.5 540.0H422.2H432.8H443.5V514.4H454.1V480.3H464.8V446.2H475.4V437.6H486.1H496.7V429.1H507.4V403.5H518.0H528.7H539.3V369.4H550.0H560.6H571.3H581.9H592.6H603.2V360.8H613.9H624.5H635.2H645.8H656.5H667.1V352.3"/><path d="M411.5 553.8H420.7V528.6H429.9V503.4H439.0V490.8H448.2V465.7H457.4V453.1H466.6V440.5H475.8V415.3H485.0V390.1H494.1H503.3H512.5H521.7H530.9H540.1H549.2V377.5H558.4V364.9H567.6H576.8H586.0H595.2H604.3H613.5H622.7V352.3"/><path d="M411.5 468.0H419.6V459.8H427.6V435.0H435.7H443.8H451.8H459.9V418.4H468.0V393.6H476.1H484.1H492.2V368.8H500.3H508.3H516.4H524.5V352.3"/><path d="M411.5 484.5H420.4H429.3H438.1V451.5H447.0H455.9V418.4H464.8H473.6V401.9H482.5V385.4H491.4H500.3V368.8H509.1V352.3"/><path d="M411.5 616.8V508.6H420.4H429.3V460.5H438.1V436.5H447.0H455.9V412.4H464.8H473.6H482.5H491.4V388.4H500.3H509.1H518.0H526.9H535.8V364.3H544.6H553.5H562.4H571.3V352.3"/></g>
<g fill="none" stroke="#438e43" stroke-opacity="0.055" stroke-width="0.7"><path d="M411.5 468.7H429.3V436.9H447.0H464.8V426.4H482.5V352.3"/><path d="M411.5 616.8V489.8H419.6H427.6V458.1H435.7V436.9H443.8H451.8V405.2H459.9H468.0H476.1H484.1H492.2V362.9H500.3H508.3H516.4H524.5H532.5H540.6H548.7V352.3H556.8"/><path d="M411.5 616.8V468.0H422.6H433.7V435.0H444.8H455.9H467.0V385.4H478.1H489.2H500.3V368.8H511.4H522.5H533.6V352.3"/><path d="M411.5 464.2H419.8H428.1V433.7H436.5H444.8V423.5H453.1H461.4H469.8V413.3H478.1H486.4V403.2H494.7V362.5H503.0H511.4H519.7H528.0V352.3"/><path d="M411.5 616.8V421.3H420.1H428.7V409.8H437.3V398.3H445.9V386.8H454.5H463.0H471.6V363.8H480.2V352.3"/><path d="M411.5 489.4H420.4H429.3H438.1V469.9H447.0V440.5H455.9V420.9H464.8H473.6H482.5V371.9H491.4H500.3H509.1H518.0H526.9H535.8H544.6V362.1H553.5H562.4V352.3H571.3H580.2"/><path d="M411.5 517.6H427.2V484.5H442.8H458.5H474.2V451.5H489.8V435.0H505.5V401.9H521.2H536.8H552.5V385.4H568.1H583.8V368.8H599.5H615.1H630.8V352.3"/><path d="M411.5 440.5H420.1H428.7V381.7H437.3H445.9H454.5H463.0H471.6V367.0H480.2H488.8V352.3"/><path d="M411.5 616.8V501.8H420.7H429.9V467.3H439.0H448.2V421.3H457.4V409.8H466.6H475.8V398.3H485.0H494.1V375.3H503.3H512.5H521.7H530.9H540.1V352.3"/><path d="M411.5 616.8V541.2H421.4V522.3H431.2H441.1V465.7H451.0H460.8V446.8H470.7H480.5V418.4H490.4H500.3V399.5H510.1H520.0H529.9V390.1H539.7V380.6H549.6H559.4H569.3V371.2H579.2H589.0V361.7H598.9H608.8V352.3"/><path d="M411.5 490.3H428.1V467.3H444.8V455.8H461.4V409.8H478.1H494.7H511.4V398.3H528.0V375.3H544.6H561.3V363.8H577.9H594.6V352.3"/><path d="M411.5 616.8V535.4H427.2H442.8V504.9H458.5V464.2H474.2H489.8V423.5H505.5H521.2V413.3H536.8V393.0H552.5V382.8H568.1H583.8V372.6H599.5H615.1V362.5H630.8H646.5V352.3"/><path d="M411.5 455.2H419.6H427.6V411.1H435.7H443.8H451.8V381.7H459.9H468.0V367.0H476.1H484.1H492.2V352.3"/><path d="M411.5 469.9H420.1H428.7V425.8H437.3H445.9V381.7H454.5H463.0H471.6V367.0H480.2H488.8H497.4H506.0H514.6H523.2H531.8V352.3"/><path d="M411.5 498.2H426.3V480.0H441.1V470.9H455.9V425.3H470.7H485.5H500.3V388.8H515.1V379.7H529.9H544.6V370.5H559.4V352.3H574.2H589.0"/><path d="M411.5 616.8V605.8H419.8V594.8H428.1V561.7H436.5V528.6H444.8H453.1H461.4V506.6H469.8V484.5H478.1H486.4H494.7V473.5H503.0V451.5H511.4H519.7H528.0V429.4H536.3H544.6V418.4H553.0V407.4H561.3H569.6H577.9V396.4H586.3H594.6V385.4H602.9H611.2V374.3H619.5H627.9H636.2V363.3H644.5H652.8H661.2H669.5V352.3"/><path d="M411.5 499.2H419.6V489.4H427.6H435.7V460.1H443.8V440.5H451.8V430.7H459.9V391.5H468.0H476.1H484.1H492.2H500.3V381.7H508.3H516.4V352.3"/><path d="M411.5 522.3H422.2H432.8V475.1H443.5V465.7H454.1V437.3H464.8V427.9H475.4H486.1H496.7H507.4V409.0H518.0V380.6H528.7H539.3H550.0V371.2H560.6H571.3V361.7H581.9V352.3"/><path d="M411.5 583.7H428.1V550.7H444.8V501.1H461.4H478.1V468.0H494.7H511.4V435.0H528.0V418.4H544.6H561.3H577.9V401.9H594.6V385.4H611.2H627.9V368.8H644.5H661.2V352.3"/><path d="M411.5 579.0H429.3V560.1H447.0V503.4H464.8V484.5H482.5V465.7H500.3V446.8H518.0H535.8V409.0H553.5V390.1H571.3H589.0H606.8V371.2H624.5H642.3V352.3"/><path d="M411.5 489.1H421.7V480.0H432.0V452.6H442.2V434.4H452.5V425.3H462.7V397.9H473.0H483.2V388.8H493.4V379.7H503.7V370.5H513.9H524.2H534.4V361.4H544.6V352.3"/><path d="M411.5 532.6H428.1V484.5H444.8V460.5H461.4H478.1V424.4H494.7V388.4H511.4H528.0H544.6H561.3V376.3H577.9H594.6V364.3H611.2V352.3"/><path d="M411.5 468.0H420.1V443.2H428.7H437.3V418.4H445.9H454.5V410.2H463.0V393.6H471.6V385.4H480.2V377.1H488.8H497.4H506.0V368.8H514.6V352.3"/><path d="M411.5 616.8V531.2H421.0H430.5V515.7H440.0H449.5H459.1V492.3H468.6V476.8H478.1V469.0H487.6V461.2H497.1V437.9H506.6H516.1V422.3H525.6V399.0H535.1H544.6H554.2V383.4H563.7V375.6H573.2H582.7H592.2H601.7V367.9H611.2H620.7V360.1H630.2H639.8H649.3V352.3"/><path d="M411.5 538.4H427.2V489.4H442.8V450.3H458.5H474.2V430.7H489.8H505.5V391.5H521.2V381.7H536.8H552.5V371.9H568.1H583.8H599.5H615.1V362.1H630.8V352.3"/><path d="M411.5 517.6H430.5V468.0H449.5H468.6V451.5H487.6V418.4H506.6H525.6H544.6V385.4H563.7V368.8H582.7H601.7V352.3"/></g>
<g fill="none" stroke="#b13f40" stroke-opacity="0.055" stroke-width="0.7"><path d="M411.5 616.8H423.1V584.7H434.7V552.7H446.2V544.7H457.8V536.6H469.4V520.6H481.0V488.6H492.5H504.1V464.5H515.7V440.5H527.3V424.4H538.9H550.4V416.4H562.0H573.6V400.4H585.2H596.8V384.4H608.3H619.9V376.3H631.5H643.1V368.3H654.6V360.3H666.2V352.3"/><path d="M411.5 443.5H420.1H428.7V434.4H437.3H445.9H454.5H463.0V416.1H471.6H480.2V388.8H488.8H497.4V361.4H506.0H514.6V352.3"/><path d="M411.5 550.7H423.6V506.6H435.7V495.6H447.8V473.5H459.9V440.5H472.0H484.1V418.4H496.2V407.4H508.3H520.4H532.5V385.4H544.6H556.8V374.3H568.9H581.0H593.1V363.3H605.2H617.3H629.4H641.5H653.6H665.7V352.3"/><path d="M411.5 616.8H421.4V580.3H431.2H441.1V553.0H451.0H460.8V525.6H470.7V498.2H480.5V480.0H490.4V452.6H500.3H510.1V443.5H520.0V434.4H529.9V416.1H539.7H549.6H559.4V397.9H569.3H579.2V388.8H589.0H598.9V379.7H608.8H618.6H628.5V370.5H638.3V361.4H648.2H658.1H667.9V352.3"/><path d="M411.5 553.3H419.6H427.6H435.7V500.4H443.8H451.8H459.9V479.3H468.0V468.7H476.1H484.1V447.5H492.2H500.3V426.4H508.3H516.4V415.8H524.5H532.5H540.6V405.2H548.7H556.8H564.8V373.5H572.9H581.0H589.0H597.1H605.2H613.2V362.9H621.3H629.4H637.5H645.5V352.3"/><path d="M411.5 460.5H421.0V448.5H430.5H440.0V436.5H449.5V376.3H459.1H468.6H478.1H487.6V352.3"/><path d="M411.5 571.2H422.2V543.8H432.8V534.7H443.5V498.2H454.1V489.1H464.8H475.4V452.6H486.1V434.4H496.7V416.1H507.4H518.0V407.0H528.7H539.3V379.7H550.0H560.6H571.3H581.9H592.6H603.2V370.5H613.9H624.5V361.4H635.2H645.8H656.5V352.3"/><path d="M411.5 539.7H420.1V528.6H428.7H437.3V495.6H445.9V462.5H454.5H463.0V440.5H471.6H480.2V418.4H488.8H497.4H506.0H514.6V396.4H523.2H531.8V385.4H540.4H548.9H557.5H566.1H574.7V363.3H583.3H591.9H600.5H609.1H617.7H626.3H634.8H643.4V352.3"/><path d="M411.5 569.6H428.1V550.7H444.8V522.3H461.4H478.1V456.2H494.7H511.4V446.8H528.0V427.9H544.6V399.5H561.3V390.1H577.9V380.6H594.6V371.2H611.2H627.9H644.5H661.2V361.7"/><path d="M411.5 616.8H420.1V606.6H428.7V596.5H437.3H445.9V586.3H454.5V565.9H463.0H471.6V555.8H480.2V535.4H488.8H497.4V525.2H506.0V494.7H514.6V484.5H523.2H531.8H540.4V454.0H548.9H557.5V443.9H566.1V433.7H574.7V423.5H583.3V413.3H591.9H600.5H609.1V382.8H617.7H626.3H634.8H643.4H652.0V362.5H660.6H669.2V352.3H677.8"/><path d="M411.5 616.8V558.9H419.3V525.9H427.2V492.8H435.0H442.8H450.7H458.5H466.3V459.8H474.2H482.0H489.8V451.5H497.7H505.5V435.0H513.3V410.2H521.2V401.9H529.0V385.4H536.8H544.6V377.1H552.5H560.3H568.1H576.0H583.8H591.6H599.5V368.8H607.3H615.1V360.6H623.0H630.8H638.6H646.5V352.3"/><path d="M411.5 616.8V531.8H423.6H435.7H447.8H459.9H472.0V484.5H484.1H496.2V446.8H508.3H520.4V427.9H532.5V399.5H544.6H556.8V390.1H568.9H581.0H593.1V380.6H605.2H617.3V371.2H629.4H641.5V361.7H653.6H665.7V352.3"/><path d="M411.5 458.1H424.2H436.9V418.4H449.5V392.0H462.2H474.9V365.5H487.6V352.3"/><path d="M411.5 580.7H421.7V568.7H432.0V532.6H442.2V508.6H452.5V496.6H462.7V484.5H473.0H483.2V472.5H493.4V436.5H503.7H513.9H524.2V400.4H534.4H544.6H554.9H565.1V388.4H575.4V376.3H585.6H595.9H606.1H616.3V364.3H626.6H636.8H647.1V352.3"/><path d="M411.5 577.9H428.1V554.6H444.8V546.8H461.4V507.9H478.1V469.0H494.7V461.2H511.4V430.1H528.0V422.3H544.6H561.3V391.2H577.9H594.6V375.6H611.2H627.9V367.9H644.5H661.2V360.1"/><path d="M411.5 517.6H419.8H428.1V501.1H436.5H444.8V451.5H453.1V435.0H461.4H469.8H478.1V385.4H486.4H494.7H503.0H511.4H519.7H528.0H536.3H544.6V368.8H553.0H561.3H569.6H577.9H586.3V352.3"/><path d="M411.5 468.0H423.6H435.7H447.8V451.5H459.9V443.2H472.0V418.4H484.1H496.2V393.6H508.3V385.4H520.4H532.5V377.1H544.6H556.8V368.8H568.9H581.0V352.3"/><path d="M411.5 528.6H420.4V475.7H429.3H438.1H447.0V458.1H455.9V440.5H464.8H473.6V422.8H482.5H491.4H500.3H509.1V405.2H518.0H526.9V387.6H535.8V369.9H544.6H553.5H562.4H571.3V352.3"/><path d="M411.5 616.8V479.7H420.7H429.9V460.1H439.0V420.9H448.2H457.4V411.1H466.6V381.7H475.8H485.0V371.9H494.1V362.1H503.3H512.5H521.7H530.9H540.1H549.2H558.4V352.3"/><path d="M411.5 509.0H421.4H431.2V450.3H441.1H451.0H460.8V440.5H470.7H480.5V430.7H490.4H500.3V411.1H510.1V401.3H520.0H529.9V371.9H539.7H549.6H559.4H569.3H579.2H589.0V352.3"/><path d="M411.5 445.7H429.3V437.9H447.0V406.8H464.8V399.0H482.5V375.6H500.3V352.3"/><path d="M411.5 616.8V424.4H421.0H430.5V408.4H440.0H449.5V392.4H459.1V376.3H468.6V368.3H478.1V352.3H487.6"/><path d="M411.5 528.6H419.6V504.6H427.6V488.6H435.7H443.8V472.5H451.8V448.5H459.9V400.4H468.0H476.1H484.1H492.2H500.3V384.4H508.3H516.4V360.3H524.5H532.5H540.6H548.7H556.8H564.8H572.9H581.0H589.0V352.3"/><path d="M411.5 507.9H419.3H427.2H435.0V476.8H442.8H450.7V445.7H458.5H466.3H474.2H482.0H489.8V414.5H497.7H505.5V399.0H513.3V383.4H521.2H529.0H536.8H544.6V367.9H552.5H560.3H568.1H576.0H583.8H591.6H599.5H607.3H615.1H623.0V352.3H630.8"/><path d="M411.5 569.6H419.6H427.6V550.7H435.7V541.2H443.8V531.8H451.8V475.1H459.9H468.0H476.1H484.1V465.7H492.2H500.3V456.2H508.3V446.8H516.4V437.3H524.5V418.4H532.5H540.6V409.0H548.7H556.8V399.5H564.8V390.1H572.9H581.0H589.0V380.6H597.1H605.2H613.2V371.2H621.3H629.4H637.5H645.5V361.7H653.6H661.7H669.7V352.3"/><path d="M411.5 468.7H421.7H432.0V458.1H442.2V415.8H452.5H462.7V405.2H473.0V394.6H483.2V362.9H493.4H503.7H513.9V352.3H524.2"/></g>
<g fill="none" stroke="#8669a1" stroke-opacity="0.055" stroke-width="0.7"><path d="M411.5 531.2H419.3H427.2V507.9H435.0H442.8H450.7V476.8H458.5H466.3V461.2H474.2H482.0V437.9H489.8H497.7V414.5H505.5H513.3H521.2V399.0H529.0H536.8H544.6V391.2H552.5V383.4H560.3V375.6H568.1H576.0H583.8H591.6H599.5H607.3V367.9H615.1V360.1H623.0H630.8H638.6V352.3"/><path d="M411.5 513.9H419.8H428.1V499.2H436.5V469.9H444.8V440.5H453.1H461.4H469.8H478.1H486.4V425.8H494.7V381.7H503.0H511.4H519.7H528.0H536.3V352.3"/><path d="M411.5 414.5H430.5V367.9H449.5H468.6V352.3"/><path d="M411.5 616.8V507.4H419.6V489.1H427.6H435.7V443.5H443.8H451.8V416.1H459.9H468.0H476.1H484.1H492.2V379.7H500.3H508.3H516.4H524.5H532.5V361.4H540.6H548.7H556.8H564.8H572.9H581.0H589.0H597.1V352.3"/><path d="M411.5 475.7H422.6H433.7V458.1H444.8V422.8H455.9V414.0H467.0V387.6H478.1V369.9H489.2V361.1H500.3H511.4H522.5V352.3"/><path d="M411.5 458.1H420.7V447.5H429.9V384.0H439.0H448.2V362.9H457.4H466.6V352.3H475.8"/><path d="M411.5 616.8V501.8H425.5V490.3H439.5V478.8H453.5V455.8H467.6V398.3H481.6H495.6H509.6V363.8H523.6H537.6H551.7H565.7H579.7H593.7V352.3"/><path d="M411.5 616.8V572.7H424.8H438.1V528.6H451.4H464.8V469.9H478.1H491.4H504.7V425.8H518.0V411.1H531.3H544.6H558.0V396.4H571.3V381.7H584.6H597.9H611.2H624.5V367.0H637.9H651.2V352.3"/><path d="M411.5 502.2H419.6H427.6H435.7V493.4H443.8V484.5H451.8V449.3H459.9H468.0V431.6H476.1H484.1V414.0H492.2H500.3H508.3H516.4V405.2H524.5V378.8H532.5H540.6H548.7H556.8H564.8V369.9H572.9H581.0V361.1H589.0H597.1H605.2H613.2H621.3V352.3H629.4H637.5"/><path d="M411.5 490.3H424.8H438.1V467.3H451.4H464.8V444.3H478.1V421.3H491.4V409.8H504.7V375.3H518.0H531.3H544.6V363.8H558.0H571.3H584.6V352.3"/><path d="M411.5 494.7H425.5V484.5H439.5H453.5V443.9H467.6V413.3H481.6H495.6V393.0H509.6H523.6V382.8H537.6H551.7V372.6H565.7H579.7V362.5H593.7V352.3"/><path d="M411.5 616.8H422.6V604.8H433.7V592.8H444.8V568.7H455.9H467.0V532.6H478.1H489.2H500.3V508.6H511.4V460.5H522.5H533.6H544.6V436.5H555.7H566.8V412.4H577.9H589.0H600.1V400.4H611.2H622.3V376.3H633.4H644.5V364.3H655.6H666.7V352.3"/><path d="M411.5 494.7H419.3H427.2V484.5H435.0H442.8V433.7H450.7H458.5V423.5H466.3H474.2H482.0H489.8V393.0H497.7H505.5H513.3H521.2V372.6H529.0H536.8H544.6H552.5H560.3H568.1V362.5H576.0H583.8H591.6V352.3"/><path d="M411.5 583.7H420.7V567.2H429.9H439.0V517.6H448.2V501.1H457.4V468.0H466.6H475.8H485.0V435.0H494.1H503.3V418.4H512.5V401.9H521.7H530.9H540.1H549.2H558.4H567.6V385.4H576.8H586.0H595.2V368.8H604.3H613.5H622.7H631.9H641.1H650.3V352.3"/><path d="M411.5 605.3H419.3H427.2H435.0V593.8H442.8V570.8H450.7V547.8H458.5H466.3H474.2H482.0V536.3H489.8H497.7V501.8H505.5V490.3H513.3V467.3H521.2V455.8H529.0H536.8V444.3H544.6H552.5V432.8H560.3V421.3H568.1H576.0V409.8H583.8H591.6V398.3H599.5H607.3V375.3H615.1H623.0H630.8H638.6H646.5V363.8H654.3H662.1H670.0V352.3"/><path d="M411.5 472.5H421.0H430.5V440.5H440.0H449.5V432.5H459.1V408.4H468.6V384.4H478.1H487.6H497.1H506.6V376.3H516.1V360.3H525.6H535.1H544.6H554.2H563.7H573.2V352.3"/><path d="M411.5 616.8H423.6V590.3H435.7V577.1H447.8H459.9V550.7H472.0H484.1V537.4H496.2V497.8H508.3V484.5H520.4V444.9H532.5H544.6H556.8V418.4H568.9H581.0V405.2H593.1H605.2V392.0H617.3H629.4V378.8H641.5H653.6V365.5H665.7V352.3"/><path d="M411.5 609.0H420.4V601.2H429.3V593.5H438.1V585.7H447.0V570.1H455.9V562.3H464.8V546.8H473.6V492.3H482.5H491.4H500.3V484.5H509.1V453.4H518.0H526.9V437.9H535.8H544.6H553.5V422.3H562.4H571.3V414.5H580.2V406.8H589.0V391.2H597.9H606.8H615.7V383.4H624.5V375.6H633.4H642.3H651.2V360.1H660.0H668.9V352.3"/><path d="M411.5 616.8V608.3H422.6V599.7H433.7V591.2H444.8V582.7H455.9H467.0V548.5H478.1H489.2V531.5H500.3V522.9H511.4V514.4H522.5V480.3H533.6V454.7H544.6H555.7H566.8V429.1H577.9V420.6H589.0H600.1V403.5H611.2V386.4H622.3H633.4H644.5V377.9H655.6V369.4H666.7V352.3"/><path d="M411.5 616.8V528.6H423.6V511.0H435.7H447.8V493.4H459.9V458.1H472.0V440.5H484.1V422.8H496.2H508.3V405.2H520.4V387.6H532.5H544.6V369.9H556.8H568.9H581.0H593.1H605.2V352.3H617.3"/><path d="M411.5 517.6H421.7V506.6H432.0V484.5H442.2V473.5H452.5V418.4H462.7H473.0V396.4H483.2H493.4H503.7H513.9H524.2V374.3H534.4H544.6H554.9V363.3H565.1H575.4H585.6V352.3"/><path d="M411.5 453.4H421.0V422.3H430.5V399.0H440.0V391.2H449.5H459.1V367.9H468.6H478.1V352.3"/><path d="M411.5 522.3H425.5V503.4H439.5V465.7H453.5H467.6V427.9H481.6H495.6H509.6V409.0H523.6V390.1H537.6H551.7V371.2H565.7H579.7H593.7H607.7H621.7V352.3"/><path d="M411.5 516.0H425.5H439.5V490.8H453.5V465.7H467.6V453.1H481.6V427.9H495.6H509.6V390.1H523.6H537.6H551.7V377.5H565.7H579.7V364.9H593.7H607.7H621.7H635.8H649.8V352.3H663.8"/><path d="M411.5 616.8V591.6H427.2H442.8V566.4H458.5V528.6H474.2V490.8H489.8V465.7H505.5H521.2V427.9H536.8H552.5V402.7H568.1H583.8H599.5V377.5H615.1H630.8H646.5V364.9H662.1V352.3"/><path d="M411.5 597.2H419.6V567.8H427.6V558.0H435.7H443.8V518.8H451.8H459.9H468.0H476.1V479.7H484.1H492.2V469.9H500.3V460.1H508.3V430.7H516.4H524.5H532.5V420.9H540.6H548.7H556.8V401.3H564.8V391.5H572.9H581.0H589.0V381.7H597.1H605.2V371.9H613.2H621.3H629.4H637.5H645.5V362.1H653.6H661.7H669.7V352.3"/></g>
<g fill="none" stroke="#815e57" stroke-opacity="0.055" stroke-width="0.7"><path d="M411.5 484.5H422.2H432.8V435.0H443.5H454.1V418.4H464.8H475.4H486.1V368.8H496.7H507.4H518.0V352.3"/><path d="M411.5 493.4H419.6H427.6V440.5H435.7H443.8H451.8V422.8H459.9H468.0H476.1V405.2H484.1H492.2H500.3V387.6H508.3V369.9H516.4H524.5H532.5H540.6H548.7H556.8V352.3H564.8"/><path d="M411.5 602.9H421.0H430.5V589.0H440.0H449.5V575.0H459.1V561.1H468.6V547.2H478.1V519.4H487.6H497.1V491.5H506.6H516.1H525.6V449.7H535.1H544.6H554.2V435.8H563.7V408.0H573.2H582.7H592.2V394.1H601.7H611.2H620.7V380.1H630.2H639.8H649.3V366.2H658.8H668.3V352.3"/><path d="M411.5 568.7H419.6V544.7H427.6V520.6H435.7H443.8H451.8V456.5H459.9H468.0H476.1H484.1V440.5H492.2H500.3H508.3H516.4H524.5V416.4H532.5V408.4H540.6V400.4H548.7H556.8H564.8V384.4H572.9H581.0H589.0V376.3H597.1V368.3H605.2H613.2H621.3V360.3H629.4H637.5H645.5V352.3"/><path d="M411.5 469.9H419.8H428.1H436.5H444.8H453.1V440.5H461.4V411.1H469.8H478.1H486.4H494.7H503.0V396.4H511.4H519.7V367.0H528.0H536.3H544.6H553.0H561.3H569.6H577.9H586.3V352.3"/><path d="M411.5 616.8V473.5H419.6V462.5H427.6H435.7V440.5H443.8V407.4H451.8H459.9V374.3H468.0H476.1H484.1H492.2V363.3H500.3V352.3"/><path d="M411.5 616.8V484.5H419.6V460.5H427.6H435.7H443.8V412.4H451.8H459.9H468.0V400.4H476.1H484.1H492.2V388.4H500.3V364.3H508.3H516.4H524.5H532.5H540.6H548.7V352.3"/><path d="M411.5 509.3H421.4H431.2V484.5H441.1V435.0H451.0H460.8V401.9H470.7H480.5H490.4H500.3V393.6H510.1V377.1H520.0H529.9H539.7V352.3"/><path d="M411.5 581.5H421.4H431.2V563.9H441.1V546.3H451.0V511.0H460.8H470.7V493.4H480.5H490.4V458.1H500.3V440.5H510.1H520.0H529.9V405.2H539.7H549.6H559.4H569.3V387.6H579.2H589.0H598.9V369.9H608.8H618.6H628.5H638.3H648.2H658.1V352.3"/><path d="M411.5 581.5H423.6V572.7H435.7V537.4H447.8H459.9V502.2H472.0V440.5H484.1H496.2V422.8H508.3H520.4H532.5H544.6H556.8V396.4H568.9V387.6H581.0H593.1V378.8H605.2H617.3V369.9H629.4H641.5H653.6V361.1H665.7V352.3"/><path d="M411.5 616.8H427.2V587.4H442.8V558.0H458.5H474.2V499.2H489.8H505.5V469.9H521.2V455.2H536.8V440.5H552.5V411.1H568.1H583.8H599.5V396.4H615.1H630.8V381.7H646.5V367.0H662.1V352.3"/><path d="M411.5 616.8H423.6V601.2H435.7V585.7H447.8V570.1H459.9V554.6H472.0H484.1V539.0H496.2V523.4H508.3V507.9H520.4V461.2H532.5H544.6V445.7H556.8V430.1H568.9V414.5H581.0V399.0H593.1V383.4H605.2H617.3H629.4H641.5V367.9H653.6H665.7V352.3"/><path d="M411.5 484.5H421.0H430.5V458.1H440.0H449.5V444.9H459.1H468.6V392.0H478.1H487.6H497.1H506.6V378.8H516.1H525.6H535.1H544.6V365.5H554.2H563.7H573.2H582.7H592.2V352.3"/><path d="M411.5 547.2H430.5V505.4H449.5V463.7H468.6V449.7H487.6H506.6V408.0H525.6V394.1H544.6V380.1H563.7H582.7H601.7V366.2H620.7H639.8V352.3"/><path d="M411.5 399.5H420.4H429.3H438.1V390.1H447.0V352.3"/><path d="M411.5 454.0H420.7H429.9V433.7H439.0V403.2H448.2V393.0H457.4V382.8H466.6H475.8V372.6H485.0V352.3"/><path d="M411.5 616.8H420.4V602.9H429.3H438.1V575.0H447.0H455.9H464.8H473.6V561.1H482.5V547.2H491.4V533.3H500.3H509.1V519.4H518.0V505.4H526.9V477.6H535.8H544.6V435.8H553.5H562.4H571.3V421.9H580.2H589.0H597.9V408.0H606.8H615.7V394.1H624.5H633.4H642.3V380.1H651.2V366.2H660.0H668.9V352.3"/><path d="M411.5 563.9H429.3H447.0V524.2H464.8V511.0H482.5V444.9H500.3V431.6H518.0H535.8V418.4H553.5V405.2H571.3V378.8H589.0H606.8V365.5H624.5H642.3H660.0V352.3"/><path d="M411.5 607.4H426.3H441.1V541.2H455.9V512.9H470.7H485.5V494.0H500.3V484.5H515.1V446.8H529.9V437.3H544.6V409.0H559.4H574.2V399.5H589.0V390.1H603.8V380.6H618.6V371.2H633.4H648.2V361.7H663.0V352.3"/><path d="M411.5 461.2H427.2H442.8V422.3H458.5V383.4H474.2H489.8V367.9H505.5V352.3H521.2H536.8"/><path d="M411.5 465.7H427.2H442.8H458.5V427.9H474.2V402.7H489.8V390.1H505.5V364.9H521.2H536.8H552.5H568.1V352.3"/><path d="M411.5 616.8H420.1H428.7V607.0H437.3V597.2H445.9V567.8H454.5H463.0V538.4H471.6H480.2H488.8V509.0H497.4V499.2H506.0V469.9H514.6H523.2H531.8V460.1H540.4V450.3H548.9V440.5H557.5V430.7H566.1H574.7V411.1H583.3H591.9V401.3H600.5H609.1V391.5H617.7H626.3V381.7H634.8H643.4V371.9H652.0V362.1H660.6H669.2V352.3"/><path d="M411.5 472.5H420.7H429.9V460.5H439.0V448.5H448.2V424.4H457.4H466.6V400.4H475.8V388.4H485.0H494.1H503.3V364.3H512.5H521.7H530.9V352.3"/><path d="M411.5 505.4H424.2H436.9H449.5H462.2V491.5H474.9V449.7H487.6V435.8H500.3V421.9H512.9V394.1H525.6H538.3H551.0H563.7V380.1H576.4V366.2H589.0H601.7H614.4H627.1H639.8V352.3"/><path d="M411.5 548.2H421.7H432.0V538.4H442.2V509.0H452.5V499.2H462.7V489.4H473.0V479.7H483.2V450.3H493.4H503.7V430.7H513.9V420.9H524.2H534.4V401.3H544.6V391.5H554.9H565.1V381.7H575.4H585.6V371.9H595.9H606.1H616.3V362.1H626.6H636.8H647.1H657.3H667.6V352.3"/><path d="M411.5 550.7H429.3V537.4H447.0V524.2H464.8V458.1H482.5H500.3V431.6H518.0V418.4H535.8V405.2H553.5V378.8H571.3H589.0H606.8V365.5H624.5H642.3H660.0V352.3"/></g>
<g fill="none" stroke="#ba73a4" stroke-opacity="0.055" stroke-width="0.7"><path d="M411.5 440.5H425.5H439.5V381.7H453.5H467.6H481.6H495.6H509.6V352.3"/><path d="M411.5 528.6H420.4V506.6H429.3V495.6H438.1V484.5H447.0V451.5H455.9V407.4H464.8H473.6H482.5V396.4H491.4H500.3H509.1V385.4H518.0H526.9V363.3H535.8H544.6H553.5V352.3"/><path d="M411.5 508.6H426.3H441.1V472.5H455.9V460.5H470.7V436.5H485.5V424.4H500.3V412.4H515.1H529.9V376.3H544.6H559.4H574.2H589.0V364.3H603.8H618.6V352.3"/><path d="M411.5 464.5H425.5H439.5V440.5H453.5H467.6V408.4H481.6V376.3H495.6H509.6H523.6V360.3H537.6H551.7H565.7H579.7H593.7V352.3"/><path d="M411.5 517.6H419.3V484.5H427.2H435.0V468.0H442.8V443.2H450.7H458.5V426.7H466.3H474.2V418.4H482.0H489.8H497.7V393.6H505.5V385.4H513.3H521.2H529.0V368.8H536.8H544.6V360.6H552.5H560.3H568.1H576.0H583.8H591.6H599.5H607.3H615.1H623.0V352.3H630.8"/><path d="M411.5 544.7H430.5V472.5H449.5H468.6V464.5H487.6V456.5H506.6V416.4H525.6V400.4H544.6V376.3H563.7H582.7H601.7V368.3H620.7V360.3H639.8V352.3"/><path d="M411.5 531.8H429.3V503.4H447.0V446.8H464.8V409.0H482.5H500.3V380.6H518.0V371.2H535.8V361.7H553.5H571.3H589.0H606.8V352.3H624.5"/><path d="M411.5 512.9H419.3V503.4H427.2H435.0V456.2H442.8H450.7H458.5H466.3V437.3H474.2H482.0H489.8V409.0H497.7V399.5H505.5H513.3H521.2H529.0V390.1H536.8V371.2H544.6H552.5H560.3H568.1H576.0H583.8H591.6H599.5V352.3"/><path d="M411.5 616.8V583.7H427.2H442.8V517.6H458.5H474.2V484.5H489.8V462.5H505.5H521.2H536.8V429.4H552.5V407.4H568.1H583.8V396.4H599.5V385.4H615.1H630.8V374.3H646.5V363.3H662.1"/><path d="M411.5 601.2H421.7H432.0V585.7H442.2V570.1H452.5V554.6H462.7H473.0V539.0H483.2H493.4V523.4H503.7V476.8H513.9V461.2H524.2H534.4V430.1H544.6H554.9H565.1V414.5H575.4H585.6V399.0H595.9H606.1H616.3V383.4H626.6H636.8H647.1V367.9H657.3H667.6V352.3"/><path d="M411.5 427.9H420.7V409.0H429.9V390.1H439.0H448.2V352.3"/><path d="M411.5 616.8V528.6H419.3H427.2H435.0V495.6H442.8H450.7V484.5H458.5H466.3H474.2V473.5H482.0V451.5H489.8V429.4H497.7H505.5H513.3V418.4H521.2V396.4H529.0H536.8H544.6H552.5V385.4H560.3H568.1H576.0V374.3H583.8H591.6H599.5V363.3H607.3H615.1H623.0H630.8H638.6V352.3"/><path d="M411.5 577.1H422.2V550.7H432.8H443.5V497.8H454.1H464.8V471.3H475.4H486.1V458.1H496.7H507.4V444.9H518.0H528.7V418.4H539.3V405.2H550.0H560.6H571.3V392.0H581.9H592.6V378.8H603.2H613.9H624.5V365.5H635.2H645.8H656.5H667.1V352.3"/><path d="M411.5 607.0H424.2V597.2H436.9V548.2H449.5V518.8H462.2H474.9V499.2H487.6V450.3H500.3V440.5H512.9H525.6V430.7H538.3V420.9H551.0H563.7V401.3H576.4H589.0V391.5H601.7H614.4V381.7H627.1V371.9H639.8H652.4V362.1H665.1V352.3"/><path d="M411.5 528.6H424.8H438.1V513.9H451.4V469.9H464.8H478.1V455.2H491.4V425.8H504.7H518.0H531.3V411.1H544.6V396.4H558.0V381.7H571.3H584.6H597.9V367.0H611.2H624.5H637.9H651.2V352.3"/><path d="M411.5 534.1H420.1V517.6H428.7H437.3V468.0H445.9H454.5H463.0V451.5H471.6H480.2H488.8H497.4V435.0H506.0V385.4H514.6H523.2H531.8H540.4H548.9H557.5H566.1V368.8H574.7H583.3H591.9V352.3"/><path d="M411.5 507.9H427.2V469.0H442.8V437.9H458.5V430.1H474.2V422.3H489.8V399.0H505.5V375.6H521.2V367.9H536.8H552.5H568.1V352.3H583.8"/><path d="M411.5 616.8V460.1H419.6H427.6V440.5H435.7V401.3H443.8H451.8H459.9V371.9H468.0H476.1H484.1V352.3"/><path d="M411.5 475.7H427.2V405.2H442.8H458.5H474.2V369.9H489.8V352.3H505.5"/><path d="M411.5 476.3H419.6H427.6H435.7V435.0H443.8H451.8H459.9H468.0H476.1H484.1V410.2H492.2H500.3H508.3V401.9H516.4V377.1H524.5V360.6H532.5H540.6H548.7H556.8H564.8H572.9H581.0H589.0H597.1V352.3"/><path d="M411.5 616.8H424.8V597.9H438.1V550.7H451.4V541.2H464.8V494.0H478.1H491.4V475.1H504.7V465.7H518.0V437.3H531.3H544.6H558.0V427.9H571.3V418.4H584.6V399.5H597.9V371.2H611.2H624.5H637.9H651.2V361.7H664.5V352.3"/><path d="M411.5 477.6H425.5H439.5H453.5V449.7H467.6V408.0H481.6H495.6V394.1H509.6V380.1H523.6H537.6H551.7H565.7V366.2H579.7H593.7H607.7H621.7V352.3"/><path d="M411.5 508.6H419.6H427.6V496.6H435.7H443.8V472.5H451.8V424.4H459.9H468.0H476.1H484.1V400.4H492.2H500.3V376.3H508.3H516.4H524.5H532.5H540.6H548.7V364.3H556.8H564.8V352.3"/><path d="M411.5 506.6H422.6H433.7V495.6H444.8V484.5H455.9V440.5H467.0V418.4H478.1H489.2H500.3V396.4H511.4V385.4H522.5V374.3H533.6H544.6H555.7V363.3H566.8H577.9H589.0H600.1H611.2V352.3"/><path d="M411.5 553.0H423.1H434.7V534.7H446.2H457.8V507.4H469.4H481.0V498.2H492.5V470.9H504.1V434.4H515.7V425.3H527.3V397.9H538.9H550.4H562.0V388.8H573.6H585.2V379.7H596.8H608.3H619.9V370.5H631.5H643.1V361.4H654.6H666.2V352.3"/><path d="M411.5 547.8H421.4H431.2H441.1V501.8H451.0H460.8H470.7H480.5V455.8H490.4H500.3V409.8H510.1H520.0H529.9H539.7V398.3H549.6V386.8H559.4H569.3V375.3H579.2H589.0H598.9V352.3"/></g>
<g fill="none" stroke="#797979" stroke-opacity="0.055" stroke-width="0.7"><path d="M411.5 493.4H430.5V458.1H449.5V440.5H468.6V369.9H487.6H506.6H525.6H544.6H563.7V352.3"/><path d="M411.5 616.8V547.8H419.6V513.3H427.6V501.8H435.7H443.8V478.8H451.8H459.9V444.3H468.0H476.1H484.1H492.2H500.3H508.3V421.3H516.4V409.8H524.5H532.5V398.3H540.6H548.7V386.8H556.8V375.3H564.8H572.9H581.0H589.0H597.1V363.8H605.2H613.2H621.3H629.4H637.5H645.5V352.3"/><path d="M411.5 616.8H419.3H427.2V600.3H435.0V583.7H442.8V575.5H450.7H458.5V567.2H466.3V550.7H474.2V517.6H482.0V509.3H489.8V501.1H497.7V484.5H505.5V476.3H513.3H521.2H529.0V426.7H536.8H544.6H552.5V418.4H560.3H568.1H576.0V410.2H583.8H591.6V401.9H599.5V385.4H607.3H615.1H623.0H630.8V377.1H638.6H646.5H654.3V368.8H662.1V360.6H670.0V352.3"/><path d="M411.5 537.4H421.4H431.2H441.1V497.8H451.0H460.8H470.7V471.3H480.5H490.4V458.1H500.3V431.6H510.1H520.0H529.9V418.4H539.7V405.2H549.6V392.0H559.4H569.3V378.8H579.2H589.0H598.9H608.8H618.6V365.5H628.5H638.3H648.2V352.3H658.1"/><path d="M411.5 488.8H423.1V480.3H434.7V471.8H446.2V446.2H457.8V437.6H469.4V412.0H481.0V395.0H492.5H504.1V386.4H515.7H527.3V369.4H538.9H550.4V352.3"/><path d="M411.5 446.2H430.5H449.5H468.6V395.0H487.6V386.4H506.6V377.9H525.6V360.8H544.6H563.7V352.3"/><path d="M411.5 525.2H420.4V504.9H429.3V494.7H438.1H447.0H455.9V484.5H464.8V454.0H473.6V443.9H482.5H491.4V403.2H500.3H509.1H518.0H526.9V393.0H535.8V382.8H544.6H553.5H562.4V362.5H571.3H580.2H589.0H597.9H606.8H615.7V352.3"/><path d="M411.5 616.8V580.3H429.3V553.0H447.0V507.4H464.8H482.5V461.7H500.3V452.6H518.0V443.5H535.8V434.4H553.5V407.0H571.3V388.8H589.0V379.7H606.8H624.5V370.5H642.3H660.0V361.4"/><path d="M411.5 513.3H428.1V478.8H444.8V444.3H461.4H478.1V409.8H494.7V398.3H511.4H528.0V386.8H544.6V375.3H561.3H577.9V363.8H594.6H611.2V352.3"/><path d="M411.5 511.0H419.8H428.1V466.9H436.5V458.1H444.8H453.1H461.4H469.8V431.6H478.1V422.8H486.4V414.0H494.7H503.0V396.4H511.4H519.7H528.0V387.6H536.3V369.9H544.6H553.0V361.1H561.3V352.3"/><path d="M411.5 386.4H422.6H433.7V369.4H444.8V352.3"/><path d="M411.5 555.8H426.3V545.6H441.1V494.7H455.9V443.9H470.7H485.5V433.7H500.3V423.5H515.1V382.8H529.9H544.6H559.4V372.6H574.2H589.0H603.8V362.5H618.6V352.3H633.4"/><path d="M411.5 601.2H421.0V570.1H430.5V554.6H440.0V539.0H449.5V523.4H459.1H468.6H478.1V445.7H487.6H497.1V430.1H506.6H516.1V414.5H525.6H535.1H544.6H554.2V383.4H563.7H573.2H582.7H592.2H601.7H611.2V367.9H620.7H630.2V352.3H639.8"/><path d="M411.5 593.5H430.5V570.1H449.5V562.3H468.6V500.1H487.6V476.8H506.6V453.4H525.6V414.5H544.6H563.7V399.0H582.7V391.2H601.7V375.6H620.7H639.8V360.1H658.8"/><path d="M411.5 512.9H423.6H435.7H447.8V484.5H459.9V456.2H472.0H484.1V399.5H496.2H508.3H520.4V390.1H532.5V361.7H544.6H556.8H568.9H581.0H593.1H605.2H617.3H629.4V352.3"/><path d="M411.5 604.8H425.5V592.8H439.5V580.7H453.5H467.6V568.7H481.6V532.6H495.6V520.6H509.6V496.6H523.6V472.5H537.6V460.5H551.7V448.5H565.7V424.4H579.7H593.7V400.4H607.7H621.7V388.4H635.8V376.3H649.8V364.3H663.8"/><path d="M411.5 616.8V465.7H422.6V453.1H433.7V427.9H444.8V415.3H455.9V402.7H467.0V364.9H478.1V352.3"/><path d="M411.5 516.5H422.2H432.8H443.5V489.1H454.1H464.8V461.7H475.4V452.6H486.1V443.5H496.7V397.9H507.4H518.0H528.7H539.3V388.8H550.0H560.6H571.3H581.9V379.7H592.6H603.2H613.9V361.4H624.5H635.2H645.8H656.5V352.3"/><path d="M411.5 468.7H423.6V426.4H435.7V405.2H447.8V394.6H459.9V362.9H472.0H484.1V352.3"/><path d="M411.5 539.0H421.4V476.8H431.2H441.1H451.0V461.2H460.8V430.1H470.7V414.5H480.5H490.4V383.4H500.3H510.1H520.0V367.9H529.9H539.7H549.6H559.4H569.3H579.2V352.3H589.0"/><path d="M411.5 560.1H420.4V541.2H429.3H438.1V522.3H447.0V503.4H455.9V484.5H464.8V465.7H473.6H482.5H491.4V446.8H500.3H509.1V427.9H518.0V409.0H526.9H535.8H544.6H553.5V390.1H562.4H571.3H580.2V371.2H589.0H597.9H606.8H615.7H624.5H633.4V352.3"/><path d="M411.5 567.8H423.1H434.7V528.6H446.2V509.0H457.8H469.4V499.2H481.0V469.9H492.5V450.3H504.1H515.7V440.5H527.3V411.1H538.9V401.3H550.4H562.0V391.5H573.6V381.7H585.2H596.8H608.3H619.9V371.9H631.5H643.1V362.1H654.6H666.2V352.3"/><path d="M411.5 608.8H429.3V600.8H447.0V592.8H464.8V552.7H482.5H500.3V536.6H518.0V512.6H535.8V504.6H553.5V488.6H571.3V464.5H589.0V440.5H606.8V424.4H624.5V400.4H642.3H660.0V368.3"/><path d="M411.5 523.4H419.8H428.1H436.5H444.8V476.8H453.1V461.2H461.4V430.1H469.8H478.1H486.4V414.5H494.7V399.0H503.0H511.4H519.7H528.0H536.3H544.6V383.4H553.0H561.3H569.6V367.9H577.9H586.3H594.6H602.9H611.2H619.5V352.3H627.9"/><path d="M411.5 616.8H424.8V607.4H438.1V579.0H451.4H464.8V550.7H478.1V541.2H491.4H504.7V512.9H518.0V475.1H531.3V465.7H544.6V446.8H558.0V437.3H571.3V427.9H584.6H597.9V409.0H611.2V399.5H624.5V380.6H637.9H651.2V371.2H664.5V361.7"/><path d="M411.5 616.8V436.9H420.1H428.7H437.3V426.4H445.9V373.5H454.5H463.0H471.6V362.9H480.2V352.3"/></g>
<g fill="none" stroke="#a0a13c" stroke-opacity="0.055" stroke-width="0.7"><path d="M411.5 563.9H419.8H428.1V532.2H436.5V500.4H444.8H453.1H461.4H469.8V447.5H478.1V426.4H486.4H494.7V405.2H503.0H511.4H519.7H528.0V394.6H536.3H544.6H553.0H561.3H569.6V384.0H577.9H586.3V373.5H594.6H602.9H611.2H619.5V362.9H627.9H636.2H644.5H652.8H661.2V352.3"/><path d="M411.5 511.0H421.7H432.0V458.1H442.2H452.5H462.7V387.6H473.0H483.2H493.4H503.7H513.9V369.9H524.2V361.1H534.4H544.6H554.9H565.1H575.4V352.3"/><path d="M411.5 616.8V458.1H419.6H427.6V436.9H435.7H443.8V426.4H451.8H459.9H468.0V415.8H476.1H484.1V394.6H492.2H500.3V362.9H508.3H516.4H524.5H532.5H540.6V352.3"/><path d="M411.5 616.8H423.6V575.5H435.7V550.7H447.8V542.4H459.9H472.0V501.1H484.1V484.5H496.2V451.5H508.3H520.4V426.7H532.5H544.6V418.4H556.8V410.2H568.9H581.0V393.6H593.1V385.4H605.2H617.3H629.4V377.1H641.5V368.8H653.6V360.6H665.7V352.3"/><path d="M411.5 539.0H429.3V515.7H447.0V469.0H464.8H482.5V422.3H500.3V399.0H518.0H535.8H553.5H571.3V391.2H589.0V375.6H606.8V367.9H624.5V360.1H642.3V352.3"/><path d="M411.5 478.8H419.8H428.1H436.5V432.8H444.8H453.1H461.4V421.3H469.8V398.3H478.1H486.4V386.8H494.7H503.0V363.8H511.4H519.7H528.0H536.3V352.3H544.6"/><path d="M411.5 497.8H428.1V484.5H444.8V431.6H461.4V418.4H478.1V405.2H494.7H511.4V392.0H528.0V378.8H544.6V352.3"/><path d="M411.5 453.1H419.3V440.5H427.2V427.9H435.0V415.3H442.8H450.7V377.5H458.5H466.3V352.3"/><path d="M411.5 458.1H430.5V444.9H449.5V378.8H468.6H487.6H506.6V352.3"/><path d="M411.5 616.8V541.2H426.3V522.3H441.1V503.4H455.9V484.5H470.7V427.9H485.5H500.3V409.0H515.1V390.1H529.9H544.6H559.4V371.2H574.2H589.0H603.8H618.6V352.3"/><path d="M411.5 579.0H427.2H442.8V550.7H458.5V512.9H474.2H489.8V475.1H505.5V446.8H521.2H536.8V437.3H552.5V399.5H568.1H583.8V390.1H599.5V380.6H615.1V371.2H630.8H646.5H662.1V361.7"/><path d="M411.5 507.9H429.3H447.0V476.8H464.8V461.2H482.5V414.5H500.3V399.0H518.0H535.8V383.4H553.5V367.9H571.3H589.0V352.3"/><path d="M411.5 471.8H426.3V454.7H441.1V437.6H455.9V395.0H470.7H485.5H500.3V352.3"/><path d="M411.5 504.9H423.1V443.9H434.7H446.2V413.3H457.8H469.4H481.0V372.6H492.5H504.1V362.5H515.7H527.3H538.9H550.4H562.0V352.3"/><path d="M411.5 616.8V606.6H428.1V596.5H444.8V576.1H461.4V555.8H478.1V525.2H494.7V504.9H511.4V484.5H528.0V464.2H544.6V423.5H561.3H577.9V403.2H594.6H611.2V382.8H627.9H644.5V372.6H661.2V362.5H677.8V352.3"/><path d="M411.5 531.8H421.7H432.0H442.2V465.7H452.5H462.7H473.0V437.3H483.2V427.9H493.4V418.4H503.7V399.5H513.9V390.1H524.2H534.4V380.6H544.6V371.2H554.9H565.1H575.4H585.6H595.9V361.7H606.1H616.3V352.3"/><path d="M411.5 616.8V488.6H430.5V448.5H449.5H468.6V416.4H487.6V384.4H506.6H525.6V376.3H544.6V352.3"/><path d="M411.5 593.5H422.2H432.8V554.6H443.5V546.8H454.1V539.0H464.8V507.9H475.4V469.0H486.1H496.7H507.4H518.0V437.9H528.7V430.1H539.3V422.3H550.0H560.6H571.3V406.8H581.9V399.0H592.6H603.2V383.4H613.9V375.6H624.5H635.2H645.8V367.9H656.5V360.1H667.1V352.3"/><path d="M411.5 616.8V472.5H419.6H427.6H435.7H443.8V400.4H451.8H459.9H468.0H476.1H484.1H492.2H500.3H508.3V376.3H516.4H524.5V364.3H532.5H540.6H548.7H556.8H564.8H572.9H581.0V352.3"/><path d="M411.5 565.6H421.7H432.0V497.3H442.2H452.5H462.7H473.0V446.2H483.2H493.4V437.6H503.7H513.9V403.5H524.2H534.4H544.6V395.0H554.9H565.1H575.4V369.4H585.6H595.9H606.1H616.3V360.8H626.6H636.8H647.1H657.3H667.6V352.3"/><path d="M411.5 534.1H430.5V517.6H449.5V468.0H468.6V435.0H487.6H506.6H525.6V401.9H544.6V368.8H563.7H582.7H601.7H620.7H639.8V352.3H658.8"/><path d="M411.5 377.9H419.6H427.6H435.7H443.8V360.8H451.8H459.9H468.0V352.3H476.1"/><path d="M411.5 616.8V523.4H423.6H435.7V507.9H447.8V492.3H459.9V461.2H472.0H484.1V445.7H496.2V414.5H508.3V399.0H520.4V383.4H532.5H544.6H556.8H568.9H581.0V367.9H593.1H605.2H617.3V352.3"/><path d="M411.5 409.8H421.0H430.5V386.8H440.0H449.5V363.8H459.1V352.3"/><path d="M411.5 616.8H425.5V599.7H439.5V582.7H453.5H467.6V557.1H481.6V540.0H495.6V514.4H509.6V497.3H523.6H537.6V463.2H551.7V446.2H565.7V437.6H579.7V420.6H593.7H607.7V403.5H621.7V395.0H635.8V386.4H649.8V369.4H663.8V360.8"/><path d="M411.5 547.2H423.1V533.3H434.7H446.2V505.4H457.8V491.5H469.4H481.0V463.7H492.5H504.1V435.8H515.7H527.3V421.9H538.9V408.0H550.4V394.1H562.0V380.1H573.6H585.2H596.8V366.2H608.3H619.9H631.5H643.1H654.6V352.3"/></g>
<g fill="none" stroke="#35a2ad" stroke-opacity="0.055" stroke-width="0.7"><path d="M411.5 583.7H419.6V567.2H427.6V550.7H435.7H443.8V534.1H451.8V501.1H459.9H468.0H476.1V484.5H484.1H492.2V468.0H500.3H508.3V451.5H516.4H524.5H532.5V435.0H540.6V418.4H548.7H556.8V401.9H564.8V385.4H572.9H581.0H589.0H597.1H605.2V368.8H613.2H621.3H629.4H637.5H645.5H653.6V352.3"/><path d="M411.5 602.1H419.6H427.6V587.4H435.7V572.7H443.8H451.8V558.0H459.9V513.9H468.0H476.1V499.2H484.1H492.2V484.5H500.3V455.2H508.3V440.5H516.4H524.5H532.5H540.6H548.7V411.1H556.8H564.8H572.9V396.4H581.0H589.0H597.1H605.2H613.2V381.7H621.3H629.4H637.5V367.0H645.5H653.6H661.7V352.3"/><path d="M411.5 454.0H421.4H431.2V413.3H441.1H451.0V362.5H460.8H470.7H480.5V352.3"/><path d="M411.5 504.9H420.7V474.4H429.9H439.0V433.7H448.2V413.3H457.4V382.8H466.6H475.8H485.0H494.1H503.3H512.5V352.3"/><path d="M411.5 500.1H426.3H441.1V461.2H455.9V437.9H470.7V430.1H485.5V422.3H500.3V399.0H515.1V391.2H529.9V360.1H544.6H559.4H574.2H589.0H603.8H618.6V352.3"/><path d="M411.5 616.8V495.6H428.1V451.5H444.8H461.4V407.4H478.1V385.4H494.7V374.3H511.4V363.3H528.0H544.6V352.3"/><path d="M411.5 550.7H423.6H435.7V517.6H447.8H459.9V501.1H472.0V484.5H484.1V451.5H496.2H508.3V435.0H520.4V418.4H532.5H544.6V401.9H556.8H568.9V385.4H581.0V368.8H593.1H605.2H617.3H629.4H641.5V352.3H653.6"/><path d="M411.5 616.8V418.4H423.1H434.7H446.2V368.8H457.8H469.4V352.3"/><path d="M411.5 603.6H421.4V590.3H431.2V550.7H441.1H451.0H460.8V511.0H470.7V497.8H480.5V484.5H490.4V471.3H500.3V444.9H510.1H520.0V431.6H529.9H539.7H549.6V405.2H559.4V392.0H569.3H579.2H589.0H598.9H608.8V378.8H618.6H628.5V365.5H638.3H648.2H658.1V352.3"/><path d="M411.5 583.7H425.5H439.5V567.2H453.5V550.7H467.6V517.6H481.6V484.5H495.6H509.6V451.5H523.6H537.6V435.0H551.7V418.4H565.7V401.9H579.7H593.7V385.4H607.7H621.7H635.8V368.8H649.8H663.8V352.3"/><path d="M411.5 528.6H419.8V495.6H428.1H436.5V484.5H444.8V473.5H453.1H461.4V462.5H469.8V451.5H478.1V429.4H486.4H494.7V396.4H503.0H511.4V385.4H519.7H528.0H536.3V374.3H544.6H553.0H561.3V363.3H569.6H577.9H586.3H594.6V352.3"/><path d="M411.5 606.6H419.6V555.8H427.6V535.4H435.7V515.1H443.8H451.8H459.9H468.0V484.5H476.1V474.4H484.1H492.2H500.3V413.3H508.3H516.4H524.5H532.5H540.6H548.7V403.2H556.8H564.8V393.0H572.9V372.6H581.0H589.0H597.1H605.2H613.2H621.3H629.4H637.5V362.5H645.5H653.6H661.7V352.3"/><path d="M411.5 461.7H430.5V388.8H449.5V370.5H468.6H487.6V352.3"/><path d="M411.5 504.6H429.3V480.5H447.0V432.5H464.8V416.4H482.5H500.3V400.4H518.0H535.8V368.3H553.5H571.3V360.3H589.0V352.3"/><path d="M411.5 585.1H419.6V553.3H427.6H435.7V542.7H443.8V521.6H451.8H459.9V511.0H468.0V479.3H476.1H484.1H492.2V447.5H500.3H508.3H516.4H524.5H532.5V405.2H540.6H548.7H556.8V394.6H564.8H572.9H581.0V384.0H589.0H597.1H605.2H613.2H621.3V362.9H629.4H637.5H645.5H653.6H661.7V352.3"/><path d="M411.5 616.8V602.9H428.1V575.0H444.8V547.2H461.4V533.3H478.1V491.5H494.7V477.6H511.4H528.0V435.8H544.6V408.0H561.3H577.9V380.1H594.6H611.2H627.9H644.5V366.2H661.2"/><path d="M411.5 479.7H425.5V440.5H439.5H453.5V430.7H467.6V381.7H481.6H495.6H509.6H523.6V371.9H537.6V362.1H551.7H565.7V352.3"/><path d="M411.5 616.8V571.2H424.8H438.1V562.1H451.4V480.0H464.8H478.1H491.4V461.7H504.7V443.5H518.0V434.4H531.3V425.3H544.6V407.0H558.0V397.9H571.3V379.7H584.6H597.9H611.2V370.5H624.5V361.4H637.9H651.2H664.5V352.3"/><path d="M411.5 616.8V456.2H430.5V418.4H449.5V409.0H468.6V361.7H487.6H506.6H525.6H544.6H563.7V352.3"/><path d="M411.5 616.8V505.4H422.2V491.5H432.8V435.8H443.5H454.1V421.9H464.8V394.1H475.4V380.1H486.1H496.7V366.2H507.4H518.0H528.7H539.3H550.0H560.6V352.3"/><path d="M411.5 468.0H420.7H429.9V443.2H439.0V426.7H448.2V418.4H457.4H466.6V385.4H475.8H485.0H494.1H503.3V377.1H512.5V360.6H521.7V352.3H530.9H540.1"/><path d="M411.5 479.3H423.1H434.7H446.2V468.7H457.8V426.4H469.4H481.0H492.5V405.2H504.1H515.7H527.3V394.6H538.9V373.5H550.4V362.9H562.0H573.6H585.2H596.8V352.3"/><path d="M411.5 429.4H424.8H438.1H451.4V418.4H464.8V374.3H478.1V363.3H491.4H504.7V352.3H518.0H531.3"/><path d="M411.5 504.6H423.1V480.5H434.7V448.5H446.2V432.5H457.8H469.4H481.0V416.4H492.5V392.4H504.1H515.7V384.4H527.3V376.3H538.9V368.3H550.4H562.0H573.6V360.3H585.2V352.3"/><path d="M411.5 579.0H420.7H429.9H439.0H448.2V541.2H457.4V522.3H466.6H475.8V484.5H485.0V465.7H494.1H503.3H512.5H521.7V446.8H530.9V427.9H540.1V409.0H549.2H558.4V390.1H567.6H576.8H586.0H595.2H604.3H613.5V371.2H622.7H631.9H641.1H650.3H659.4V352.3"/><path d="M411.5 524.8H421.7V513.3H432.0V478.8H442.2V467.3H452.5H462.7V444.3H473.0V432.8H483.2V421.3H493.4V409.8H503.7H513.9V386.8H524.2V375.3H534.4H544.6H554.9H565.1V352.3"/></g>
<line x1="411.5" y1="616.8" x2="411.5" y2="418.4" stroke="#8a8560" stroke-opacity="0.3" stroke-width="0.8"/>
<line x1="520" y1="352.8" x2="678" y2="352.8" stroke="#7a6a55" stroke-opacity="0.1" stroke-width="1.6"/>
<linearGradient id="vgBR0" x1="0" y1="0" x2="0" y2="1"><stop offset="0" stop-color="#7a6a55" stop-opacity="0.070"/><stop offset="0.2" stop-color="#7a6a55" stop-opacity="0.14"/><stop offset="0.65" stop-color="#7a6a55" stop-opacity="0.14"/><stop offset="1" stop-color="#7a6a55" stop-opacity="0"/></linearGradient>
<rect x="425.00" y="440" width="2.4" height="160" fill="url(#vgBR0)"/>
<polygon points="411.5,616.8 414.2,461.9 425.5,461.9 426.5,440.0 430.0,433.3 435.3,430.7 439.3,424.0 442.8,416.6 447.0,410.0 454.0,400.0 461.0,391.5 468.0,384.0 475.0,379.0 483.8,372.0 492.6,366.9 501.3,361.6 510.1,359.0 518.8,356.9 527.6,354.6 531.1,353.4 534.0,352.3 677.8,352.3 677.8,352.3 677.3,352.6 666.3,353.5 662.7,355.3 657.2,357.1 649.9,358.0 646.2,359.9 637.1,363.5 628.0,365.3 618.9,367.2 609.7,370.8 600.6,374.5 591.5,377.2 582.4,381.8 573.2,385.4 564.1,389.1 555.0,392.7 552.1,395.8 545.1,401.1 538.1,406.3 531.1,411.6 522.3,418.6 513.6,425.6 504.8,434.3 497.8,441.3 490.8,450.5 487.8,453.2 482.1,457.9 476.5,464.5 470.8,473.0 465.2,480.5 459.5,489.0 453.9,498.4 448.2,505.9 442.6,513.4 438.8,521.0 436.0,526.6 431.3,529.5 427.5,534.2 425.6,552.0 425.5,558.7 414.2,558.7 411.5,616.8" fill="#808080" fill-opacity="0.36" stroke="none"/>
<line x1="411.5" y1="616.8" x2="677.8" y2="352.3" stroke="#ff5a5a" stroke-width="1.2" stroke-dasharray="2.8 1.505" stroke-dashoffset="0.3"/>
<polyline points="411.5,616.8 414.2,510.1 422.3,510.1 424.7,502.1 426.6,490.8 428.5,485.2 431.3,481.4 436.0,478.6 438.8,474.8 440.7,468.2 443.5,463.5 448.2,457.9 453.0,451.3 457.5,444.9 462.8,437.8 469.8,429.1 473.3,425.6 478.5,418.6 482.0,418.2 487.3,412.4 492.6,408.1 499.6,400.2 503.1,399.0 506.6,394.0 513.6,390.5 522.3,385.6 527.6,383.5 536.4,379.2 539.9,377.4 545.1,374.4 552.1,373.0 555.6,370.4 564.1,368.1 573.2,365.3 582.4,363.1 591.5,360.8 600.6,358.9 609.7,357.1 618.9,355.7 628.0,354.6 637.1,353.5 646.2,352.7 664.5,352.4 677.8,352.3" fill="none" stroke="#4a4aea" stroke-width="1.15" stroke-linejoin="round"/>
</g>
<rect x="409.3" y="349.7" width="271.4" height="269.6" fill="none" stroke="#a4a4a4" stroke-width="1.25"/>
<line x1="411.5" y1="619.3" x2="411.5" y2="621.1" stroke="#777" stroke-width="0.8"/>
<line x1="407.5" y1="616.8" x2="409.3" y2="616.8" stroke="#777" stroke-width="0.8"/>
<text x="411.5" y="627.5" font-size="7.6" fill="#222" stroke="#222" stroke-width="0.22" text-anchor="middle" textLength="9.6" lengthAdjust="spacingAndGlyphs">0.0</text>
<text x="396.4" y="619.5" font-size="7.6" fill="#222" stroke="#222" stroke-width="0.22" textLength="9.6" lengthAdjust="spacingAndGlyphs">0.0</text>
<line x1="464.8" y1="619.3" x2="464.8" y2="621.1" stroke="#777" stroke-width="0.8"/>
<line x1="407.5" y1="563.9" x2="409.3" y2="563.9" stroke="#777" stroke-width="0.8"/>
<text x="464.8" y="627.5" font-size="7.6" fill="#222" stroke="#222" stroke-width="0.22" text-anchor="middle" textLength="9.6" lengthAdjust="spacingAndGlyphs">0.2</text>
<text x="396.4" y="566.6" font-size="7.6" fill="#222" stroke="#222" stroke-width="0.22" textLength="9.6" lengthAdjust="spacingAndGlyphs">0.2</text>
<line x1="518.0" y1="619.3" x2="518.0" y2="621.1" stroke="#777" stroke-width="0.8"/>
<line x1="407.5" y1="511.0" x2="409.3" y2="511.0" stroke="#777" stroke-width="0.8"/>
<text x="518.0" y="627.5" font-size="7.6" fill="#222" stroke="#222" stroke-width="0.22" text-anchor="middle" textLength="9.6" lengthAdjust="spacingAndGlyphs">0.4</text>
<text x="396.4" y="513.7" font-size="7.6" fill="#222" stroke="#222" stroke-width="0.22" textLength="9.6" lengthAdjust="spacingAndGlyphs">0.4</text>
<line x1="571.3" y1="619.3" x2="571.3" y2="621.1" stroke="#777" stroke-width="0.8"/>
<line x1="407.5" y1="458.1" x2="409.3" y2="458.1" stroke="#777" stroke-width="0.8"/>
<text x="571.3" y="627.5" font-size="7.6" fill="#222" stroke="#222" stroke-width="0.22" text-anchor="middle" textLength="9.6" lengthAdjust="spacingAndGlyphs">0.6</text>
<text x="396.4" y="460.8" font-size="7.6" fill="#222" stroke="#222" stroke-width="0.22" textLength="9.6" lengthAdjust="spacingAndGlyphs">0.6</text>
<line x1="624.5" y1="619.3" x2="624.5" y2="621.1" stroke="#777" stroke-width="0.8"/>
<line x1="407.5" y1="405.2" x2="409.3" y2="405.2" stroke="#777" stroke-width="0.8"/>
<text x="624.5" y="627.5" font-size="7.6" fill="#222" stroke="#222" stroke-width="0.22" text-anchor="middle" textLength="9.6" lengthAdjust="spacingAndGlyphs">0.8</text>
<text x="396.4" y="407.9" font-size="7.6" fill="#222" stroke="#222" stroke-width="0.22" textLength="9.6" lengthAdjust="spacingAndGlyphs">0.8</text>
<line x1="677.8" y1="619.3" x2="677.8" y2="621.1" stroke="#777" stroke-width="0.8"/>
<line x1="407.5" y1="352.3" x2="409.3" y2="352.3" stroke="#777" stroke-width="0.8"/>
<text x="677.8" y="627.5" font-size="7.6" fill="#222" stroke="#222" stroke-width="0.22" text-anchor="middle" textLength="9.6" lengthAdjust="spacingAndGlyphs">1.0</text>
<text x="396.4" y="355.0" font-size="7.6" fill="#222" stroke="#222" stroke-width="0.22" textLength="9.6" lengthAdjust="spacingAndGlyphs">1.0</text>
<text x="503.8" y="637.1" font-size="9.6" fill="#222" stroke="#222" stroke-width="0.22" textLength="82.4" lengthAdjust="spacingAndGlyphs">False Positive Rate</text>
<text transform="translate(392.4,524.1) rotate(-90)" x="0" y="0" font-size="9.6" fill="#222" stroke="#222" stroke-width="0.22" textLength="79" lengthAdjust="spacingAndGlyphs">True Positive Rate</text>
<rect x="503.6" y="586.0" width="173.0" height="29.0" rx="1.8" fill="#ffffff" fill-opacity="0.88" stroke="#d8d8d8" stroke-width="0.9"/>
<line x1="506.0" y1="593.6" x2="524.9" y2="593.6" stroke="#6a6af6" stroke-width="1.1"/>
<rect x="506.0" y="603.0" width="18.9" height="6.6" fill="#808080" fill-opacity="0.36"/>
<text x="532.4" y="596.7" font-size="9.8" fill="#222" stroke="#222" stroke-width="0.22" textLength="140.1" lengthAdjust="spacingAndGlyphs">Mean ROC (AUC = 0.84 ± 0.07)</text>
<text x="532.4" y="608.9" font-size="9.8" fill="#222" stroke="#222" stroke-width="0.22" textLength="56.8" lengthAdjust="spacingAndGlyphs">± 1 std. dev.</text>
<rect x="52.0" y="150.9" width="1.2" height="2.4" fill="#555"/>
<rect x="52.0" y="188.3" width="1.2" height="2.4" fill="#555"/>
<rect x="52.0" y="208.6" width="1.2" height="2.4" fill="#555"/>
<rect x="52.1" y="173.4" width="0.9" height="0.8" fill="#777"/>
<rect x="52.1" y="175.2" width="0.9" height="0.8" fill="#777"/>
<rect x="52.1" y="177.0" width="0.9" height="0.8" fill="#777"/>
<text x="107.4" y="17.5" font-size="24.5" fill="#111" textLength="194.2" lengthAdjust="spacingAndGlyphs">PD-MCI vs. PD-CN</text>
<text x="468.3" y="17.5" font-size="24.5" fill="#111" textLength="160.3" lengthAdjust="spacingAndGlyphs">PDD vs. PD-CN</text>
<text transform="translate(18.4,306.6) rotate(-90)" x="0" y="0" font-size="24.5" fill="#111" textLength="259.4" lengthAdjust="spacingAndGlyphs">sMRI + dMRI + FDG-PET</text>
<text transform="translate(18.4,561.5) rotate(-90)" x="0" y="0" font-size="24.5" fill="#111" textLength="140.6" lengthAdjust="spacingAndGlyphs">sMRI + dMRI</text>
</g></svg>
</body></html>
